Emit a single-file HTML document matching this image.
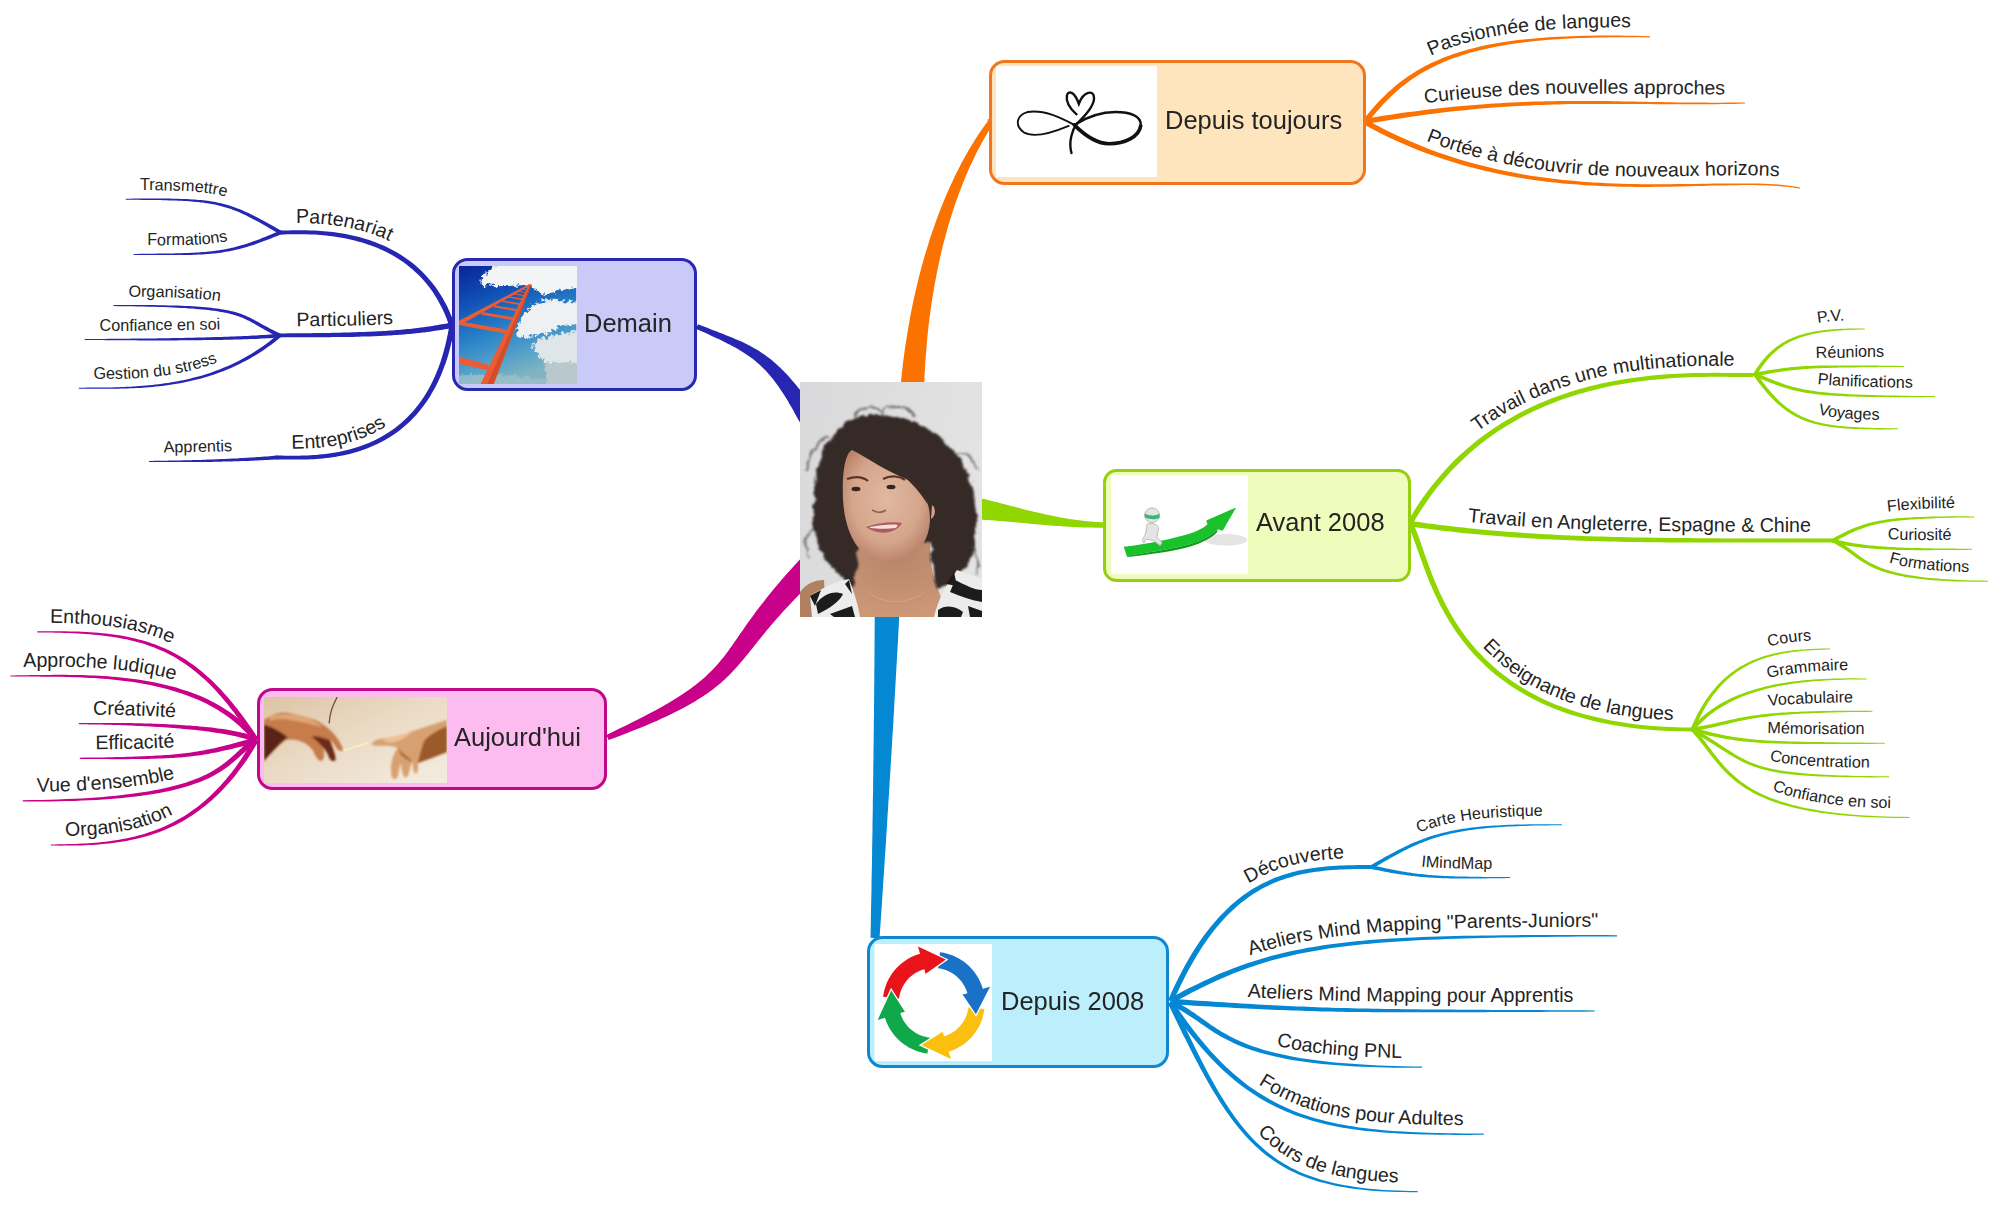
<!DOCTYPE html>
<html><head><meta charset="utf-8"><style>
html,body{margin:0;padding:0;background:#fff;width:2000px;height:1206px;overflow:hidden}
svg{display:block}
text{font-family:"Liberation Sans",sans-serif}
</style></head><body>
<svg width="2000" height="1206" viewBox="0 0 2000 1206">
<defs><path id="tp1" d="M1237.1,276.0 L1357.8,116.6 L1361.7,111.5 L1365.7,106.6 L1369.8,101.9 L1373.9,97.3 L1378.2,92.9 L1382.6,88.6 L1387.1,84.5 L1391.7,80.5 L1396.4,76.7 L1401.3,73.0 L1406.4,69.5 L1411.6,66.1 L1416.9,62.9 L1422.5,59.9 L1428.2,57.0 L1434.0,54.2 L1440.1,51.6 L1446.4,49.1 L1452.9,46.8 L1459.5,44.6 L1466.4,42.6 L1473.6,40.7 L1480.9,38.9 L1488.5,37.3 L1496.4,35.8 L1504.5,34.5 L1512.8,33.2 L1521.5,32.1 L1530.4,31.1 L1539.7,30.3 L1549.2,29.5 L1559.1,28.9 L1569.2,28.4 L1579.7,28.0 L1590.6,27.7 L1601.8,27.5 L1613.3,27.4 L1625.2,27.4 L1637.5,27.6 L1650.2,27.8 L1850.2,32.3"/>
<path id="tp2" d="M1163.5,147.8 L1360.4,113.1 L1372.9,111.0 L1385.2,109.0 L1397.1,107.2 L1408.8,105.5 L1420.3,103.9 L1431.5,102.5 L1442.5,101.2 L1453.3,100.0 L1463.9,99.0 L1474.2,98.0 L1484.4,97.2 L1494.5,96.5 L1504.3,95.8 L1514.0,95.3 L1523.6,94.8 L1533.0,94.4 L1542.3,94.1 L1551.4,93.9 L1560.5,93.7 L1569.5,93.6 L1578.4,93.5 L1587.2,93.4 L1595.9,93.5 L1604.6,93.5 L1613.3,93.6 L1621.9,93.6 L1630.5,93.7 L1639.1,93.9 L1647.7,94.0 L1656.2,94.1 L1664.8,94.2 L1673.5,94.3 L1682.1,94.4 L1690.9,94.4 L1699.6,94.5 L1708.5,94.5 L1717.4,94.4 L1726.4,94.3 L1735.5,94.2 L1744.8,94.0 L1944.7,89.2"/>
<path id="tp3" d="M1194.8,16.6 L1369.4,114.1 L1382.0,120.9 L1394.6,127.2 L1407.3,133.0 L1419.9,138.4 L1432.5,143.3 L1445.1,147.7 L1457.6,151.8 L1470.2,155.5 L1482.7,158.8 L1495.1,161.7 L1507.5,164.3 L1519.8,166.7 L1532.0,168.7 L1544.1,170.4 L1556.2,171.9 L1568.1,173.1 L1579.9,174.1 L1591.6,174.9 L1603.2,175.5 L1614.6,176.0 L1625.9,176.3 L1637.1,176.5 L1648.0,176.6 L1658.8,176.5 L1669.4,176.4 L1679.9,176.3 L1690.1,176.1 L1700.1,175.9 L1709.9,175.7 L1719.5,175.5 L1728.8,175.4 L1737.9,175.3 L1746.8,175.3 L1755.4,175.4 L1763.8,175.6 L1771.9,175.9 L1779.7,176.4 L1787.3,177.1 L1794.6,178.0 L1801.6,179.1 L1998.4,215.1"/>
<path id="tp4" d="M80.6,223.5 L280.6,223.5 L282.4,223.5 L284.5,223.4 L287.0,223.4 L289.9,223.3 L293.0,223.3 L296.4,223.2 L300.1,223.2 L304.1,223.2 L308.2,223.3 L312.6,223.5 L317.2,223.7 L321.9,224.0 L326.8,224.5 L331.9,225.0 L337.0,225.7 L342.3,226.5 L347.7,227.5 L353.2,228.7 L358.7,230.0 L364.3,231.5 L370.0,233.2 L375.6,235.2 L381.3,237.4 L386.9,239.8 L392.5,242.5 L398.1,245.5 L403.6,248.7 L409.0,252.3 L414.3,256.2 L419.5,260.4 L424.6,264.9 L429.5,269.8 L434.2,275.0 L438.7,280.6 L443.0,286.6 L447.0,293.0 L450.8,299.7 L454.4,306.9 L457.6,314.4 L460.5,322.4 L524.7,511.8"/>
<path id="tp5" d="M-74.2,190.2 L125.8,190.2 L132.6,190.2 L139.1,190.2 L145.3,190.2 L151.2,190.3 L156.8,190.3 L162.2,190.4 L167.4,190.5 L172.3,190.6 L177.1,190.7 L181.6,190.9 L185.9,191.1 L190.1,191.3 L194.1,191.6 L198.0,191.9 L201.7,192.3 L205.4,192.7 L208.9,193.2 L212.3,193.7 L215.6,194.3 L218.9,194.9 L222.1,195.7 L225.3,196.4 L228.4,197.3 L231.4,198.2 L234.5,199.3 L237.5,200.4 L240.6,201.5 L243.6,202.8 L246.7,204.1 L249.8,205.5 L252.9,207.0 L256.1,208.6 L259.3,210.3 L262.7,212.0 L266.1,213.9 L269.6,215.9 L273.3,217.9 L277.1,220.1 L281.0,222.3 L285.1,224.7 L458.1,325.0"/>
<path id="tp6" d="M-66.4,245.4 L133.6,245.4 L139.6,245.4 L145.4,245.4 L151.0,245.4 L156.3,245.4 L161.4,245.4 L166.3,245.3 L170.9,245.3 L175.4,245.2 L179.7,245.2 L183.8,245.1 L187.7,244.9 L191.5,244.8 L195.1,244.7 L198.6,244.5 L202.0,244.3 L205.2,244.0 L208.4,243.8 L211.4,243.5 L214.4,243.1 L217.2,242.7 L220.1,242.3 L222.8,241.9 L225.5,241.4 L228.2,240.9 L230.9,240.3 L233.6,239.6 L236.3,239.0 L239.0,238.2 L241.8,237.4 L244.5,236.6 L247.4,235.7 L250.3,234.7 L253.3,233.6 L256.3,232.5 L259.5,231.3 L262.8,230.1 L266.2,228.7 L269.7,227.3 L273.3,225.8 L277.1,224.2 L461.5,146.7"/>
<path id="tp7" d="M79.6,326.3 L279.6,326.3 L287.0,326.3 L294.2,326.3 L301.1,326.3 L307.7,326.2 L314.2,326.2 L320.4,326.1 L326.3,326.1 L332.1,326.0 L337.6,325.9 L343.0,325.8 L348.2,325.7 L353.1,325.6 L357.9,325.4 L362.6,325.3 L367.1,325.1 L371.4,325.0 L375.6,324.8 L379.6,324.6 L383.5,324.4 L387.3,324.2 L391.0,323.9 L394.6,323.7 L398.1,323.4 L401.5,323.1 L404.8,322.8 L408.0,322.5 L411.2,322.2 L414.3,321.9 L417.4,321.5 L420.4,321.1 L423.4,320.8 L426.4,320.3 L429.4,319.9 L432.3,319.5 L435.3,319.0 L438.3,318.5 L441.2,318.0 L444.3,317.5 L447.3,317.0 L450.4,316.4 L647.2,280.8"/>
<path id="tp8" d="M-86.5,296.6 L113.5,296.6 L123.8,296.6 L133.5,296.7 L142.6,296.8 L151.2,296.9 L159.4,297.1 L167.0,297.3 L174.2,297.5 L180.9,297.8 L187.2,298.1 L193.2,298.5 L198.7,298.9 L203.9,299.3 L208.8,299.8 L213.3,300.3 L217.6,300.9 L221.6,301.5 L225.3,302.1 L228.8,302.8 L232.2,303.6 L235.3,304.4 L238.2,305.2 L241.0,306.1 L243.7,307.0 L246.2,308.0 L248.6,309.0 L251.0,310.0 L253.2,311.1 L255.4,312.2 L257.5,313.3 L259.5,314.5 L261.6,315.7 L263.7,316.8 L265.8,318.0 L267.9,319.2 L270.1,320.5 L272.5,321.7 L274.9,323.0 L277.6,324.4 L280.3,325.7 L283.3,327.1 L465.3,410.1"/>
<path id="tp9" d="M-115.4,330.5 L84.6,330.5 L87.9,330.5 L91.4,330.5 L95.1,330.5 L99.1,330.5 L103.2,330.5 L107.5,330.5 L111.9,330.5 L116.5,330.5 L121.2,330.5 L126.1,330.5 L131.1,330.5 L136.2,330.5 L141.4,330.5 L146.6,330.4 L152.0,330.4 L157.4,330.4 L162.9,330.3 L168.4,330.3 L174.0,330.2 L179.6,330.2 L185.1,330.1 L190.7,330.0 L196.3,329.9 L201.9,329.8 L207.4,329.7 L212.9,329.6 L218.3,329.5 L223.7,329.3 L228.9,329.2 L234.1,329.0 L239.2,328.9 L244.2,328.7 L249.1,328.5 L253.8,328.2 L258.4,328.0 L262.9,327.8 L267.1,327.5 L271.2,327.2 L275.1,326.9 L278.8,326.6 L478.0,309.2"/>
<path id="tp10" d="M-121.2,379.2 L78.8,379.2 L83.4,379.2 L88.1,379.2 L92.8,379.2 L97.6,379.2 L102.4,379.2 L107.2,379.1 L112.0,379.1 L116.9,379.0 L121.8,378.8 L126.7,378.7 L131.6,378.4 L136.6,378.2 L141.5,377.8 L146.5,377.4 L151.5,377.0 L156.5,376.4 L161.5,375.8 L166.5,375.1 L171.5,374.4 L176.5,373.5 L181.5,372.5 L186.5,371.4 L191.5,370.3 L196.5,369.0 L201.5,367.6 L206.5,366.0 L211.4,364.4 L216.3,362.6 L221.3,360.6 L226.2,358.6 L231.0,356.3 L235.9,354.0 L240.7,351.4 L245.5,348.7 L250.3,345.9 L255.1,342.8 L259.8,339.6 L264.5,336.2 L269.1,332.6 L273.8,328.7 L426.2,199.3"/>
<path id="tp11" d="M76.7,448.5 L276.7,448.5 L279.7,448.5 L283.0,448.6 L286.4,448.6 L290.1,448.7 L293.9,448.7 L298.0,448.7 L302.2,448.6 L306.6,448.5 L311.1,448.3 L315.8,448.0 L320.6,447.6 L325.4,447.0 L330.4,446.4 L335.4,445.5 L340.5,444.6 L345.6,443.4 L350.7,442.0 L355.8,440.5 L361.0,438.7 L366.1,436.7 L371.1,434.5 L376.1,432.0 L381.1,429.2 L385.9,426.2 L390.7,422.8 L395.4,419.2 L400.0,415.2 L404.4,410.8 L408.7,406.1 L412.9,401.0 L416.9,395.5 L420.7,389.6 L424.3,383.2 L427.8,376.4 L431.0,369.0 L433.9,361.2 L436.7,352.9 L439.1,344.0 L441.3,334.6 L443.1,324.5 L475.5,127.2"/>
<path id="tp12" d="M-51.0,452.4 L149.0,452.4 L150.9,452.4 L152.9,452.4 L155.0,452.4 L157.2,452.4 L159.5,452.4 L161.9,452.4 L164.4,452.4 L166.9,452.4 L169.6,452.3 L172.3,452.3 L175.0,452.3 L177.9,452.3 L180.8,452.2 L183.8,452.2 L186.9,452.2 L190.0,452.1 L193.1,452.1 L196.4,452.0 L199.6,451.9 L203.0,451.9 L206.4,451.8 L209.8,451.7 L213.2,451.6 L216.7,451.5 L220.3,451.4 L223.9,451.3 L227.5,451.2 L231.1,451.0 L234.8,450.9 L238.5,450.7 L242.2,450.6 L245.9,450.4 L249.6,450.2 L253.4,450.0 L257.2,449.8 L260.9,449.5 L264.7,449.3 L268.5,449.1 L272.3,448.8 L276.0,448.5 L475.5,433.6"/>
<path id="tp13" d="M-162.7,622.8 L37.3,622.8 L44.9,622.8 L52.4,622.9 L59.7,623.0 L66.8,623.2 L73.8,623.4 L80.7,623.7 L87.4,624.1 L94.0,624.6 L100.5,625.1 L106.8,625.8 L113.0,626.6 L119.2,627.5 L125.2,628.6 L131.1,629.8 L136.9,631.1 L142.7,632.6 L148.3,634.3 L153.9,636.2 L159.4,638.2 L164.8,640.4 L170.2,642.9 L175.5,645.5 L180.7,648.3 L185.9,651.4 L191.0,654.7 L196.0,658.2 L201.0,662.0 L205.9,666.0 L210.8,670.2 L215.7,674.7 L220.5,679.5 L225.3,684.5 L230.1,689.8 L234.9,695.4 L239.7,701.3 L244.4,707.4 L249.2,713.9 L254.0,720.7 L258.8,727.7 L263.6,735.2 L371.3,903.7"/>
<path id="tp14" d="M-189.6,667.0 L10.4,667.0 L15.6,667.0 L21.1,667.0 L26.7,666.9 L32.4,666.9 L38.4,666.8 L44.5,666.8 L50.7,666.8 L57.0,666.8 L63.5,666.8 L70.1,666.9 L76.7,667.1 L83.5,667.3 L90.3,667.6 L97.2,668.0 L104.1,668.4 L111.1,669.0 L118.1,669.6 L125.1,670.4 L132.1,671.3 L139.2,672.3 L146.2,673.5 L153.2,674.8 L160.1,676.2 L167.1,677.9 L173.9,679.7 L180.7,681.6 L187.5,683.8 L194.1,686.2 L200.7,688.8 L207.1,691.7 L213.5,694.7 L219.7,698.0 L225.7,701.6 L231.6,705.4 L237.4,709.5 L242.9,713.9 L248.3,718.6 L253.4,723.5 L258.4,728.8 L263.0,734.4 L387.5,891.0"/>
<path id="tp15" d="M-121.2,714.6 L78.8,714.6 L82.0,714.6 L85.4,714.6 L89.0,714.6 L92.9,714.6 L96.9,714.7 L101.1,714.7 L105.4,714.8 L109.9,714.8 L114.6,714.9 L119.3,715.0 L124.2,715.1 L129.1,715.3 L134.2,715.4 L139.3,715.6 L144.5,715.8 L149.8,716.0 L155.0,716.2 L160.3,716.5 L165.6,716.8 L171.0,717.1 L176.3,717.5 L181.5,717.8 L186.8,718.3 L192.0,718.7 L197.1,719.2 L202.2,719.7 L207.2,720.2 L212.1,720.8 L216.9,721.5 L221.5,722.1 L226.1,722.8 L230.5,723.6 L234.7,724.4 L238.8,725.3 L242.8,726.2 L246.5,727.2 L250.1,728.2 L253.5,729.3 L256.7,730.5 L259.8,731.8 L441.3,815.7"/>
<path id="tp16" d="M-120.2,749.3 L79.8,749.3 L87.7,749.3 L95.2,749.3 L102.4,749.2 L109.3,749.2 L115.9,749.1 L122.2,749.1 L128.1,749.0 L133.9,748.9 L139.3,748.7 L144.5,748.6 L149.5,748.4 L154.3,748.2 L158.9,748.0 L163.2,747.8 L167.4,747.5 L171.4,747.3 L175.3,747.0 L179.0,746.6 L182.6,746.3 L186.1,745.9 L189.5,745.5 L192.8,745.1 L196.0,744.6 L199.2,744.1 L202.3,743.6 L205.4,743.0 L208.5,742.5 L211.6,741.8 L214.7,741.2 L217.8,740.5 L221.0,739.8 L224.2,739.0 L227.5,738.2 L230.9,737.3 L234.4,736.4 L238.0,735.5 L241.7,734.5 L245.5,733.5 L249.5,732.4 L253.7,731.3 L446.8,679.4"/>
<path id="tp17" d="M-177.2,791.8 L22.8,791.8 L37.4,791.7 L51.3,791.5 L64.5,791.2 L76.9,790.7 L88.7,790.1 L99.8,789.4 L110.3,788.6 L120.2,787.7 L129.4,786.6 L138.1,785.5 L146.3,784.3 L153.9,783.0 L161.0,781.7 L167.6,780.2 L173.8,778.7 L179.5,777.2 L184.8,775.6 L189.7,773.9 L194.3,772.2 L198.5,770.5 L202.3,768.7 L205.9,767.0 L209.3,765.2 L212.4,763.4 L215.2,761.5 L217.9,759.7 L220.5,757.8 L222.9,755.9 L225.2,754.0 L227.5,752.1 L229.7,750.2 L231.8,748.2 L234.0,746.3 L236.2,744.3 L238.4,742.3 L240.7,740.3 L243.1,738.3 L245.6,736.3 L248.3,734.3 L251.1,732.4 L418.9,623.7"/>
<path id="tp18" d="M-149.2,836.0 L50.8,836.0 L56.3,836.0 L61.7,836.0 L67.1,835.9 L72.6,835.8 L78.0,835.6 L83.4,835.4 L88.7,835.1 L94.1,834.8 L99.4,834.3 L104.7,833.8 L110.0,833.2 L115.3,832.4 L120.5,831.6 L125.7,830.6 L130.9,829.5 L136.0,828.3 L141.1,826.9 L146.2,825.4 L151.2,823.7 L156.2,821.8 L161.2,819.8 L166.1,817.6 L171.0,815.2 L175.8,812.6 L180.7,809.7 L185.4,806.7 L190.2,803.4 L194.9,799.9 L199.6,796.2 L204.2,792.2 L208.8,787.9 L213.3,783.3 L217.9,778.5 L222.3,773.3 L226.8,767.8 L231.1,762.1 L235.5,756.0 L239.8,749.5 L244.0,742.7 L248.2,735.6 L346.6,561.5"/>
<path id="tp19" d="M1303.0,692.2 L1402.2,518.5 L1409.7,506.1 L1417.5,494.3 L1425.7,483.2 L1434.2,472.7 L1443.0,462.9 L1452.1,453.7 L1461.4,445.1 L1470.9,437.0 L1480.6,429.5 L1490.5,422.6 L1500.6,416.1 L1510.7,410.2 L1521.0,404.8 L1531.3,399.8 L1541.7,395.2 L1552.1,391.1 L1562.5,387.4 L1572.9,384.1 L1583.3,381.1 L1593.6,378.5 L1603.8,376.1 L1613.9,374.1 L1623.9,372.4 L1633.7,370.9 L1643.4,369.6 L1652.9,368.6 L1662.1,367.8 L1671.1,367.1 L1679.9,366.6 L1688.4,366.3 L1696.6,366.0 L1704.5,365.9 L1712.0,365.8 L1719.1,365.8 L1725.9,365.9 L1732.2,365.9 L1738.1,366.0 L1743.5,366.0 L1748.5,366.0 L1752.8,366.0 L1952.8,362.1"/>
<path id="tp20" d="M1644.7,541.6 L1747.3,369.9 L1749.0,367.1 L1750.8,364.3 L1752.6,361.7 L1754.4,359.1 L1756.3,356.7 L1758.2,354.3 L1760.2,352.0 L1762.2,349.8 L1764.3,347.6 L1766.4,345.6 L1768.7,343.6 L1770.9,341.7 L1773.3,340.0 L1775.6,338.3 L1778.1,336.7 L1780.6,335.1 L1783.2,333.7 L1785.9,332.4 L1788.6,331.1 L1791.4,329.9 L1794.3,328.8 L1797.2,327.8 L1800.2,326.8 L1803.3,326.0 L1806.5,325.2 L1809.7,324.4 L1813.0,323.8 L1816.4,323.1 L1819.9,322.6 L1823.5,322.1 L1827.1,321.7 L1830.9,321.3 L1834.8,321.0 L1838.7,320.7 L1842.8,320.5 L1847.0,320.3 L1851.2,320.2 L1855.6,320.1 L1860.2,320.0 L1864.8,320.0 L2064.8,320.0"/>
<path id="tp21" d="M1556.8,402.5 L1753.3,365.7 L1756.7,365.0 L1759.9,364.4 L1763.1,363.9 L1766.1,363.3 L1769.0,362.8 L1771.9,362.4 L1774.7,361.9 L1777.5,361.5 L1780.2,361.1 L1782.9,360.7 L1785.5,360.4 L1788.2,360.1 L1790.8,359.8 L1793.5,359.5 L1796.2,359.2 L1798.9,359.0 L1801.7,358.8 L1804.5,358.6 L1807.4,358.4 L1810.4,358.3 L1813.5,358.1 L1816.6,358.0 L1819.9,357.9 L1823.3,357.8 L1826.8,357.7 L1830.5,357.7 L1834.4,357.6 L1838.4,357.5 L1842.6,357.5 L1847.0,357.5 L1851.6,357.4 L1856.4,357.4 L1861.4,357.4 L1866.7,357.4 L1872.3,357.4 L1878.1,357.4 L1884.2,357.4 L1890.5,357.4 L1897.2,357.4 L1904.2,357.4 L2104.2,357.4"/>
<path id="tp22" d="M1573.6,289.8 L1758.4,366.2 L1761.6,367.5 L1764.6,368.7 L1767.5,369.9 L1770.3,371.1 L1773.0,372.2 L1775.6,373.2 L1778.2,374.2 L1780.7,375.1 L1783.2,376.0 L1785.6,376.9 L1788.1,377.7 L1790.6,378.5 L1793.1,379.2 L1795.7,379.9 L1798.3,380.5 L1801.0,381.1 L1803.9,381.7 L1806.9,382.3 L1810.0,382.8 L1813.2,383.3 L1816.7,383.7 L1820.3,384.2 L1824.1,384.6 L1828.2,385.0 L1832.5,385.3 L1837.0,385.6 L1841.8,385.9 L1846.9,386.2 L1852.3,386.4 L1858.0,386.6 L1864.0,386.8 L1870.3,387.0 L1877.0,387.1 L1884.1,387.3 L1891.5,387.4 L1899.4,387.5 L1907.6,387.5 L1916.3,387.6 L1925.4,387.6 L1935.0,387.6 L2135.0,387.6"/>
<path id="tp23" d="M1646.6,206.2 L1762.3,369.3 L1764.9,372.9 L1767.5,376.4 L1770.0,379.6 L1772.5,382.7 L1774.9,385.6 L1777.3,388.3 L1779.7,390.9 L1782.1,393.3 L1784.4,395.6 L1786.8,397.7 L1789.1,399.6 L1791.5,401.5 L1793.8,403.2 L1796.2,404.8 L1798.6,406.3 L1801.1,407.7 L1803.7,408.9 L1806.3,410.1 L1808.9,411.2 L1811.7,412.2 L1814.6,413.2 L1817.5,414.0 L1820.6,414.8 L1823.8,415.5 L1827.2,416.2 L1830.7,416.8 L1834.3,417.3 L1838.1,417.7 L1842.1,418.2 L1846.2,418.5 L1850.5,418.8 L1855.0,419.1 L1859.6,419.3 L1864.5,419.4 L1869.5,419.6 L1874.8,419.7 L1880.2,419.7 L1885.9,419.8 L1891.8,419.8 L1897.9,419.8 L2097.9,419.8"/>
<path id="tp24" d="M1213.5,485.6 L1411.4,514.7 L1420.7,516.0 L1430.0,517.3 L1439.3,518.5 L1448.6,519.6 L1457.9,520.7 L1467.2,521.7 L1476.5,522.6 L1485.8,523.5 L1495.2,524.3 L1504.6,525.0 L1514.1,525.7 L1523.6,526.4 L1533.1,527.0 L1542.7,527.5 L1552.4,528.0 L1562.2,528.5 L1572.0,528.9 L1581.9,529.3 L1591.9,529.6 L1602.0,530.0 L1612.1,530.2 L1622.4,530.5 L1632.8,530.7 L1643.3,530.9 L1654.0,531.0 L1664.7,531.1 L1675.6,531.2 L1686.7,531.3 L1697.9,531.4 L1709.2,531.4 L1720.7,531.5 L1732.3,531.5 L1744.1,531.5 L1756.1,531.5 L1768.3,531.5 L1780.6,531.5 L1793.2,531.5 L1805.9,531.5 L1818.9,531.5 L1832.0,531.5 L2032.0,531.5"/>
<path id="tp25" d="M1653.0,628.7 L1828.5,532.7 L1830.8,531.4 L1833.2,530.2 L1835.4,528.9 L1837.7,527.7 L1839.9,526.6 L1842.2,525.4 L1844.4,524.4 L1846.7,523.3 L1848.9,522.3 L1851.2,521.3 L1853.6,520.3 L1855.9,519.4 L1858.4,518.5 L1860.9,517.7 L1863.4,516.8 L1866.1,516.1 L1868.8,515.3 L1871.6,514.7 L1874.5,514.0 L1877.5,513.4 L1880.6,512.8 L1883.8,512.3 L1887.2,511.8 L1890.7,511.3 L1894.4,510.9 L1898.2,510.5 L1902.2,510.1 L1906.4,509.8 L1910.8,509.4 L1915.3,509.2 L1920.1,508.9 L1925.1,508.7 L1930.3,508.5 L1935.8,508.3 L1941.5,508.2 L1947.5,508.1 L1953.7,508.0 L1960.3,507.9 L1967.1,507.9 L1974.2,507.9 L2174.2,507.9"/>
<path id="tp26" d="M1641.9,480.1 L1835.1,531.9 L1837.6,532.5 L1840.1,533.2 L1842.7,533.7 L1845.3,534.3 L1847.9,534.8 L1850.6,535.3 L1853.4,535.7 L1856.2,536.2 L1859.0,536.6 L1861.9,537.0 L1864.8,537.3 L1867.8,537.6 L1870.8,537.9 L1873.9,538.2 L1877.0,538.5 L1880.2,538.7 L1883.4,538.9 L1886.7,539.1 L1890.0,539.3 L1893.4,539.4 L1896.8,539.6 L1900.3,539.7 L1903.8,539.8 L1907.4,539.9 L1911.0,540.0 L1914.7,540.1 L1918.4,540.1 L1922.2,540.2 L1926.0,540.2 L1929.9,540.2 L1933.9,540.3 L1937.9,540.3 L1941.9,540.3 L1946.0,540.3 L1950.2,540.3 L1954.4,540.3 L1958.7,540.3 L1963.1,540.3 L1967.4,540.3 L1971.9,540.3 L2171.9,540.3"/>
<path id="tp27" d="M1655.6,447.3 L1836.6,532.5 L1839.5,533.8 L1842.1,535.3 L1844.6,536.7 L1847.0,538.1 L1849.3,539.6 L1851.5,541.0 L1853.5,542.5 L1855.5,543.9 L1857.4,545.3 L1859.3,546.7 L1861.1,548.1 L1862.9,549.4 L1864.8,550.7 L1866.6,551.9 L1868.5,553.1 L1870.4,554.3 L1872.5,555.5 L1874.6,556.7 L1876.8,557.8 L1879.2,558.9 L1881.8,560.0 L1884.6,561.0 L1887.6,562.1 L1890.8,563.1 L1894.2,564.0 L1898.0,565.0 L1902.0,565.9 L1906.3,566.7 L1910.9,567.5 L1915.9,568.3 L1921.3,569.0 L1927.0,569.6 L1933.1,570.2 L1939.6,570.7 L1946.5,571.2 L1953.8,571.5 L1961.6,571.8 L1969.9,572.0 L1978.6,572.2 L1987.9,572.2 L2187.9,572.2"/>
<path id="tp28" d="M1325.6,342.1 L1418.1,519.4 L1420.0,523.4 L1421.8,527.6 L1423.6,532.2 L1425.4,537.0 L1427.2,542.1 L1429.1,547.4 L1431.0,553.0 L1433.1,558.8 L1435.3,564.8 L1437.7,571.0 L1440.2,577.4 L1442.9,583.8 L1445.9,590.4 L1449.1,597.1 L1452.5,603.8 L1456.3,610.5 L1460.3,617.3 L1464.7,624.0 L1469.5,630.7 L1474.6,637.4 L1480.1,643.9 L1486.0,650.4 L1492.4,656.7 L1499.2,662.8 L1506.5,668.8 L1514.3,674.6 L1522.7,680.2 L1531.7,685.5 L1541.2,690.5 L1551.3,695.3 L1562.1,699.7 L1573.6,703.8 L1585.8,707.4 L1598.7,710.7 L1612.3,713.6 L1626.7,716.0 L1641.9,717.9 L1657.9,719.3 L1674.8,720.2 L1692.5,720.5 L1892.5,720.5"/>
<path id="tp29" d="M1607.9,911.0 L1684.1,726.1 L1686.2,721.1 L1688.4,716.2 L1690.7,711.6 L1693.1,707.1 L1695.5,702.8 L1698.0,698.6 L1700.6,694.6 L1703.3,690.8 L1706.1,687.1 L1708.9,683.6 L1711.9,680.2 L1714.9,677.0 L1718.0,674.0 L1721.2,671.1 L1724.4,668.4 L1727.8,665.8 L1731.2,663.3 L1734.7,661.0 L1738.3,658.9 L1741.9,656.8 L1745.7,655.0 L1749.5,653.2 L1753.4,651.6 L1757.3,650.1 L1761.3,648.8 L1765.4,647.5 L1769.6,646.4 L1773.8,645.3 L1778.1,644.4 L1782.5,643.6 L1786.9,642.9 L1791.4,642.3 L1796.0,641.7 L1800.6,641.3 L1805.4,640.9 L1810.2,640.6 L1815.0,640.4 L1820.0,640.2 L1825.0,640.1 L1830.1,640.1 L2030.1,640.1"/>
<path id="tp30" d="M1558.1,877.9 L1685.5,723.8 L1689.0,719.7 L1692.6,715.9 L1696.5,712.3 L1700.4,708.8 L1704.5,705.6 L1708.8,702.5 L1713.1,699.7 L1717.5,697.0 L1722.1,694.5 L1726.7,692.1 L1731.4,689.9 L1736.1,687.9 L1740.9,686.0 L1745.8,684.2 L1750.7,682.6 L1755.7,681.1 L1760.6,679.8 L1765.6,678.5 L1770.7,677.4 L1775.7,676.4 L1780.7,675.4 L1785.7,674.6 L1790.7,673.8 L1795.7,673.2 L1800.7,672.6 L1805.6,672.1 L1810.5,671.6 L1815.3,671.3 L1820.1,671.0 L1824.8,670.7 L1829.4,670.5 L1834.0,670.3 L1838.4,670.2 L1842.8,670.1 L1847.1,670.0 L1851.2,669.9 L1855.3,669.9 L1859.2,669.9 L1863.0,669.9 L1866.6,669.9 L2066.6,669.9"/>
<path id="tp31" d="M1493.6,753.1 L1690.9,720.6 L1694.6,720.0 L1698.1,719.4 L1701.4,718.7 L1704.6,718.1 L1707.7,717.5 L1710.6,716.8 L1713.4,716.2 L1716.2,715.6 L1718.9,714.9 L1721.6,714.3 L1724.3,713.7 L1727.0,713.1 L1729.7,712.4 L1732.4,711.8 L1735.2,711.2 L1738.1,710.6 L1741.1,710.0 L1744.2,709.4 L1747.4,708.9 L1750.7,708.3 L1754.2,707.8 L1757.8,707.3 L1761.7,706.8 L1765.7,706.3 L1770.0,705.9 L1774.5,705.4 L1779.2,705.0 L1784.2,704.6 L1789.6,704.3 L1795.2,704.0 L1801.1,703.7 L1807.4,703.4 L1814.1,703.1 L1821.1,702.9 L1828.6,702.7 L1836.4,702.6 L1844.7,702.5 L1853.5,702.4 L1862.7,702.3 L1872.4,702.3 L2072.4,702.3"/>
<path id="tp32" d="M1500.8,671.4 L1694.6,720.8 L1698.2,721.7 L1701.7,722.6 L1705.0,723.4 L1708.2,724.2 L1711.3,724.9 L1714.3,725.6 L1717.3,726.3 L1720.2,726.9 L1723.1,727.5 L1725.9,728.1 L1728.7,728.6 L1731.6,729.1 L1734.5,729.6 L1737.4,730.0 L1740.4,730.4 L1743.5,730.8 L1746.7,731.2 L1750.1,731.5 L1753.5,731.8 L1757.1,732.1 L1760.9,732.4 L1764.8,732.6 L1769.0,732.8 L1773.3,733.1 L1777.9,733.2 L1782.8,733.4 L1787.9,733.6 L1793.2,733.7 L1798.9,733.8 L1804.9,733.9 L1811.2,734.0 L1817.8,734.1 L1824.8,734.1 L1832.1,734.2 L1839.9,734.2 L1848.0,734.3 L1856.5,734.3 L1865.5,734.3 L1874.9,734.3 L1884.8,734.3 L2084.8,734.3"/>
<path id="tp33" d="M1523.6,621.9 L1696.9,721.7 L1701.5,724.4 L1705.8,727.0 L1709.9,729.5 L1713.7,731.9 L1717.3,734.2 L1720.8,736.4 L1724.0,738.5 L1727.2,740.5 L1730.2,742.5 L1733.0,744.3 L1735.8,746.0 L1738.5,747.7 L1741.2,749.2 L1743.9,750.7 L1746.5,752.1 L1749.2,753.4 L1751.9,754.6 L1754.8,755.8 L1757.7,756.9 L1760.8,757.9 L1764.0,758.9 L1767.4,759.9 L1771.1,760.7 L1775.0,761.6 L1779.2,762.4 L1783.6,763.1 L1788.4,763.7 L1793.5,764.4 L1799.0,764.9 L1804.8,765.4 L1811.1,765.9 L1817.8,766.3 L1824.9,766.7 L1832.5,767.0 L1840.6,767.2 L1849.1,767.4 L1858.3,767.6 L1867.9,767.7 L1878.2,767.8 L1889.0,767.8 L2089.0,767.8"/>
<path id="tp34" d="M1563.7,576.2 L1699.0,723.4 L1701.9,726.6 L1704.6,729.7 L1707.1,732.9 L1709.6,736.0 L1712.1,739.2 L1714.4,742.3 L1716.8,745.3 L1719.1,748.3 L1721.4,751.3 L1723.8,754.3 L1726.2,757.1 L1728.6,760.0 L1731.2,762.7 L1733.8,765.5 L1736.6,768.1 L1739.5,770.7 L1742.5,773.3 L1745.8,775.8 L1749.3,778.3 L1753.0,780.6 L1756.9,783.0 L1761.2,785.2 L1765.7,787.4 L1770.6,789.5 L1775.8,791.6 L1781.4,793.5 L1787.4,795.4 L1793.8,797.2 L1800.6,798.9 L1807.9,800.4 L1815.6,801.8 L1823.9,803.2 L1832.6,804.3 L1841.9,805.4 L1851.7,806.3 L1862.1,807.0 L1873.1,807.6 L1884.7,808.0 L1896.9,808.3 L1909.7,808.4 L2109.7,808.4"/>
<path id="tp35" d="M1082.6,1180.8 L1162.3,997.4 L1166.7,987.8 L1171.1,978.5 L1175.5,969.8 L1180.0,961.4 L1184.5,953.5 L1189.1,946.0 L1193.8,938.9 L1198.5,932.1 L1203.2,925.7 L1208.1,919.7 L1212.9,914.1 L1217.9,908.7 L1222.9,903.8 L1227.9,899.1 L1233.1,894.8 L1238.2,890.7 L1243.4,887.0 L1248.7,883.5 L1254.0,880.4 L1259.4,877.5 L1264.7,874.8 L1270.2,872.4 L1275.6,870.3 L1281.1,868.4 L1286.6,866.6 L1292.2,865.1 L1297.7,863.8 L1303.3,862.6 L1308.9,861.7 L1314.5,860.8 L1320.2,860.1 L1325.8,859.6 L1331.5,859.1 L1337.2,858.7 L1342.8,858.5 L1348.6,858.3 L1354.3,858.1 L1360.0,858.0 L1365.7,858.0 L1371.5,858.0 L1571.5,858.0"/>
<path id="tp36" d="M1194.9,961.4 L1366.9,859.3 L1371.2,856.7 L1375.3,854.3 L1379.4,852.0 L1383.4,849.7 L1387.3,847.6 L1391.1,845.5 L1394.9,843.5 L1398.7,841.5 L1402.5,839.7 L1406.2,837.9 L1410.0,836.2 L1413.7,834.6 L1417.5,833.1 L1421.3,831.6 L1425.1,830.2 L1429.0,828.9 L1432.9,827.7 L1436.9,826.5 L1441.0,825.4 L1445.1,824.4 L1449.4,823.4 L1453.7,822.5 L1458.2,821.7 L1462.8,820.9 L1467.5,820.2 L1472.4,819.6 L1477.4,819.0 L1482.6,818.5 L1488.0,818.0 L1493.5,817.6 L1499.3,817.2 L1505.2,816.9 L1511.4,816.6 L1517.8,816.3 L1524.5,816.1 L1531.4,816.0 L1538.6,815.8 L1546.1,815.8 L1553.8,815.7 L1561.9,815.7 L1761.9,815.7"/>
<path id="tp37" d="M1178.6,813.6 L1373.5,858.2 L1377.2,859.1 L1380.9,859.9 L1384.4,860.6 L1387.9,861.3 L1391.2,862.0 L1394.5,862.6 L1397.8,863.2 L1401.0,863.7 L1404.1,864.2 L1407.2,864.7 L1410.2,865.1 L1413.2,865.5 L1416.2,865.9 L1419.2,866.2 L1422.1,866.5 L1425.0,866.8 L1428.0,867.1 L1430.9,867.3 L1433.9,867.5 L1436.9,867.7 L1439.9,867.9 L1442.9,868.0 L1446.0,868.1 L1449.1,868.2 L1452.3,868.3 L1455.5,868.4 L1458.8,868.5 L1462.2,868.5 L1465.6,868.6 L1469.2,868.6 L1472.8,868.6 L1476.5,868.6 L1480.3,868.6 L1484.2,868.6 L1488.2,868.6 L1492.3,868.6 L1496.6,868.6 L1501.0,868.6 L1505.5,868.6 L1510.2,868.6 L1710.2,868.6"/>
<path id="tp38" d="M991.1,1089.7 L1166.3,993.1 L1174.3,988.7 L1182.3,984.5 L1190.1,980.5 L1197.9,976.7 L1205.6,973.0 L1213.3,969.5 L1221.0,966.2 L1228.7,963.1 L1236.4,960.1 L1244.2,957.3 L1252.1,954.6 L1260.0,952.1 L1268.1,949.8 L1276.4,947.6 L1284.8,945.5 L1293.4,943.6 L1302.2,941.8 L1311.2,940.2 L1320.5,938.7 L1330.1,937.2 L1339.9,936.0 L1350.1,934.8 L1360.7,933.7 L1371.6,932.7 L1383.0,931.8 L1394.7,931.0 L1406.9,930.3 L1419.6,929.7 L1432.7,929.1 L1446.4,928.7 L1460.6,928.2 L1475.4,927.9 L1490.8,927.6 L1506.8,927.4 L1523.5,927.2 L1540.8,927.0 L1558.8,926.9 L1577.5,926.9 L1596.9,926.8 L1617.1,926.8 L1817.1,926.8"/>
<path id="tp39" d="M971.6,979.8 L1171.2,992.5 L1182.7,993.2 L1193.7,993.9 L1204.2,994.6 L1214.3,995.2 L1224.1,995.8 L1233.4,996.3 L1242.5,996.9 L1251.2,997.3 L1259.7,997.8 L1268.0,998.2 L1276.1,998.6 L1284.0,999.0 L1291.9,999.3 L1299.7,999.6 L1307.4,999.9 L1315.2,1000.2 L1323.0,1000.4 L1330.8,1000.6 L1338.8,1000.8 L1346.9,1001.0 L1355.2,1001.2 L1363.7,1001.3 L1372.4,1001.4 L1381.5,1001.5 L1390.9,1001.6 L1400.6,1001.7 L1410.7,1001.8 L1421.3,1001.8 L1432.3,1001.9 L1443.9,1001.9 L1456.0,1002.0 L1468.6,1002.0 L1481.9,1002.0 L1495.8,1002.0 L1510.4,1002.0 L1525.7,1002.0 L1541.7,1002.0 L1558.6,1002.0 L1576.3,1002.0 L1594.8,1002.0 L1794.8,1002.0"/>
<path id="tp40" d="M992.0,911.3 L1174.1,994.0 L1178.2,995.9 L1182.1,997.9 L1185.8,1000.0 L1189.3,1002.1 L1192.7,1004.2 L1196.0,1006.3 L1199.2,1008.5 L1202.3,1010.6 L1205.4,1012.8 L1208.4,1014.9 L1211.5,1017.1 L1214.5,1019.2 L1217.7,1021.3 L1220.9,1023.3 L1224.2,1025.4 L1227.7,1027.4 L1231.3,1029.4 L1235.1,1031.4 L1239.2,1033.3 L1243.5,1035.2 L1248.0,1037.1 L1252.9,1038.9 L1258.1,1040.7 L1263.7,1042.4 L1269.7,1044.1 L1276.0,1045.7 L1282.8,1047.2 L1290.1,1048.7 L1297.8,1050.1 L1306.1,1051.4 L1314.9,1052.6 L1324.2,1053.7 L1334.2,1054.7 L1344.7,1055.5 L1355.9,1056.3 L1367.7,1056.9 L1380.2,1057.4 L1393.4,1057.8 L1407.3,1058.0 L1422.0,1058.1 L1622.0,1058.1"/>
<path id="tp41" d="M1067.7,830.3 L1177.9,997.2 L1184.0,1006.2 L1190.0,1014.8 L1196.0,1022.9 L1202.0,1030.6 L1208.0,1037.9 L1214.0,1044.8 L1220.0,1051.3 L1226.0,1057.4 L1232.0,1063.2 L1238.1,1068.6 L1244.2,1073.7 L1250.4,1078.5 L1256.6,1083.0 L1262.9,1087.1 L1269.3,1091.0 L1275.7,1094.6 L1282.3,1097.9 L1289.0,1101.0 L1295.8,1103.9 L1302.7,1106.5 L1309.8,1108.9 L1317.0,1111.1 L1324.4,1113.1 L1332.0,1114.9 L1339.7,1116.5 L1347.7,1117.9 L1355.8,1119.2 L1364.2,1120.3 L1372.8,1121.3 L1381.6,1122.1 L1390.6,1122.9 L1399.9,1123.5 L1409.4,1123.9 L1419.2,1124.3 L1429.3,1124.6 L1439.6,1124.9 L1450.2,1125.0 L1461.1,1125.1 L1472.3,1125.2 L1483.8,1125.2 L1683.8,1125.2"/>
<path id="tp42" d="M1093.1,817.5 L1178.5,998.4 L1183.5,1008.8 L1188.3,1018.9 L1193.0,1028.7 L1197.6,1038.0 L1202.1,1047.1 L1206.6,1055.8 L1210.9,1064.1 L1215.3,1072.1 L1219.6,1079.8 L1223.8,1087.1 L1228.1,1094.2 L1232.4,1100.8 L1236.7,1107.2 L1241.0,1113.3 L1245.4,1119.0 L1249.8,1124.5 L1254.3,1129.6 L1258.9,1134.5 L1263.6,1139.0 L1268.4,1143.4 L1273.4,1147.4 L1278.5,1151.2 L1283.8,1154.7 L1289.2,1158.1 L1294.9,1161.1 L1300.8,1164.0 L1307.0,1166.6 L1313.4,1169.1 L1320.1,1171.3 L1327.1,1173.3 L1334.4,1175.1 L1342.1,1176.7 L1350.2,1178.1 L1358.6,1179.3 L1367.4,1180.3 L1376.6,1181.2 L1386.2,1181.8 L1396.3,1182.2 L1406.7,1182.5 L1417.7,1182.6 L1617.7,1182.6"/></defs>
<path d="M923.4,396.8 L924.2,384.8 L924.6,374.8 L925.2,365.0 L925.8,355.5 L926.6,346.1 L927.4,337.0 L928.3,328.0 L929.4,319.2 L930.5,310.7 L931.7,302.3 L933.0,294.2 L934.3,286.2 L935.8,278.4 L937.2,270.9 L938.8,263.5 L940.4,256.3 L942.0,249.3 L943.7,242.5 L945.5,235.9 L947.2,229.5 L949.0,223.3 L950.9,217.3 L952.7,211.4 L954.6,205.8 L956.5,200.3 L958.4,195.0 L960.3,189.9 L962.2,185.0 L964.1,180.2 L966.0,175.7 L967.9,171.3 L969.7,167.1 L971.6,163.1 L973.4,159.2 L975.2,155.6 L976.9,152.1 L978.6,148.8 L980.3,145.7 L981.9,142.7 L983.4,139.9 L984.9,137.3 L986.4,134.9 L987.7,132.6 L989.0,130.5 L990.2,128.6 L991.4,126.8 L992.4,125.2 L993.4,123.8 L994.2,122.5 L995.0,121.4 L995.7,120.4 L996.2,119.7 L996.7,119.0 L997.0,118.5 L997.3,118.1 L997.8,116.8 L993.4,114.2 L993.0,114.6 L992.6,114.9 L992.1,115.4 L991.4,116.1 L990.6,116.9 L989.7,117.8 L988.6,118.9 L987.3,120.1 L990.7,123.9 L992.1,122.7 L993.3,121.6 L994.3,120.7 L995.1,120.0 L995.8,119.4 L996.3,119.0 L996.6,118.7 L996.5,118.7 L992.3,116.1 L992.7,115.1 L992.5,115.3 L992.2,115.7 L991.7,116.3 L991.1,117.0 L990.4,117.9 L989.5,119.0 L988.5,120.3 L987.5,121.7 L986.3,123.3 L985.0,125.0 L983.6,126.9 L982.2,129.0 L980.6,131.2 L979.0,133.6 L977.3,136.2 L975.5,138.9 L973.7,141.9 L971.8,144.9 L969.8,148.2 L967.8,151.7 L965.8,155.3 L963.7,159.1 L961.5,163.1 L959.4,167.2 L957.2,171.6 L954.9,176.1 L952.7,180.9 L950.4,185.8 L948.1,190.9 L945.8,196.1 L943.6,201.6 L941.3,207.3 L939.0,213.1 L936.7,219.2 L934.5,225.5 L932.2,231.9 L930.0,238.6 L927.9,245.4 L925.7,252.5 L923.6,259.7 L921.5,267.2 L919.5,274.8 L917.6,282.7 L915.7,290.8 L913.8,299.1 L912.0,307.5 L910.3,316.2 L908.7,325.2 L907.2,334.3 L905.7,343.6 L904.3,353.2 L903.0,363.0 L901.9,373.0 L900.8,383.2 L900.0,395.2Z" fill="#fc7200"/>
<path d="M820.4,419.3 L814.1,409.0 L812.2,406.3 L810.3,403.7 L808.5,401.2 L806.7,398.7 L804.9,396.3 L803.1,394.0 L801.4,391.7 L799.7,389.5 L798.0,387.4 L796.3,385.3 L794.6,383.3 L793.0,381.4 L791.3,379.5 L789.7,377.6 L788.1,375.8 L786.5,374.1 L784.9,372.4 L783.3,370.8 L781.7,369.2 L780.1,367.6 L778.5,366.2 L777.0,364.7 L775.4,363.3 L773.8,361.9 L772.2,360.6 L770.7,359.3 L769.1,358.1 L767.5,356.9 L765.9,355.7 L764.3,354.6 L762.7,353.5 L761.1,352.4 L759.5,351.3 L757.8,350.3 L756.2,349.3 L754.5,348.4 L752.9,347.4 L751.2,346.5 L749.5,345.6 L747.8,344.7 L746.0,343.8 L744.3,343.0 L742.5,342.1 L740.7,341.3 L738.9,340.5 L737.0,339.7 L735.1,338.9 L733.2,338.1 L731.3,337.3 L729.3,336.5 L727.3,335.7 L725.3,334.9 L723.3,334.1 L721.2,333.2 L719.0,332.4 L716.9,331.6 L714.6,330.7 L712.4,329.9 L710.1,329.0 L707.8,328.1 L705.4,327.1 L703.0,326.2 L700.5,325.2 L698.0,324.2 L696.0,328.8 L698.5,329.9 L700.9,331.0 L703.3,332.1 L705.6,333.1 L707.9,334.1 L710.2,335.2 L712.3,336.2 L714.5,337.2 L716.6,338.2 L718.6,339.1 L720.6,340.1 L722.6,341.1 L724.5,342.0 L726.4,343.0 L728.3,343.9 L730.1,344.8 L731.8,345.8 L733.6,346.7 L735.3,347.6 L737.0,348.6 L738.6,349.5 L740.2,350.5 L741.8,351.5 L743.4,352.4 L744.9,353.4 L746.4,354.4 L747.9,355.4 L749.4,356.4 L750.8,357.5 L752.2,358.5 L753.6,359.6 L755.0,360.7 L756.4,361.9 L757.7,363.0 L759.1,364.2 L760.4,365.4 L761.7,366.7 L763.0,367.9 L764.3,369.2 L765.6,370.6 L766.9,372.0 L768.2,373.4 L769.5,374.9 L770.8,376.4 L772.1,378.0 L773.3,379.6 L774.6,381.2 L775.9,382.9 L777.2,384.7 L778.5,386.5 L779.8,388.4 L781.1,390.4 L782.5,392.4 L783.8,394.4 L785.1,396.6 L786.5,398.8 L787.9,401.0 L789.2,403.4 L790.6,405.8 L792.1,408.3 L793.5,410.8 L794.9,413.5 L796.4,416.2 L797.9,419.0 L804.2,429.2Z" fill="#2626b2"/>
<path d="M968.6,518.0 L980.5,519.7 L982.1,519.8 L983.6,519.8 L985.2,519.9 L986.8,520.0 L988.4,520.1 L990.1,520.2 L991.7,520.3 L993.4,520.5 L995.1,520.6 L996.8,520.7 L998.5,520.9 L1000.3,521.0 L1002.0,521.2 L1003.8,521.3 L1005.6,521.5 L1007.4,521.6 L1009.2,521.8 L1011.1,521.9 L1012.9,522.1 L1014.8,522.3 L1016.6,522.4 L1018.5,522.6 L1020.4,522.8 L1022.3,523.0 L1024.2,523.1 L1026.1,523.3 L1028.1,523.5 L1030.0,523.7 L1032.0,523.9 L1033.9,524.0 L1035.9,524.2 L1037.9,524.4 L1039.8,524.6 L1041.8,524.7 L1043.8,524.9 L1045.8,525.1 L1047.8,525.2 L1049.8,525.4 L1051.9,525.6 L1053.9,525.7 L1055.9,525.9 L1057.9,526.0 L1060.0,526.1 L1062.0,526.3 L1064.1,526.4 L1066.1,526.5 L1068.1,526.7 L1070.2,526.8 L1072.2,526.9 L1074.3,527.0 L1076.3,527.1 L1078.4,527.2 L1080.5,527.3 L1082.5,527.4 L1084.6,527.4 L1086.6,527.5 L1088.7,527.5 L1090.7,527.6 L1092.8,527.6 L1094.8,527.7 L1096.8,527.7 L1098.9,527.7 L1100.9,527.7 L1103.0,527.7 L1103.0,522.3 L1101.0,522.2 L1099.0,522.1 L1097.0,522.0 L1095.0,521.9 L1093.0,521.8 L1091.0,521.6 L1089.0,521.4 L1087.0,521.3 L1085.0,521.1 L1083.0,520.8 L1081.0,520.6 L1079.0,520.3 L1077.0,520.1 L1075.0,519.8 L1073.0,519.5 L1071.0,519.2 L1069.0,518.9 L1067.0,518.6 L1065.0,518.2 L1063.0,517.9 L1061.1,517.5 L1059.1,517.2 L1057.1,516.8 L1055.2,516.4 L1053.2,516.0 L1051.2,515.6 L1049.3,515.2 L1047.3,514.8 L1045.4,514.4 L1043.5,513.9 L1041.6,513.5 L1039.6,513.1 L1037.7,512.6 L1035.8,512.2 L1033.9,511.7 L1032.1,511.3 L1030.2,510.8 L1028.3,510.4 L1026.5,509.9 L1024.6,509.4 L1022.8,509.0 L1020.9,508.5 L1019.1,508.0 L1017.3,507.6 L1015.5,507.1 L1013.7,506.6 L1011.9,506.2 L1010.2,505.7 L1008.4,505.3 L1006.7,504.8 L1004.9,504.3 L1003.2,503.9 L1001.5,503.5 L999.8,503.0 L998.1,502.6 L996.4,502.1 L994.8,501.7 L993.1,501.3 L991.5,500.9 L989.8,500.5 L988.2,500.1 L986.6,499.7 L985.1,499.3 L983.5,498.9 L971.6,497.2Z" fill="#90d600"/>
<path d="M811.8,547.7 L803.2,556.1 L798.7,560.8 L794.4,565.5 L790.3,570.0 L786.4,574.3 L782.7,578.6 L779.1,582.7 L775.7,586.8 L772.4,590.7 L769.3,594.5 L766.3,598.2 L763.5,601.9 L760.7,605.4 L758.1,608.8 L755.6,612.1 L753.3,615.4 L751.0,618.6 L748.8,621.6 L746.6,624.6 L744.6,627.5 L742.6,630.4 L740.7,633.1 L738.8,635.8 L737.0,638.5 L735.2,641.0 L733.5,643.5 L731.8,646.0 L730.1,648.3 L728.4,650.7 L726.7,653.0 L725.0,655.2 L723.3,657.4 L721.5,659.6 L719.8,661.7 L718.0,663.8 L716.1,665.9 L714.2,668.0 L712.3,670.0 L710.3,672.1 L708.1,674.1 L706.0,676.2 L703.7,678.2 L701.3,680.3 L698.8,682.3 L696.1,684.4 L693.4,686.5 L690.5,688.7 L687.5,690.8 L684.3,693.0 L680.9,695.3 L677.4,697.5 L673.7,699.8 L669.8,702.2 L665.8,704.5 L661.5,707.0 L657.0,709.5 L652.3,712.0 L647.4,714.6 L642.3,717.3 L636.9,720.0 L631.3,722.8 L625.5,725.7 L619.4,728.6 L613.1,731.7 L606.4,734.9 L608.6,739.9 L615.5,737.4 L622.1,735.0 L628.5,732.5 L634.6,730.1 L640.5,727.7 L646.1,725.4 L651.5,723.1 L656.7,720.9 L661.6,718.6 L666.4,716.4 L670.9,714.3 L675.3,712.1 L679.4,710.0 L683.4,707.9 L687.3,705.8 L690.9,703.8 L694.5,701.7 L697.8,699.6 L701.1,697.6 L704.2,695.6 L707.2,693.5 L710.0,691.5 L712.8,689.4 L715.4,687.3 L718.0,685.3 L720.5,683.2 L722.9,681.1 L725.2,678.9 L727.4,676.8 L729.6,674.7 L731.7,672.5 L733.8,670.3 L735.9,668.1 L737.9,665.8 L739.8,663.6 L741.8,661.3 L743.7,658.9 L745.7,656.6 L747.6,654.2 L749.6,651.8 L751.6,649.3 L753.6,646.8 L755.6,644.2 L757.7,641.6 L759.8,639.0 L762.0,636.2 L764.3,633.5 L766.6,630.6 L769.0,627.7 L771.5,624.8 L774.1,621.7 L776.9,618.6 L779.7,615.4 L782.7,612.1 L785.7,608.7 L789.0,605.3 L792.3,601.7 L795.9,598.0 L799.6,594.3 L803.4,590.4 L807.5,586.5 L811.7,582.4 L816.1,578.2 L820.8,573.9 L829.3,565.5Z" fill="#c8008a"/>
<path d="M875.0,602.7 L874.7,614.6 L874.7,619.6 L874.7,624.6 L874.6,629.6 L874.6,634.6 L874.6,639.7 L874.5,644.8 L874.5,649.9 L874.5,655.1 L874.4,660.2 L874.4,665.4 L874.3,670.7 L874.3,675.9 L874.3,681.2 L874.2,686.4 L874.2,691.7 L874.1,697.0 L874.1,702.4 L874.0,707.7 L874.0,713.0 L873.9,718.4 L873.8,723.7 L873.8,729.1 L873.7,734.4 L873.7,739.8 L873.6,745.2 L873.5,750.5 L873.5,755.9 L873.4,761.2 L873.3,766.6 L873.3,771.9 L873.2,777.2 L873.1,782.6 L873.1,787.9 L873.0,793.2 L872.9,798.4 L872.8,803.7 L872.8,808.9 L872.7,814.2 L872.6,819.4 L872.5,824.5 L872.5,829.7 L872.4,834.8 L872.3,839.9 L872.2,845.0 L872.1,850.0 L872.1,855.0 L872.0,860.0 L871.9,864.9 L871.8,869.8 L871.7,874.7 L871.6,879.5 L871.5,884.3 L871.5,889.0 L871.4,893.7 L871.3,898.3 L871.2,902.9 L871.1,907.5 L871.0,912.0 L870.9,916.4 L870.9,920.8 L870.8,925.1 L870.7,929.4 L870.6,933.6 L870.5,937.8 L879.5,938.2 L879.8,934.1 L880.1,929.8 L880.4,925.6 L880.7,921.2 L881.0,916.9 L881.3,912.4 L881.6,907.9 L881.9,903.4 L882.2,898.8 L882.5,894.2 L882.8,889.5 L883.1,884.8 L883.4,880.0 L883.8,875.2 L884.1,870.3 L884.4,865.4 L884.7,860.5 L885.0,855.5 L885.4,850.5 L885.7,845.5 L886.0,840.5 L886.3,835.4 L886.7,830.2 L887.0,825.1 L887.3,819.9 L887.6,814.7 L888.0,809.5 L888.3,804.3 L888.6,799.0 L889.0,793.8 L889.3,788.5 L889.6,783.2 L889.9,777.9 L890.3,772.5 L890.6,767.2 L890.9,761.9 L891.2,756.5 L891.6,751.2 L891.9,745.8 L892.2,740.5 L892.5,735.1 L892.9,729.8 L893.2,724.4 L893.5,719.1 L893.8,713.7 L894.1,708.4 L894.4,703.1 L894.7,697.7 L895.0,692.4 L895.3,687.1 L895.6,681.9 L895.9,676.6 L896.2,671.4 L896.5,666.1 L896.8,660.9 L897.1,655.8 L897.4,650.6 L897.7,645.5 L898.0,640.4 L898.2,635.3 L898.5,630.3 L898.8,625.3 L899.0,620.3 L899.3,615.4 L899.6,603.4Z" fill="#0488d4"/>
<path d="M1367.2,123.7 L1369.5,120.6 L1371.8,117.6 L1374.2,114.7 L1376.6,111.8 L1379.0,109.1 L1381.4,106.3 L1383.9,103.6 L1386.4,101.0 L1388.9,98.5 L1391.5,96.0 L1394.2,93.5 L1396.8,91.2 L1399.5,88.8 L1402.3,86.6 L1405.1,84.4 L1408.0,82.2 L1410.9,80.1 L1413.9,78.1 L1416.9,76.1 L1420.0,74.1 L1423.2,72.3 L1426.4,70.4 L1429.7,68.7 L1433.1,67.0 L1436.5,65.3 L1440.0,63.7 L1443.6,62.1 L1447.3,60.6 L1451.0,59.1 L1454.8,57.7 L1458.8,56.4 L1462.8,55.0 L1466.9,53.8 L1471.1,52.6 L1475.3,51.4 L1479.7,50.3 L1484.2,49.2 L1488.8,48.2 L1493.5,47.2 L1498.2,46.3 L1503.1,45.4 L1508.1,44.6 L1513.3,43.8 L1518.5,43.1 L1523.8,42.4 L1529.3,41.7 L1534.9,41.1 L1540.6,40.6 L1546.4,40.1 L1552.3,39.6 L1558.4,39.2 L1564.6,38.8 L1571.0,38.4 L1577.4,38.1 L1584.0,37.9 L1590.8,37.7 L1597.7,37.5 L1604.7,37.4 L1611.9,37.3 L1619.2,37.2 L1626.7,37.2 L1634.3,37.2 L1642.1,37.3 L1650.0,37.4 L1650.0,36.2 L1642.1,36.0 L1634.3,35.8 L1626.7,35.7 L1619.2,35.6 L1611.9,35.5 L1604.7,35.5 L1597.6,35.6 L1590.7,35.7 L1584.0,35.8 L1577.4,35.9 L1570.9,36.2 L1564.5,36.4 L1558.3,36.7 L1552.2,37.0 L1546.2,37.4 L1540.3,37.9 L1534.6,38.4 L1529.0,38.9 L1523.5,39.5 L1518.1,40.1 L1512.8,40.8 L1507.7,41.5 L1502.6,42.2 L1497.7,43.1 L1492.8,43.9 L1488.1,44.8 L1483.4,45.8 L1478.9,46.8 L1474.4,47.9 L1470.1,49.0 L1465.8,50.2 L1461.6,51.4 L1457.5,52.7 L1453.5,54.0 L1449.6,55.4 L1445.8,56.8 L1442.0,58.3 L1438.3,59.9 L1434.7,61.5 L1431.2,63.1 L1427.7,64.8 L1424.3,66.6 L1421.0,68.4 L1417.7,70.3 L1414.5,72.2 L1411.4,74.2 L1408.3,76.3 L1405.2,78.4 L1402.3,80.6 L1399.3,82.8 L1396.5,85.1 L1393.6,87.5 L1390.9,89.9 L1388.1,92.3 L1385.4,94.9 L1382.8,97.4 L1380.2,100.1 L1377.6,102.8 L1375.1,105.6 L1372.6,108.4 L1370.1,111.3 L1367.6,114.2 L1365.2,117.3 L1362.8,120.3Z" fill="#fc7200"/>
<text id="L0" font-size="19.6" fill="#242424"><textPath href="#tp1" startOffset="295.8">Passionnée de langues</textPath></text>
<path d="M1362.5,124.7 L1370.3,123.3 L1377.9,122.0 L1385.5,120.7 L1392.9,119.5 L1400.3,118.4 L1407.6,117.3 L1414.7,116.2 L1421.8,115.2 L1428.7,114.3 L1435.6,113.4 L1442.4,112.6 L1449.1,111.8 L1455.8,111.1 L1462.3,110.4 L1468.8,109.7 L1475.2,109.1 L1481.5,108.5 L1487.8,108.0 L1494.0,107.5 L1500.1,107.1 L1506.2,106.7 L1512.2,106.3 L1518.1,106.0 L1524.0,105.7 L1529.9,105.4 L1535.7,105.1 L1541.4,104.9 L1547.2,104.7 L1552.8,104.5 L1558.4,104.4 L1564.0,104.2 L1569.6,104.1 L1575.1,104.1 L1580.6,104.0 L1586.1,103.9 L1591.6,103.9 L1597.0,103.9 L1602.4,103.9 L1607.8,103.9 L1613.2,103.9 L1618.6,103.9 L1623.9,103.9 L1629.3,104.0 L1634.7,104.0 L1640.0,104.1 L1645.4,104.1 L1650.7,104.1 L1656.1,104.2 L1661.5,104.2 L1666.9,104.3 L1672.3,104.3 L1677.7,104.3 L1683.1,104.3 L1688.6,104.3 L1694.1,104.3 L1699.6,104.3 L1705.2,104.3 L1710.7,104.2 L1716.3,104.2 L1722.0,104.1 L1727.7,104.0 L1733.4,103.9 L1739.2,103.8 L1745.0,103.6 L1745.0,102.4 L1739.2,102.5 L1733.4,102.6 L1727.7,102.6 L1722.0,102.7 L1716.3,102.7 L1710.7,102.7 L1705.2,102.6 L1699.6,102.6 L1694.1,102.6 L1688.6,102.5 L1683.2,102.4 L1677.7,102.4 L1672.3,102.3 L1666.9,102.2 L1661.5,102.1 L1656.1,102.0 L1650.8,101.9 L1645.4,101.8 L1640.0,101.7 L1634.7,101.6 L1629.3,101.5 L1624.0,101.4 L1618.6,101.3 L1613.2,101.2 L1607.8,101.1 L1602.4,101.1 L1597.0,101.0 L1591.6,101.0 L1586.1,101.0 L1580.6,101.0 L1575.1,101.0 L1569.6,101.0 L1564.0,101.0 L1558.4,101.1 L1552.7,101.2 L1547.1,101.3 L1541.3,101.4 L1535.6,101.6 L1529.7,101.8 L1523.9,102.0 L1518.0,102.2 L1512.0,102.5 L1505.9,102.8 L1499.9,103.2 L1493.7,103.5 L1487.5,104.0 L1481.2,104.4 L1474.8,104.9 L1468.4,105.4 L1461.9,106.0 L1455.3,106.6 L1448.7,107.3 L1441.9,108.0 L1435.1,108.8 L1428.2,109.6 L1421.1,110.4 L1414.0,111.4 L1406.8,112.3 L1399.6,113.3 L1392.2,114.4 L1384.7,115.5 L1377.1,116.7 L1369.3,118.0 L1361.5,119.3Z" fill="#fc7200"/>
<text id="L1" font-size="19.6" fill="#242424"><textPath href="#tp2" startOffset="265.0">Curieuse des nouvelles approches</textPath></text>
<path d="M1363.7,124.4 L1371.8,128.8 L1379.9,132.9 L1388.0,136.9 L1396.1,140.7 L1404.2,144.3 L1412.3,147.7 L1420.4,150.9 L1428.5,154.0 L1436.6,156.8 L1444.7,159.5 L1452.7,162.1 L1460.7,164.5 L1468.8,166.7 L1476.8,168.8 L1484.7,170.7 L1492.7,172.5 L1500.6,174.2 L1508.4,175.8 L1516.3,177.2 L1524.1,178.5 L1531.9,179.7 L1539.6,180.7 L1547.3,181.7 L1555.0,182.6 L1562.6,183.4 L1570.1,184.0 L1577.6,184.6 L1585.1,185.2 L1592.5,185.6 L1599.8,186.0 L1607.1,186.3 L1614.3,186.5 L1621.4,186.7 L1628.5,186.8 L1635.6,186.9 L1642.5,186.9 L1649.4,186.9 L1656.2,186.8 L1662.9,186.8 L1669.6,186.7 L1676.1,186.5 L1682.6,186.4 L1689.0,186.3 L1695.3,186.1 L1701.5,185.9 L1707.7,185.8 L1713.7,185.6 L1719.7,185.5 L1725.5,185.4 L1731.2,185.3 L1736.9,185.2 L1742.4,185.1 L1747.9,185.1 L1753.2,185.1 L1758.4,185.2 L1763.5,185.3 L1768.5,185.5 L1773.3,185.7 L1778.1,186.0 L1782.7,186.4 L1787.2,186.8 L1791.5,187.3 L1795.8,187.9 L1799.9,188.6 L1800.1,187.4 L1796.0,186.7 L1791.7,186.1 L1787.3,185.5 L1782.8,185.0 L1778.2,184.6 L1773.4,184.3 L1768.5,184.0 L1763.5,183.8 L1758.4,183.6 L1753.2,183.5 L1747.9,183.4 L1742.4,183.4 L1736.9,183.4 L1731.2,183.4 L1725.5,183.4 L1719.6,183.5 L1713.7,183.6 L1707.6,183.7 L1701.5,183.8 L1695.3,183.9 L1689.0,184.0 L1682.6,184.1 L1676.1,184.1 L1669.5,184.2 L1662.9,184.2 L1656.2,184.3 L1649.4,184.2 L1642.5,184.2 L1635.6,184.1 L1628.6,183.9 L1621.5,183.7 L1614.4,183.5 L1607.2,183.2 L1599.9,182.8 L1592.6,182.4 L1585.3,181.9 L1577.9,181.3 L1570.4,180.6 L1562.9,179.9 L1555.4,179.0 L1547.8,178.1 L1540.1,177.1 L1532.4,175.9 L1524.7,174.7 L1517.0,173.3 L1509.2,171.8 L1501.4,170.2 L1493.6,168.5 L1485.7,166.6 L1477.8,164.6 L1469.9,162.4 L1462.0,160.2 L1454.1,157.7 L1446.1,155.1 L1438.2,152.4 L1430.2,149.4 L1422.2,146.3 L1414.2,143.1 L1406.2,139.6 L1398.3,136.0 L1390.3,132.2 L1382.3,128.2 L1374.3,124.0 L1366.3,119.6Z" fill="#fc7200"/>
<text id="L2" font-size="19.6" fill="#242424"><textPath href="#tp3" startOffset="262.5">Portée à découvrir de nouveaux horizons</textPath></text>
<path d="M454.6,324.4 L452.9,319.6 L451.0,314.9 L449.0,310.4 L447.0,306.1 L444.8,301.9 L442.5,297.8 L440.1,293.9 L437.7,290.2 L435.1,286.6 L432.5,283.2 L429.8,279.9 L427.0,276.7 L424.2,273.7 L421.3,270.8 L418.3,268.0 L415.3,265.3 L412.2,262.8 L409.1,260.4 L405.9,258.2 L402.7,256.0 L399.5,253.9 L396.2,252.0 L392.9,250.2 L389.5,248.4 L386.2,246.8 L382.8,245.3 L379.4,243.9 L376.0,242.5 L372.6,241.3 L369.2,240.1 L365.8,239.0 L362.5,238.0 L359.1,237.1 L355.7,236.2 L352.4,235.5 L349.0,234.8 L345.8,234.1 L342.5,233.5 L339.3,233.0 L336.1,232.5 L332.9,232.1 L329.8,231.7 L326.7,231.4 L323.7,231.2 L320.8,230.9 L317.9,230.7 L315.1,230.6 L312.3,230.4 L309.6,230.4 L307.0,230.3 L304.5,230.2 L302.0,230.2 L299.7,230.2 L297.4,230.2 L295.2,230.3 L293.1,230.3 L291.2,230.3 L289.3,230.4 L287.5,230.4 L285.9,230.5 L284.4,230.5 L283.0,230.6 L281.7,230.6 L280.6,230.6 L280.6,234.4 L281.8,234.4 L283.1,234.4 L284.5,234.4 L286.0,234.3 L287.6,234.3 L289.4,234.3 L291.2,234.2 L293.2,234.2 L295.2,234.2 L297.4,234.2 L299.6,234.2 L302.0,234.2 L304.4,234.2 L306.9,234.3 L309.5,234.4 L312.1,234.5 L314.8,234.6 L317.6,234.8 L320.5,235.0 L323.4,235.3 L326.3,235.6 L329.3,235.9 L332.4,236.3 L335.5,236.7 L338.6,237.2 L341.7,237.8 L344.9,238.3 L348.2,239.0 L351.4,239.7 L354.7,240.5 L357.9,241.4 L361.2,242.3 L364.5,243.3 L367.8,244.4 L371.1,245.5 L374.4,246.8 L377.7,248.1 L380.9,249.5 L384.2,251.0 L387.4,252.6 L390.6,254.3 L393.8,256.1 L397.0,258.0 L400.1,260.0 L403.1,262.1 L406.2,264.3 L409.2,266.7 L412.1,269.1 L415.0,271.7 L417.8,274.3 L420.6,277.1 L423.3,280.1 L425.9,283.1 L428.5,286.3 L431.0,289.6 L433.4,293.1 L435.7,296.7 L438.0,300.5 L440.1,304.4 L442.2,308.4 L444.1,312.6 L446.0,317.0 L447.7,321.5 L449.4,326.2Z" fill="#2626b2"/>
<text id="L3" font-size="19.6" fill="#242424"><textPath href="#tp4" startOffset="215.4">Partenariat</textPath></text>
<path d="M281.6,230.9 L279.0,229.4 L276.4,228.0 L274.0,226.6 L271.6,225.2 L269.3,223.9 L267.0,222.7 L264.8,221.5 L262.6,220.3 L260.4,219.2 L258.4,218.1 L256.3,217.0 L254.3,216.0 L252.3,215.0 L250.4,214.0 L248.5,213.1 L246.6,212.3 L244.7,211.4 L242.9,210.6 L241.1,209.8 L239.2,209.1 L237.4,208.4 L235.6,207.7 L233.8,207.0 L232.0,206.4 L230.2,205.8 L228.4,205.3 L226.6,204.7 L224.8,204.2 L222.9,203.8 L221.1,203.3 L219.2,202.9 L217.3,202.5 L215.4,202.1 L213.4,201.7 L211.4,201.4 L209.4,201.1 L207.4,200.8 L205.3,200.5 L203.1,200.3 L200.9,200.1 L198.7,199.9 L196.4,199.7 L194.0,199.5 L191.6,199.4 L189.1,199.2 L186.6,199.1 L183.9,199.0 L181.3,198.9 L178.5,198.8 L175.7,198.7 L172.7,198.7 L169.7,198.6 L166.6,198.6 L163.4,198.6 L160.1,198.5 L156.8,198.5 L153.3,198.5 L149.7,198.5 L146.0,198.6 L142.2,198.6 L138.3,198.6 L134.2,198.6 L130.1,198.7 L125.8,198.7 L125.8,199.7 L130.1,199.7 L134.2,199.8 L138.3,199.8 L142.2,199.9 L146.0,199.9 L149.7,200.0 L153.3,200.0 L156.7,200.1 L160.1,200.1 L163.4,200.2 L166.6,200.3 L169.7,200.4 L172.7,200.5 L175.6,200.6 L178.4,200.7 L181.2,200.8 L183.9,201.0 L186.5,201.1 L189.0,201.3 L191.4,201.5 L193.8,201.7 L196.2,201.9 L198.4,202.1 L200.7,202.4 L202.8,202.6 L204.9,202.9 L207.0,203.2 L209.0,203.5 L211.0,203.9 L213.0,204.2 L214.9,204.6 L216.8,205.0 L218.6,205.4 L220.5,205.9 L222.3,206.4 L224.1,206.9 L225.8,207.4 L227.6,207.9 L229.3,208.5 L231.1,209.1 L232.8,209.8 L234.6,210.4 L236.3,211.1 L238.1,211.8 L239.9,212.6 L241.7,213.4 L243.5,214.2 L245.3,215.1 L247.1,216.0 L249.0,216.9 L250.9,217.9 L252.8,218.9 L254.8,219.9 L256.8,221.0 L258.8,222.1 L260.9,223.3 L263.1,224.5 L265.3,225.7 L267.5,227.0 L269.8,228.4 L272.2,229.7 L274.6,231.2 L277.1,232.6 L279.6,234.1Z" fill="#2626b2"/>
<text id="L4" font-size="16.2" fill="#242424"><textPath href="#tp5" startOffset="214.1">Transmettre</textPath></text>
<path d="M279.9,230.7 L277.5,231.8 L275.1,232.8 L272.8,233.7 L270.6,234.7 L268.4,235.6 L266.3,236.5 L264.2,237.3 L262.1,238.1 L260.1,238.9 L258.1,239.7 L256.1,240.4 L254.2,241.1 L252.3,241.8 L250.4,242.4 L248.6,243.1 L246.8,243.7 L245.0,244.2 L243.2,244.8 L241.4,245.3 L239.6,245.8 L237.9,246.3 L236.1,246.8 L234.4,247.2 L232.6,247.7 L230.8,248.1 L229.1,248.4 L227.3,248.8 L225.5,249.2 L223.8,249.5 L222.0,249.8 L220.1,250.1 L218.3,250.4 L216.4,250.6 L214.5,250.9 L212.6,251.1 L210.7,251.4 L208.7,251.6 L206.7,251.8 L204.6,251.9 L202.5,252.1 L200.4,252.3 L198.2,252.4 L196.0,252.5 L193.7,252.7 L191.3,252.8 L188.9,252.9 L186.5,253.0 L184.0,253.1 L181.4,253.2 L178.8,253.2 L176.1,253.3 L173.3,253.4 L170.4,253.4 L167.5,253.5 L164.5,253.6 L161.4,253.6 L158.3,253.6 L155.0,253.7 L151.7,253.7 L148.3,253.8 L144.7,253.8 L141.1,253.8 L137.4,253.9 L133.6,253.9 L133.6,254.9 L137.4,254.9 L141.1,255.0 L144.7,255.0 L148.3,255.0 L151.7,255.1 L155.0,255.1 L158.3,255.1 L161.4,255.1 L164.5,255.1 L167.5,255.1 L170.5,255.1 L173.3,255.1 L176.1,255.1 L178.8,255.1 L181.4,255.1 L184.0,255.0 L186.5,255.0 L189.0,254.9 L191.4,254.9 L193.8,254.8 L196.1,254.7 L198.3,254.6 L200.5,254.5 L202.7,254.4 L204.8,254.3 L206.9,254.1 L208.9,254.0 L210.9,253.8 L212.9,253.6 L214.8,253.4 L216.7,253.2 L218.6,252.9 L220.5,252.7 L222.4,252.4 L224.2,252.1 L226.0,251.8 L227.8,251.5 L229.6,251.2 L231.4,250.8 L233.2,250.4 L235.0,250.0 L236.8,249.6 L238.6,249.2 L240.4,248.7 L242.2,248.2 L244.0,247.7 L245.9,247.2 L247.7,246.7 L249.6,246.1 L251.5,245.5 L253.4,244.9 L255.3,244.2 L257.3,243.5 L259.2,242.8 L261.3,242.1 L263.3,241.3 L265.4,240.6 L267.5,239.7 L269.7,238.9 L271.9,238.0 L274.2,237.1 L276.5,236.2 L278.9,235.2 L281.3,234.3Z" fill="#2626b2"/>
<text id="L5" font-size="16.2" fill="#242424"><textPath href="#tp6" startOffset="213.6">Formations</textPath></text>
<path d="M451.5,322.6 L449.6,323.0 L447.6,323.3 L445.7,323.7 L443.8,324.0 L441.9,324.3 L440.0,324.6 L438.2,325.0 L436.3,325.3 L434.4,325.6 L432.5,325.9 L430.7,326.2 L428.8,326.4 L426.9,326.7 L425.0,327.0 L423.1,327.2 L421.2,327.5 L419.3,327.7 L417.4,328.0 L415.4,328.2 L413.5,328.4 L411.5,328.7 L409.5,328.9 L407.4,329.1 L405.4,329.3 L403.3,329.5 L401.2,329.7 L399.0,329.9 L396.8,330.1 L394.6,330.2 L392.4,330.4 L390.1,330.6 L387.7,330.7 L385.4,330.9 L382.9,331.0 L380.5,331.2 L377.9,331.3 L375.4,331.4 L372.7,331.6 L370.1,331.7 L367.3,331.8 L364.5,331.9 L361.7,332.0 L358.7,332.1 L355.7,332.2 L352.7,332.3 L349.6,332.4 L346.4,332.5 L343.1,332.6 L339.8,332.7 L336.4,332.7 L332.9,332.8 L329.3,332.9 L325.7,332.9 L321.9,333.0 L318.1,333.1 L314.2,333.1 L310.2,333.2 L306.1,333.2 L302.0,333.2 L297.7,333.3 L293.3,333.3 L288.8,333.3 L284.3,333.4 L279.6,333.4 L279.6,337.2 L284.3,337.2 L288.8,337.2 L293.3,337.3 L297.7,337.3 L302.0,337.3 L306.2,337.3 L310.2,337.3 L314.2,337.3 L318.2,337.2 L322.0,337.2 L325.7,337.2 L329.4,337.2 L333.0,337.1 L336.5,337.1 L339.9,337.1 L343.2,337.0 L346.5,337.0 L349.7,336.9 L352.8,336.9 L355.9,336.8 L358.9,336.7 L361.8,336.6 L364.7,336.6 L367.5,336.5 L370.2,336.4 L372.9,336.3 L375.6,336.2 L378.2,336.1 L380.7,336.0 L383.2,335.8 L385.6,335.7 L388.0,335.6 L390.4,335.4 L392.7,335.3 L395.0,335.1 L397.2,335.0 L399.4,334.8 L401.6,334.7 L403.7,334.5 L405.8,334.3 L407.9,334.1 L410.0,333.9 L412.0,333.7 L414.0,333.5 L416.0,333.3 L418.0,333.1 L419.9,332.9 L421.9,332.6 L423.8,332.4 L425.7,332.2 L427.6,331.9 L429.5,331.7 L431.4,331.4 L433.3,331.1 L435.2,330.8 L437.1,330.6 L439.0,330.3 L440.9,330.0 L442.8,329.7 L444.7,329.3 L446.6,329.0 L448.6,328.7 L450.5,328.3 L452.5,328.0Z" fill="#2626b2"/>
<text id="L6" font-size="19.6" fill="#242424"><textPath href="#tp7" startOffset="216.8">Particuliers</textPath></text>
<path d="M280.4,333.6 L278.4,332.7 L276.5,331.8 L274.7,330.9 L273.0,330.1 L271.3,329.2 L269.7,328.4 L268.2,327.6 L266.7,326.8 L265.2,326.0 L263.8,325.3 L262.4,324.5 L261.1,323.7 L259.8,323.0 L258.5,322.3 L257.2,321.6 L256.0,320.9 L254.7,320.2 L253.5,319.5 L252.2,318.9 L250.9,318.2 L249.7,317.6 L248.4,317.0 L247.0,316.4 L245.7,315.8 L244.3,315.2 L242.9,314.7 L241.4,314.1 L239.9,313.6 L238.4,313.1 L236.8,312.6 L235.1,312.1 L233.3,311.6 L231.5,311.2 L229.7,310.8 L227.7,310.3 L225.6,309.9 L223.5,309.5 L221.3,309.2 L218.9,308.8 L216.5,308.5 L214.0,308.2 L211.3,307.8 L208.5,307.6 L205.6,307.3 L202.6,307.0 L199.4,306.8 L196.1,306.5 L192.6,306.3 L189.0,306.1 L185.3,305.9 L181.4,305.8 L177.3,305.6 L173.0,305.5 L168.6,305.4 L164.0,305.3 L159.2,305.2 L154.2,305.1 L149.0,305.1 L143.6,305.0 L138.0,305.0 L132.2,305.0 L126.2,305.0 L120.0,305.1 L113.5,305.1 L113.5,306.1 L120.0,306.2 L126.2,306.2 L132.2,306.3 L138.0,306.4 L143.6,306.5 L149.0,306.7 L154.1,306.8 L159.1,306.9 L163.9,307.1 L168.5,307.3 L172.9,307.5 L177.2,307.7 L181.3,307.9 L185.2,308.1 L188.9,308.4 L192.5,308.6 L195.9,308.9 L199.2,309.2 L202.4,309.5 L205.4,309.8 L208.2,310.1 L211.0,310.4 L213.6,310.8 L216.1,311.1 L218.5,311.5 L220.8,311.9 L223.0,312.3 L225.1,312.7 L227.1,313.1 L229.0,313.6 L230.8,314.0 L232.6,314.5 L234.3,315.0 L235.9,315.5 L237.4,316.0 L238.9,316.5 L240.4,317.0 L241.7,317.6 L243.1,318.1 L244.4,318.7 L245.7,319.3 L247.0,319.9 L248.2,320.5 L249.5,321.1 L250.7,321.8 L251.9,322.4 L253.1,323.1 L254.3,323.8 L255.6,324.5 L256.8,325.2 L258.1,326.0 L259.4,326.7 L260.7,327.5 L262.1,328.3 L263.5,329.1 L265.0,329.9 L266.5,330.8 L268.0,331.6 L269.6,332.5 L271.3,333.4 L273.1,334.3 L274.9,335.2 L276.8,336.1 L278.8,337.0Z" fill="#2626b2"/>
<text id="L7" font-size="16.2" fill="#242424"><textPath href="#tp8" startOffset="214.9">Organisation</textPath></text>
<path d="M279.4,333.7 L277.1,333.9 L274.7,334.1 L272.2,334.3 L269.7,334.5 L267.1,334.7 L264.4,334.9 L261.6,335.1 L258.8,335.3 L255.9,335.4 L253.0,335.6 L250.0,335.7 L247.0,335.9 L243.9,336.0 L240.8,336.2 L237.6,336.3 L234.4,336.4 L231.1,336.6 L227.8,336.7 L224.5,336.8 L221.2,336.9 L217.8,337.0 L214.4,337.1 L211.0,337.2 L207.5,337.3 L204.1,337.4 L200.6,337.5 L197.1,337.6 L193.6,337.7 L190.1,337.8 L186.6,337.8 L183.1,337.9 L179.6,338.0 L176.2,338.0 L172.7,338.1 L169.2,338.2 L165.7,338.2 L162.3,338.3 L158.8,338.3 L155.4,338.4 L152.1,338.4 L148.7,338.5 L145.4,338.5 L142.1,338.5 L138.8,338.6 L135.6,338.6 L132.4,338.6 L129.2,338.7 L126.1,338.7 L123.0,338.7 L120.0,338.7 L117.1,338.8 L114.2,338.8 L111.3,338.8 L108.5,338.8 L105.8,338.9 L103.2,338.9 L100.6,338.9 L98.1,338.9 L95.6,338.9 L93.3,338.9 L91.0,339.0 L88.8,339.0 L86.6,339.0 L84.6,339.0 L84.6,340.0 L86.6,340.0 L88.8,340.0 L91.0,340.0 L93.3,340.1 L95.6,340.1 L98.1,340.1 L100.6,340.1 L103.2,340.1 L105.8,340.2 L108.5,340.2 L111.3,340.2 L114.2,340.2 L117.1,340.2 L120.0,340.3 L123.0,340.3 L126.1,340.3 L129.2,340.3 L132.4,340.3 L135.6,340.3 L138.8,340.4 L142.1,340.4 L145.4,340.4 L148.7,340.4 L152.1,340.4 L155.5,340.4 L158.9,340.4 L162.3,340.4 L165.7,340.4 L169.2,340.4 L172.7,340.4 L176.2,340.4 L179.7,340.3 L183.2,340.3 L186.7,340.3 L190.2,340.3 L193.7,340.3 L197.2,340.2 L200.7,340.2 L204.1,340.1 L207.6,340.1 L211.0,340.1 L214.5,340.0 L217.9,340.0 L221.3,339.9 L224.6,339.8 L227.9,339.8 L231.2,339.7 L234.5,339.6 L237.7,339.5 L240.9,339.4 L244.0,339.3 L247.1,339.2 L250.2,339.1 L253.2,339.0 L256.1,338.9 L259.0,338.8 L261.8,338.6 L264.6,338.5 L267.3,338.3 L269.9,338.2 L272.5,338.0 L275.0,337.8 L277.4,337.7 L279.8,337.5Z" fill="#2626b2"/>
<text id="L8" font-size="16.2" fill="#242424"><textPath href="#tp9" startOffset="215.0">Confiance en soi</textPath></text>
<path d="M278.4,334.2 L275.4,336.7 L272.4,339.1 L269.4,341.4 L266.4,343.7 L263.3,345.9 L260.3,348.0 L257.2,350.1 L254.2,352.1 L251.1,354.0 L248.0,355.8 L244.9,357.6 L241.7,359.3 L238.6,360.9 L235.5,362.5 L232.3,364.0 L229.2,365.4 L226.0,366.8 L222.8,368.1 L219.6,369.4 L216.5,370.6 L213.3,371.8 L210.1,372.9 L206.9,373.9 L203.7,374.9 L200.5,375.9 L197.2,376.8 L194.0,377.6 L190.8,378.4 L187.6,379.2 L184.4,379.9 L181.2,380.6 L177.9,381.2 L174.7,381.8 L171.5,382.3 L168.3,382.9 L165.1,383.3 L161.9,383.8 L158.7,384.2 L155.5,384.6 L152.3,384.9 L149.1,385.3 L145.9,385.6 L142.8,385.8 L139.6,386.1 L136.4,386.3 L133.3,386.5 L130.1,386.7 L127.0,386.8 L123.9,387.0 L120.8,387.1 L117.7,387.2 L114.6,387.3 L111.5,387.4 L108.5,387.4 L105.4,387.5 L102.4,387.5 L99.4,387.6 L96.4,387.6 L93.4,387.6 L90.5,387.6 L87.5,387.6 L84.6,387.7 L81.7,387.7 L78.8,387.7 L78.8,388.7 L81.7,388.7 L84.6,388.7 L87.5,388.8 L90.5,388.8 L93.4,388.8 L96.4,388.8 L99.4,388.8 L102.4,388.8 L105.5,388.8 L108.5,388.8 L111.6,388.8 L114.6,388.8 L117.7,388.7 L120.8,388.6 L124.0,388.6 L127.1,388.5 L130.2,388.3 L133.4,388.2 L136.5,388.1 L139.7,387.9 L142.9,387.7 L146.1,387.4 L149.3,387.2 L152.5,386.9 L155.7,386.6 L158.9,386.3 L162.1,385.9 L165.4,385.5 L168.6,385.0 L171.9,384.5 L175.1,384.0 L178.4,383.5 L181.6,382.9 L184.9,382.2 L188.1,381.6 L191.4,380.8 L194.6,380.1 L197.9,379.3 L201.2,378.4 L204.4,377.5 L207.7,376.5 L210.9,375.5 L214.2,374.4 L217.4,373.3 L220.7,372.1 L223.9,370.9 L227.2,369.6 L230.4,368.2 L233.6,366.8 L236.8,365.3 L240.0,363.7 L243.2,362.1 L246.4,360.4 L249.6,358.7 L252.8,356.8 L256.0,355.0 L259.1,353.0 L262.3,350.9 L265.4,348.8 L268.5,346.6 L271.6,344.4 L274.7,342.0 L277.8,339.6 L280.8,337.0Z" fill="#2626b2"/>
<text id="L9" font-size="16.2" fill="#242424"><textPath href="#tp10" startOffset="214.7">Gestion du stress</textPath></text>
<path d="M449.3,325.6 L448.2,332.0 L446.9,338.3 L445.5,344.4 L444.0,350.2 L442.4,355.8 L440.7,361.2 L438.9,366.4 L436.9,371.5 L434.9,376.3 L432.7,380.9 L430.5,385.4 L428.2,389.7 L425.8,393.7 L423.3,397.7 L420.7,401.4 L418.1,405.0 L415.3,408.4 L412.6,411.7 L409.7,414.8 L406.8,417.8 L403.9,420.6 L400.9,423.2 L397.8,425.8 L394.7,428.2 L391.5,430.4 L388.4,432.6 L385.1,434.6 L381.9,436.5 L378.6,438.3 L375.3,440.0 L372.0,441.5 L368.7,443.0 L365.3,444.3 L362.0,445.6 L358.6,446.8 L355.3,447.8 L351.9,448.8 L348.5,449.7 L345.2,450.5 L341.9,451.3 L338.6,451.9 L335.3,452.6 L332.1,453.1 L328.8,453.6 L325.6,454.0 L322.5,454.3 L319.4,454.6 L316.3,454.9 L313.3,455.1 L310.3,455.3 L307.4,455.4 L304.6,455.5 L301.8,455.6 L299.1,455.7 L296.5,455.7 L293.9,455.7 L291.5,455.7 L289.1,455.7 L286.8,455.7 L284.6,455.7 L282.4,455.6 L280.4,455.6 L278.5,455.6 L276.7,455.6 L276.7,459.4 L278.5,459.4 L280.4,459.4 L282.4,459.5 L284.5,459.5 L286.7,459.6 L289.0,459.6 L291.4,459.6 L293.9,459.6 L296.5,459.6 L299.2,459.6 L301.9,459.6 L304.7,459.5 L307.6,459.4 L310.5,459.3 L313.6,459.2 L316.6,459.0 L319.7,458.7 L322.9,458.4 L326.1,458.1 L329.4,457.7 L332.7,457.2 L336.0,456.7 L339.4,456.1 L342.8,455.4 L346.2,454.7 L349.6,453.9 L353.1,453.0 L356.5,452.0 L360.0,450.9 L363.4,449.7 L366.9,448.5 L370.4,447.1 L373.8,445.6 L377.3,444.0 L380.7,442.3 L384.1,440.5 L387.5,438.5 L390.9,436.5 L394.2,434.3 L397.5,431.9 L400.7,429.5 L403.9,426.8 L407.1,424.1 L410.2,421.2 L413.2,418.1 L416.2,414.9 L419.1,411.5 L421.9,408.0 L424.7,404.3 L427.4,400.4 L430.0,396.4 L432.5,392.1 L435.0,387.7 L437.3,383.2 L439.5,378.4 L441.7,373.4 L443.7,368.3 L445.7,362.9 L447.5,357.4 L449.2,351.6 L450.7,345.6 L452.2,339.5 L453.5,333.1 L454.7,326.4Z" fill="#2626b2"/>
<text id="L10" font-size="19.6" fill="#242424"><textPath href="#tp11" startOffset="214.9">Entreprises</textPath></text>
<path d="M276.6,455.6 L274.2,455.8 L271.8,456.0 L269.4,456.2 L267.1,456.4 L264.7,456.6 L262.3,456.7 L259.9,456.9 L257.6,457.1 L255.2,457.2 L252.9,457.4 L250.5,457.5 L248.1,457.7 L245.8,457.8 L243.5,458.0 L241.1,458.1 L238.8,458.2 L236.5,458.4 L234.2,458.5 L231.9,458.6 L229.6,458.7 L227.3,458.8 L225.0,458.9 L222.8,459.0 L220.5,459.1 L218.3,459.2 L216.1,459.3 L213.9,459.4 L211.7,459.5 L209.5,459.6 L207.4,459.6 L205.3,459.7 L203.2,459.8 L201.1,459.9 L199.0,459.9 L196.9,460.0 L194.9,460.0 L192.9,460.1 L190.9,460.2 L188.9,460.2 L187.0,460.3 L185.0,460.3 L183.1,460.3 L181.3,460.4 L179.4,460.4 L177.6,460.5 L175.8,460.5 L174.1,460.5 L172.3,460.6 L170.6,460.6 L168.9,460.6 L167.3,460.7 L165.7,460.7 L164.1,460.7 L162.6,460.7 L161.0,460.8 L159.6,460.8 L158.1,460.8 L156.7,460.8 L155.3,460.8 L154.0,460.8 L152.7,460.9 L151.4,460.9 L150.2,460.9 L149.0,460.9 L149.0,461.9 L150.2,461.9 L151.4,461.9 L152.7,461.9 L154.0,462.0 L155.3,462.0 L156.7,462.0 L158.1,462.0 L159.6,462.0 L161.0,462.0 L162.6,462.0 L164.1,462.0 L165.7,462.0 L167.3,462.1 L169.0,462.1 L170.6,462.1 L172.3,462.1 L174.1,462.1 L175.8,462.1 L177.6,462.1 L179.4,462.1 L181.3,462.1 L183.2,462.1 L185.1,462.1 L187.0,462.1 L188.9,462.1 L190.9,462.1 L192.9,462.1 L194.9,462.0 L197.0,462.0 L199.0,462.0 L201.1,462.0 L203.2,462.0 L205.3,461.9 L207.5,461.9 L209.6,461.9 L211.8,461.9 L214.0,461.8 L216.2,461.8 L218.4,461.7 L220.6,461.7 L222.9,461.6 L225.1,461.6 L227.4,461.5 L229.7,461.5 L232.0,461.4 L234.3,461.3 L236.6,461.3 L238.9,461.2 L241.3,461.1 L243.6,461.0 L245.9,460.9 L248.3,460.9 L250.7,460.8 L253.0,460.7 L255.4,460.6 L257.8,460.4 L260.2,460.3 L262.5,460.2 L264.9,460.1 L267.3,460.0 L269.7,459.8 L272.1,459.7 L274.5,459.5 L276.8,459.4Z" fill="#2626b2"/>
<text id="L11" font-size="16.2" fill="#242424"><textPath href="#tp12" startOffset="214.8">Apprentis</textPath></text>
<path d="M258.3,738.5 L255.3,733.9 L252.3,729.5 L249.3,725.2 L246.3,721.0 L243.4,716.9 L240.4,712.9 L237.4,709.1 L234.5,705.4 L231.5,701.8 L228.6,698.3 L225.7,694.9 L222.7,691.7 L219.8,688.5 L216.8,685.5 L213.9,682.5 L211.0,679.7 L208.0,677.0 L205.0,674.4 L202.1,671.8 L199.1,669.4 L196.1,667.1 L193.1,664.8 L190.0,662.7 L187.0,660.6 L183.9,658.6 L180.9,656.8 L177.8,655.0 L174.6,653.3 L171.5,651.6 L168.3,650.1 L165.1,648.6 L161.9,647.2 L158.7,645.9 L155.4,644.6 L152.1,643.4 L148.8,642.3 L145.4,641.3 L142.0,640.3 L138.6,639.4 L135.1,638.5 L131.6,637.7 L128.1,637.0 L124.5,636.3 L120.9,635.6 L117.2,635.1 L113.5,634.5 L109.7,634.0 L105.9,633.6 L102.0,633.2 L98.1,632.8 L94.2,632.5 L90.1,632.2 L86.1,632.0 L82.0,631.8 L77.8,631.6 L73.5,631.5 L69.2,631.4 L64.9,631.3 L60.4,631.2 L55.9,631.2 L51.4,631.2 L46.8,631.2 L42.1,631.2 L37.3,631.2 L37.3,632.4 L42.1,632.4 L46.8,632.5 L51.4,632.6 L55.9,632.7 L60.4,632.8 L64.8,632.9 L69.2,633.1 L73.5,633.3 L77.7,633.5 L81.9,633.7 L86.0,634.0 L90.0,634.3 L94.0,634.7 L97.9,635.0 L101.8,635.5 L105.6,635.9 L109.4,636.4 L113.1,637.0 L116.8,637.6 L120.4,638.2 L124.0,638.9 L127.5,639.6 L131.0,640.4 L134.4,641.2 L137.8,642.2 L141.2,643.1 L144.5,644.1 L147.8,645.2 L151.1,646.4 L154.3,647.6 L157.5,648.9 L160.6,650.2 L163.7,651.6 L166.8,653.1 L169.9,654.7 L173.0,656.3 L176.0,658.1 L179.0,659.9 L181.9,661.8 L184.9,663.7 L187.8,665.8 L190.8,667.9 L193.7,670.2 L196.5,672.5 L199.4,674.9 L202.3,677.4 L205.2,680.1 L208.0,682.8 L210.9,685.6 L213.7,688.5 L216.5,691.6 L219.4,694.7 L222.2,697.9 L225.0,701.3 L227.9,704.8 L230.7,708.4 L233.6,712.1 L236.4,715.9 L239.3,719.9 L242.1,723.9 L245.0,728.1 L247.9,732.4 L250.8,736.9 L253.7,741.5Z" fill="#c8008a"/>
<text id="L12" font-size="19.6" fill="#242424"><textPath href="#tp13" startOffset="212.7">Enthousiasme</textPath></text>
<path d="M258.2,738.3 L255.4,734.9 L252.5,731.7 L249.5,728.6 L246.5,725.6 L243.3,722.7 L240.1,720.0 L236.8,717.3 L233.5,714.7 L230.0,712.3 L226.5,709.9 L223.0,707.7 L219.3,705.5 L215.7,703.5 L211.9,701.5 L208.1,699.6 L204.3,697.8 L200.4,696.1 L196.5,694.5 L192.5,693.0 L188.5,691.5 L184.4,690.2 L180.3,688.9 L176.2,687.6 L172.0,686.5 L167.9,685.4 L163.6,684.4 L159.4,683.4 L155.2,682.5 L150.9,681.7 L146.6,680.9 L142.3,680.2 L138.0,679.6 L133.7,679.0 L129.4,678.4 L125.1,677.9 L120.8,677.4 L116.5,677.0 L112.1,676.7 L107.8,676.3 L103.6,676.0 L99.3,675.8 L95.0,675.6 L90.8,675.4 L86.5,675.2 L82.3,675.1 L78.2,675.0 L74.0,674.9 L69.9,674.9 L65.8,674.8 L61.8,674.8 L57.8,674.8 L53.8,674.8 L49.9,674.9 L46.0,674.9 L42.2,674.9 L38.4,675.0 L34.7,675.0 L31.0,675.1 L27.4,675.2 L23.9,675.2 L20.4,675.3 L17.0,675.3 L13.7,675.4 L10.4,675.4 L10.4,676.6 L13.7,676.6 L17.0,676.6 L20.4,676.6 L23.9,676.6 L27.5,676.6 L31.1,676.6 L34.7,676.6 L38.4,676.6 L42.2,676.7 L46.0,676.7 L49.9,676.7 L53.8,676.7 L57.8,676.8 L61.8,676.8 L65.8,676.9 L69.9,677.0 L74.0,677.2 L78.1,677.3 L82.3,677.5 L86.4,677.7 L90.6,677.9 L94.9,678.1 L99.1,678.4 L103.4,678.8 L107.6,679.1 L111.9,679.5 L116.2,680.0 L120.4,680.4 L124.7,681.0 L129.0,681.5 L133.3,682.1 L137.5,682.8 L141.8,683.5 L146.0,684.3 L150.2,685.1 L154.4,686.0 L158.6,687.0 L162.8,688.0 L166.9,689.0 L171.0,690.2 L175.1,691.4 L179.1,692.7 L183.1,694.0 L187.1,695.4 L191.0,696.9 L194.9,698.5 L198.7,700.1 L202.4,701.8 L206.2,703.6 L209.8,705.5 L213.4,707.5 L217.0,709.6 L220.4,711.7 L223.9,713.9 L227.2,716.3 L230.5,718.7 L233.7,721.2 L236.8,723.8 L239.9,726.6 L242.8,729.4 L245.7,732.3 L248.5,735.3 L251.2,738.5 L253.8,741.7Z" fill="#c8008a"/>
<text id="L13" font-size="19.6" fill="#242424"><textPath href="#tp14" startOffset="212.9">Approche ludique</textPath></text>
<path d="M257.2,737.5 L255.5,736.8 L253.7,736.1 L251.8,735.4 L249.9,734.8 L247.8,734.2 L245.7,733.6 L243.5,733.0 L241.2,732.5 L238.9,731.9 L236.4,731.4 L234.0,730.9 L231.4,730.4 L228.8,730.0 L226.1,729.6 L223.3,729.1 L220.5,728.7 L217.7,728.4 L214.8,728.0 L211.8,727.6 L208.8,727.3 L205.8,727.0 L202.7,726.7 L199.6,726.4 L196.5,726.1 L193.3,725.9 L190.1,725.6 L186.9,725.4 L183.6,725.2 L180.4,725.0 L177.1,724.8 L173.8,724.6 L170.5,724.4 L167.2,724.2 L163.9,724.1 L160.6,723.9 L157.3,723.8 L154.0,723.7 L150.7,723.6 L147.5,723.5 L144.2,723.4 L141.0,723.3 L137.8,723.2 L134.6,723.2 L131.4,723.1 L128.3,723.1 L125.2,723.0 L122.2,723.0 L119.1,722.9 L116.2,722.9 L113.2,722.9 L110.4,722.9 L107.5,722.9 L104.8,722.9 L102.1,722.9 L99.4,722.9 L96.8,722.9 L94.3,722.9 L91.8,722.9 L89.5,722.9 L87.2,722.9 L85.0,722.9 L82.8,723.0 L80.8,723.0 L78.8,723.0 L78.8,724.2 L80.8,724.2 L82.8,724.3 L84.9,724.3 L87.2,724.3 L89.5,724.4 L91.8,724.4 L94.3,724.4 L96.8,724.5 L99.4,724.6 L102.0,724.6 L104.7,724.7 L107.5,724.8 L110.3,724.8 L113.2,724.9 L116.1,725.0 L119.1,725.1 L122.1,725.2 L125.2,725.3 L128.2,725.4 L131.4,725.6 L134.5,725.7 L137.7,725.9 L140.9,726.0 L144.1,726.2 L147.4,726.3 L150.6,726.5 L153.9,726.7 L157.2,726.9 L160.4,727.1 L163.7,727.3 L167.0,727.6 L170.3,727.8 L173.6,728.1 L176.8,728.3 L180.1,728.6 L183.3,728.9 L186.5,729.2 L189.7,729.5 L192.9,729.8 L196.1,730.1 L199.2,730.5 L202.3,730.8 L205.3,731.2 L208.3,731.6 L211.3,732.0 L214.2,732.4 L217.0,732.9 L219.8,733.3 L222.6,733.8 L225.3,734.2 L227.9,734.7 L230.5,735.2 L233.0,735.8 L235.4,736.3 L237.7,736.8 L240.0,737.4 L242.2,738.0 L244.3,738.6 L246.3,739.2 L248.2,739.8 L250.0,740.5 L251.7,741.1 L253.3,741.8 L254.8,742.5Z" fill="#c8008a"/>
<text id="L14" font-size="19.6" fill="#242424"><textPath href="#tp15" startOffset="214.2">Créativité</textPath></text>
<path d="M255.3,737.3 L252.7,738.1 L250.1,738.8 L247.6,739.5 L245.2,740.2 L242.8,740.8 L240.5,741.5 L238.2,742.1 L236.0,742.7 L233.8,743.3 L231.6,743.9 L229.5,744.5 L227.4,745.0 L225.3,745.5 L223.3,746.0 L221.3,746.5 L219.3,747.0 L217.3,747.5 L215.3,748.0 L213.3,748.4 L211.4,748.8 L209.4,749.2 L207.4,749.6 L205.4,750.0 L203.5,750.4 L201.5,750.8 L199.5,751.1 L197.4,751.4 L195.4,751.8 L193.3,752.1 L191.2,752.4 L189.1,752.7 L186.9,753.0 L184.7,753.2 L182.4,753.5 L180.1,753.7 L177.8,754.0 L175.4,754.2 L172.9,754.4 L170.4,754.7 L167.9,754.9 L165.2,755.1 L162.5,755.2 L159.8,755.4 L156.9,755.6 L154.0,755.7 L151.0,755.9 L147.9,756.1 L144.8,756.2 L141.5,756.3 L138.2,756.5 L134.7,756.6 L131.2,756.7 L127.5,756.8 L123.8,756.9 L119.9,757.0 L116.0,757.1 L111.9,757.2 L107.7,757.3 L103.4,757.4 L98.9,757.4 L94.3,757.5 L89.6,757.6 L84.8,757.6 L79.8,757.7 L79.8,758.9 L84.8,759.0 L89.6,759.0 L94.3,759.1 L98.9,759.1 L103.4,759.1 L107.7,759.1 L111.9,759.2 L116.0,759.2 L120.0,759.2 L123.8,759.2 L127.6,759.2 L131.2,759.1 L134.8,759.1 L138.2,759.1 L141.6,759.0 L144.9,759.0 L148.0,758.9 L151.1,758.8 L154.1,758.7 L157.1,758.6 L159.9,758.5 L162.7,758.4 L165.4,758.3 L168.1,758.2 L170.7,758.0 L173.2,757.9 L175.7,757.7 L178.1,757.5 L180.5,757.4 L182.8,757.2 L185.1,757.0 L187.3,756.7 L189.5,756.5 L191.7,756.3 L193.8,756.0 L195.9,755.7 L198.0,755.5 L200.1,755.2 L202.1,754.9 L204.2,754.5 L206.2,754.2 L208.2,753.9 L210.2,753.5 L212.2,753.1 L214.2,752.8 L216.2,752.4 L218.3,751.9 L220.3,751.5 L222.3,751.1 L224.4,750.6 L226.5,750.1 L228.6,749.7 L230.7,749.2 L232.8,748.7 L235.0,748.1 L237.3,747.6 L239.5,747.0 L241.8,746.4 L244.2,745.9 L246.6,745.2 L249.0,744.6 L251.5,744.0 L254.1,743.3 L256.7,742.7Z" fill="#c8008a"/>
<text id="L15" font-size="19.6" fill="#242424"><textPath href="#tp16" startOffset="215.6">Efficacité</textPath></text>
<path d="M254.5,737.7 L252.9,738.8 L251.3,739.9 L249.8,741.1 L248.3,742.2 L246.8,743.4 L245.4,744.6 L244.0,745.8 L242.6,747.0 L241.3,748.3 L239.9,749.5 L238.6,750.8 L237.2,752.0 L235.9,753.3 L234.5,754.5 L233.1,755.8 L231.7,757.0 L230.3,758.3 L228.8,759.5 L227.3,760.8 L225.7,762.1 L224.1,763.3 L222.5,764.6 L220.7,765.8 L218.9,767.1 L217.0,768.3 L215.0,769.6 L213.0,770.8 L210.8,772.0 L208.6,773.2 L206.2,774.4 L203.8,775.6 L201.2,776.8 L198.5,777.9 L195.6,779.1 L192.6,780.2 L189.5,781.3 L186.3,782.4 L182.8,783.5 L179.3,784.5 L175.5,785.6 L171.6,786.6 L167.6,787.6 L163.3,788.5 L158.9,789.4 L154.2,790.3 L149.4,791.2 L144.4,792.0 L139.1,792.8 L133.7,793.6 L128.0,794.3 L122.1,795.0 L116.0,795.7 L109.7,796.3 L103.1,796.9 L96.3,797.4 L89.2,797.9 L81.8,798.4 L74.2,798.8 L66.4,799.1 L58.2,799.5 L49.8,799.7 L41.1,799.9 L32.1,800.1 L22.8,800.2 L22.8,801.4 L32.1,801.5 L41.1,801.4 L49.8,801.4 L58.3,801.3 L66.4,801.1 L74.3,800.9 L81.9,800.6 L89.3,800.3 L96.4,799.9 L103.3,799.5 L109.9,799.0 L116.3,798.5 L122.4,797.9 L128.4,797.3 L134.1,796.7 L139.6,796.0 L144.9,795.3 L150.0,794.6 L154.8,793.8 L159.5,792.9 L164.0,792.1 L168.4,791.2 L172.5,790.3 L176.5,789.3 L180.3,788.3 L184.0,787.3 L187.5,786.3 L190.8,785.2 L194.0,784.1 L197.1,783.0 L200.1,781.9 L202.9,780.8 L205.6,779.6 L208.2,778.4 L210.6,777.2 L213.0,776.0 L215.3,774.8 L217.4,773.5 L219.5,772.3 L221.5,771.0 L223.4,769.7 L225.2,768.5 L227.0,767.2 L228.7,765.9 L230.4,764.6 L232.0,763.3 L233.5,762.1 L235.0,760.8 L236.5,759.5 L237.9,758.3 L239.3,757.0 L240.7,755.8 L242.1,754.6 L243.4,753.4 L244.8,752.2 L246.1,751.0 L247.4,749.8 L248.8,748.7 L250.2,747.6 L251.6,746.5 L253.0,745.4 L254.5,744.3 L256.0,743.3 L257.5,742.3Z" fill="#c8008a"/>
<text id="L16" font-size="19.6" fill="#242424"><textPath href="#tp17" startOffset="214.0">Vue d'ensemble</textPath></text>
<path d="M253.6,738.6 L251.0,743.3 L248.3,747.8 L245.7,752.1 L243.0,756.3 L240.3,760.4 L237.5,764.4 L234.8,768.2 L232.0,771.9 L229.1,775.5 L226.3,779.0 L223.4,782.3 L220.6,785.5 L217.7,788.6 L214.7,791.6 L211.8,794.5 L208.8,797.3 L205.8,800.0 L202.8,802.5 L199.8,805.0 L196.7,807.4 L193.7,809.6 L190.6,811.8 L187.5,813.9 L184.4,815.9 L181.3,817.8 L178.1,819.6 L175.0,821.3 L171.8,823.0 L168.6,824.5 L165.4,826.0 L162.1,827.4 L158.9,828.8 L155.7,830.0 L152.4,831.2 L149.1,832.3 L145.8,833.4 L142.5,834.4 L139.2,835.3 L135.9,836.2 L132.6,837.0 L129.2,837.8 L125.9,838.5 L122.5,839.1 L119.1,839.7 L115.8,840.3 L112.4,840.8 L109.0,841.2 L105.6,841.7 L102.2,842.0 L98.8,842.4 L95.4,842.7 L91.9,843.0 L88.5,843.2 L85.1,843.4 L81.7,843.6 L78.2,843.8 L74.8,843.9 L71.4,844.0 L67.9,844.1 L64.5,844.2 L61.1,844.3 L57.7,844.3 L54.2,844.4 L50.8,844.4 L50.8,845.6 L54.2,845.6 L57.7,845.6 L61.1,845.7 L64.5,845.6 L68.0,845.6 L71.4,845.6 L74.9,845.5 L78.3,845.5 L81.7,845.4 L85.2,845.2 L88.6,845.1 L92.1,844.9 L95.5,844.7 L98.9,844.4 L102.4,844.1 L105.8,843.8 L109.2,843.5 L112.7,843.0 L116.1,842.6 L119.5,842.1 L122.9,841.5 L126.3,841.0 L129.7,840.3 L133.1,839.6 L136.5,838.8 L139.9,838.0 L143.3,837.1 L146.7,836.2 L150.0,835.2 L153.4,834.1 L156.7,832.9 L160.0,831.7 L163.4,830.4 L166.7,829.0 L170.0,827.5 L173.3,826.0 L176.5,824.4 L179.8,822.7 L183.1,820.9 L186.3,819.0 L189.5,817.0 L192.7,814.9 L195.9,812.8 L199.1,810.5 L202.2,808.1 L205.4,805.7 L208.5,803.1 L211.6,800.4 L214.7,797.6 L217.8,794.7 L220.8,791.7 L223.8,788.6 L226.8,785.3 L229.8,782.0 L232.8,778.5 L235.7,774.9 L238.6,771.1 L241.5,767.3 L244.4,763.3 L247.3,759.2 L250.1,754.9 L252.9,750.5 L255.6,746.0 L258.4,741.4Z" fill="#c8008a"/>
<text id="L17" font-size="19.6" fill="#242424"><textPath href="#tp18" startOffset="214.5">Organisation</textPath></text>
<path d="M1412.4,524.4 L1416.8,516.8 L1421.4,509.5 L1426.1,502.4 L1431.0,495.6 L1435.9,489.0 L1441.0,482.7 L1446.2,476.7 L1451.5,470.8 L1456.9,465.2 L1462.4,459.9 L1467.9,454.7 L1473.6,449.8 L1479.3,445.0 L1485.1,440.5 L1491.0,436.2 L1496.9,432.1 L1502.9,428.2 L1509.0,424.4 L1515.1,420.9 L1521.2,417.5 L1527.4,414.3 L1533.6,411.3 L1539.8,408.4 L1546.0,405.7 L1552.3,403.2 L1558.6,400.8 L1564.9,398.6 L1571.2,396.4 L1577.4,394.5 L1583.7,392.7 L1590.0,391.0 L1596.2,389.4 L1602.4,387.9 L1608.6,386.6 L1614.7,385.3 L1620.8,384.2 L1626.9,383.2 L1632.9,382.3 L1638.8,381.4 L1644.7,380.7 L1650.5,380.0 L1656.2,379.4 L1661.9,378.9 L1667.5,378.5 L1672.9,378.1 L1678.3,377.8 L1683.6,377.5 L1688.8,377.3 L1693.9,377.1 L1698.8,377.0 L1703.6,376.9 L1708.3,376.8 L1712.9,376.8 L1717.4,376.8 L1721.6,376.8 L1725.8,376.8 L1729.8,376.9 L1733.6,376.9 L1737.3,376.9 L1740.8,376.9 L1744.1,377.0 L1747.3,377.0 L1750.3,376.9 L1753.0,376.9 L1753.0,373.1 L1750.2,373.1 L1747.3,373.1 L1744.1,373.1 L1740.8,373.1 L1737.3,373.1 L1733.7,373.0 L1729.8,373.0 L1725.8,372.9 L1721.7,372.9 L1717.4,372.8 L1712.9,372.8 L1708.3,372.9 L1703.6,372.9 L1698.7,373.0 L1693.7,373.1 L1688.6,373.2 L1683.4,373.4 L1678.1,373.7 L1672.7,374.0 L1667.2,374.3 L1661.5,374.7 L1655.8,375.2 L1650.0,375.8 L1644.2,376.4 L1638.3,377.2 L1632.3,378.0 L1626.2,378.9 L1620.1,379.9 L1613.9,381.0 L1607.7,382.2 L1601.4,383.6 L1595.1,385.0 L1588.8,386.6 L1582.5,388.3 L1576.1,390.1 L1569.8,392.1 L1563.4,394.2 L1557.0,396.4 L1550.6,398.8 L1544.2,401.4 L1537.9,404.1 L1531.5,407.0 L1525.2,410.0 L1518.9,413.2 L1512.7,416.7 L1506.5,420.2 L1500.3,424.0 L1494.2,428.0 L1488.1,432.2 L1482.1,436.5 L1476.2,441.1 L1470.3,445.9 L1464.5,450.9 L1458.8,456.1 L1453.2,461.6 L1447.7,467.3 L1442.3,473.2 L1437.0,479.4 L1431.8,485.8 L1426.7,492.4 L1421.7,499.3 L1416.9,506.5 L1412.2,513.9 L1407.6,521.6Z" fill="#90d600"/>
<text id="L18" font-size="19.6" fill="#242424"><textPath href="#tp19" startOffset="315.4">Travail dans une multinationale</textPath></text>
<path d="M1756.6,375.5 L1757.6,373.8 L1758.6,372.2 L1759.6,370.6 L1760.6,369.1 L1761.6,367.6 L1762.6,366.1 L1763.7,364.7 L1764.7,363.3 L1765.8,361.9 L1766.9,360.6 L1767.9,359.3 L1769.0,358.1 L1770.2,356.8 L1771.3,355.6 L1772.4,354.5 L1773.6,353.4 L1774.8,352.3 L1776.0,351.2 L1777.2,350.2 L1778.5,349.2 L1779.7,348.2 L1781.0,347.3 L1782.3,346.4 L1783.7,345.5 L1785.0,344.6 L1786.4,343.8 L1787.8,343.0 L1789.2,342.3 L1790.7,341.5 L1792.2,340.8 L1793.7,340.1 L1795.3,339.4 L1796.9,338.8 L1798.5,338.2 L1800.1,337.6 L1801.8,337.0 L1803.5,336.5 L1805.2,336.0 L1807.0,335.5 L1808.8,335.0 L1810.7,334.6 L1812.6,334.1 L1814.5,333.7 L1816.5,333.3 L1818.5,333.0 L1820.5,332.6 L1822.6,332.3 L1824.7,332.0 L1826.9,331.7 L1829.1,331.4 L1831.3,331.2 L1833.6,331.0 L1836.0,330.7 L1838.4,330.6 L1840.8,330.4 L1843.3,330.2 L1845.8,330.1 L1848.3,329.9 L1851.0,329.8 L1853.6,329.7 L1856.3,329.7 L1859.1,329.6 L1861.9,329.5 L1864.8,329.5 L1864.8,328.5 L1861.9,328.5 L1859.1,328.5 L1856.3,328.5 L1853.6,328.5 L1850.9,328.5 L1848.3,328.6 L1845.7,328.7 L1843.2,328.7 L1840.7,328.8 L1838.2,329.0 L1835.8,329.1 L1833.5,329.3 L1831.2,329.4 L1828.9,329.6 L1826.7,329.9 L1824.5,330.1 L1822.3,330.4 L1820.2,330.6 L1818.1,331.0 L1816.1,331.3 L1814.1,331.6 L1812.1,332.0 L1810.2,332.4 L1808.3,332.8 L1806.4,333.2 L1804.6,333.7 L1802.8,334.2 L1801.1,334.7 L1799.3,335.3 L1797.6,335.8 L1795.9,336.4 L1794.3,337.1 L1792.7,337.7 L1791.1,338.4 L1789.5,339.1 L1788.0,339.8 L1786.5,340.6 L1785.0,341.4 L1783.6,342.2 L1782.1,343.1 L1780.7,344.0 L1779.3,344.9 L1778.0,345.8 L1776.6,346.8 L1775.3,347.8 L1774.0,348.9 L1772.7,349.9 L1771.5,351.0 L1770.2,352.2 L1769.0,353.4 L1767.8,354.6 L1766.6,355.8 L1765.4,357.1 L1764.3,358.4 L1763.1,359.8 L1762.0,361.1 L1760.9,362.6 L1759.8,364.0 L1758.7,365.5 L1757.6,367.0 L1756.5,368.6 L1755.5,370.2 L1754.4,371.8 L1753.4,373.5Z" fill="#90d600"/>
<text id="L19" font-size="16.2" fill="#242424"><textPath href="#tp20" startOffset="288.0">P.V.</textPath></text>
<path d="M1755.3,376.4 L1757.4,376.0 L1759.5,375.6 L1761.5,375.2 L1763.4,374.8 L1765.3,374.4 L1767.2,374.1 L1769.0,373.8 L1770.8,373.4 L1772.6,373.1 L1774.3,372.8 L1776.0,372.5 L1777.7,372.3 L1779.4,372.0 L1781.0,371.7 L1782.6,371.5 L1784.3,371.3 L1785.9,371.0 L1787.5,370.8 L1789.1,370.6 L1790.7,370.4 L1792.3,370.2 L1793.9,370.0 L1795.5,369.9 L1797.1,369.7 L1798.8,369.5 L1800.4,369.4 L1802.1,369.2 L1803.8,369.1 L1805.6,369.0 L1807.3,368.9 L1809.1,368.7 L1810.9,368.6 L1812.8,368.5 L1814.7,368.4 L1816.6,368.3 L1818.6,368.2 L1820.6,368.2 L1822.7,368.1 L1824.9,368.0 L1827.1,367.9 L1829.3,367.9 L1831.6,367.8 L1834.0,367.8 L1836.5,367.7 L1839.0,367.6 L1841.6,367.6 L1844.3,367.5 L1847.0,367.5 L1849.9,367.5 L1852.8,367.4 L1855.8,367.4 L1858.9,367.3 L1862.1,367.3 L1865.4,367.3 L1868.8,367.2 L1872.3,367.2 L1875.9,367.2 L1879.6,367.1 L1883.4,367.1 L1887.3,367.1 L1891.3,367.0 L1895.5,367.0 L1899.8,366.9 L1904.2,366.9 L1904.2,365.9 L1899.8,365.9 L1895.5,365.8 L1891.3,365.8 L1887.3,365.7 L1883.4,365.7 L1879.6,365.7 L1875.9,365.6 L1872.3,365.6 L1868.8,365.6 L1865.4,365.5 L1862.1,365.5 L1858.9,365.5 L1855.8,365.5 L1852.8,365.5 L1849.9,365.4 L1847.0,365.4 L1844.3,365.4 L1841.6,365.4 L1839.0,365.4 L1836.5,365.4 L1834.0,365.4 L1831.6,365.5 L1829.3,365.5 L1827.0,365.5 L1824.8,365.5 L1822.7,365.6 L1820.6,365.6 L1818.5,365.6 L1816.5,365.7 L1814.6,365.8 L1812.7,365.8 L1810.8,365.9 L1808.9,366.0 L1807.1,366.1 L1805.4,366.1 L1803.6,366.2 L1801.9,366.3 L1800.2,366.5 L1798.5,366.6 L1796.9,366.7 L1795.2,366.8 L1793.6,367.0 L1792.0,367.1 L1790.3,367.3 L1788.7,367.5 L1787.1,367.7 L1785.5,367.8 L1783.8,368.0 L1782.2,368.2 L1780.5,368.5 L1778.9,368.7 L1777.2,368.9 L1775.5,369.2 L1773.8,369.4 L1772.0,369.7 L1770.2,370.0 L1768.4,370.3 L1766.6,370.6 L1764.7,370.9 L1762.8,371.2 L1760.8,371.6 L1758.8,371.9 L1756.8,372.3 L1754.7,372.6Z" fill="#90d600"/>
<text id="L20" font-size="16.2" fill="#242424"><textPath href="#tp21" startOffset="262.9">Réunions</textPath></text>
<path d="M1754.3,376.3 L1756.3,377.1 L1758.2,377.8 L1760.1,378.6 L1761.9,379.4 L1763.7,380.1 L1765.5,380.8 L1767.3,381.5 L1769.0,382.2 L1770.7,382.8 L1772.4,383.5 L1774.0,384.1 L1775.7,384.7 L1777.3,385.3 L1779.0,385.9 L1780.6,386.5 L1782.2,387.0 L1783.9,387.5 L1785.5,388.0 L1787.2,388.5 L1788.9,389.0 L1790.6,389.5 L1792.3,389.9 L1794.1,390.4 L1795.9,390.8 L1797.7,391.2 L1799.6,391.6 L1801.5,392.0 L1803.4,392.3 L1805.4,392.7 L1807.5,393.0 L1809.6,393.3 L1811.8,393.6 L1814.0,393.9 L1816.3,394.2 L1818.7,394.4 L1821.1,394.7 L1823.6,394.9 L1826.2,395.2 L1828.9,395.4 L1831.7,395.6 L1834.6,395.7 L1837.6,395.9 L1840.6,396.1 L1843.8,396.2 L1847.1,396.4 L1850.5,396.5 L1854.0,396.6 L1857.6,396.7 L1861.4,396.8 L1865.3,396.9 L1869.3,397.0 L1873.4,397.0 L1877.7,397.1 L1882.1,397.1 L1886.7,397.2 L1891.4,397.2 L1896.3,397.2 L1901.3,397.2 L1906.5,397.2 L1911.9,397.2 L1917.4,397.2 L1923.1,397.2 L1929.0,397.1 L1935.0,397.1 L1935.0,396.1 L1929.0,396.1 L1923.1,396.0 L1917.4,395.9 L1911.9,395.9 L1906.5,395.8 L1901.3,395.7 L1896.3,395.6 L1891.4,395.5 L1886.7,395.4 L1882.2,395.3 L1877.7,395.2 L1873.5,395.1 L1869.3,395.0 L1865.3,394.8 L1861.5,394.7 L1857.7,394.5 L1854.1,394.4 L1850.6,394.2 L1847.2,394.0 L1843.9,393.8 L1840.8,393.6 L1837.7,393.4 L1834.8,393.2 L1831.9,393.0 L1829.1,392.7 L1826.5,392.5 L1823.9,392.2 L1821.4,392.0 L1819.0,391.7 L1816.6,391.4 L1814.4,391.1 L1812.2,390.8 L1810.0,390.4 L1808.0,390.1 L1805.9,389.7 L1804.0,389.4 L1802.1,389.0 L1800.2,388.6 L1798.4,388.2 L1796.6,387.7 L1794.9,387.3 L1793.1,386.9 L1791.5,386.4 L1789.8,385.9 L1788.2,385.4 L1786.5,384.9 L1784.9,384.4 L1783.3,383.8 L1781.7,383.3 L1780.1,382.7 L1778.5,382.1 L1776.9,381.5 L1775.3,380.9 L1773.6,380.2 L1772.0,379.6 L1770.3,378.9 L1768.6,378.2 L1766.9,377.5 L1765.1,376.7 L1763.3,376.0 L1761.5,375.2 L1759.6,374.4 L1757.7,373.6 L1755.7,372.7Z" fill="#90d600"/>
<text id="L21" font-size="16.2" fill="#242424"><textPath href="#tp22" startOffset="261.8">Planifications</textPath></text>
<path d="M1753.5,375.6 L1755.2,377.9 L1756.9,380.2 L1758.5,382.4 L1760.2,384.6 L1761.9,386.7 L1763.5,388.7 L1765.2,390.7 L1766.8,392.6 L1768.4,394.4 L1770.0,396.2 L1771.7,397.9 L1773.3,399.6 L1774.9,401.2 L1776.5,402.7 L1778.2,404.2 L1779.8,405.6 L1781.5,407.0 L1783.1,408.3 L1784.8,409.6 L1786.5,410.9 L1788.2,412.0 L1789.9,413.2 L1791.6,414.2 L1793.4,415.3 L1795.2,416.3 L1797.0,417.2 L1798.8,418.1 L1800.6,418.9 L1802.5,419.8 L1804.4,420.5 L1806.4,421.3 L1808.3,421.9 L1810.3,422.6 L1812.4,423.2 L1814.4,423.8 L1816.5,424.3 L1818.7,424.8 L1820.9,425.3 L1823.1,425.7 L1825.4,426.1 L1827.7,426.5 L1830.1,426.9 L1832.5,427.2 L1835.0,427.5 L1837.5,427.8 L1840.1,428.0 L1842.7,428.2 L1845.4,428.4 L1848.2,428.6 L1851.0,428.8 L1853.9,428.9 L1856.8,429.0 L1859.8,429.1 L1862.9,429.2 L1866.1,429.3 L1869.3,429.3 L1872.6,429.3 L1876.0,429.4 L1879.4,429.4 L1883.0,429.4 L1886.6,429.4 L1890.3,429.4 L1894.0,429.3 L1897.9,429.3 L1897.9,428.3 L1894.0,428.3 L1890.3,428.2 L1886.6,428.2 L1883.0,428.1 L1879.4,428.1 L1876.0,428.0 L1872.6,427.9 L1869.3,427.8 L1866.1,427.7 L1863.0,427.6 L1859.9,427.4 L1856.9,427.3 L1854.0,427.1 L1851.1,426.9 L1848.3,426.7 L1845.6,426.5 L1842.9,426.3 L1840.3,426.0 L1837.7,425.7 L1835.2,425.4 L1832.8,425.1 L1830.4,424.7 L1828.1,424.3 L1825.8,423.9 L1823.6,423.5 L1821.4,423.0 L1819.2,422.5 L1817.1,422.0 L1815.1,421.4 L1813.1,420.8 L1811.1,420.2 L1809.2,419.5 L1807.3,418.8 L1805.4,418.1 L1803.6,417.3 L1801.8,416.5 L1800.0,415.6 L1798.2,414.7 L1796.5,413.8 L1794.8,412.8 L1793.2,411.8 L1791.5,410.7 L1789.9,409.6 L1788.2,408.4 L1786.6,407.2 L1785.0,406.0 L1783.4,404.7 L1781.9,403.3 L1780.3,401.9 L1778.7,400.4 L1777.2,398.9 L1775.6,397.3 L1774.1,395.6 L1772.5,393.9 L1771.0,392.2 L1769.4,390.3 L1767.8,388.4 L1766.2,386.5 L1764.7,384.5 L1763.1,382.4 L1761.5,380.2 L1759.8,378.0 L1758.2,375.8 L1756.5,373.4Z" fill="#90d600"/>
<text id="L22" font-size="16.2" fill="#242424"><textPath href="#tp23" startOffset="272.9">Voyages</textPath></text>
<path d="M1409.7,526.3 L1415.6,527.2 L1421.4,528.0 L1427.3,528.7 L1433.2,529.5 L1439.0,530.2 L1444.9,530.9 L1450.7,531.6 L1456.6,532.2 L1462.4,532.9 L1468.3,533.5 L1474.2,534.0 L1480.1,534.6 L1486.0,535.1 L1491.9,535.6 L1497.8,536.1 L1503.7,536.6 L1509.7,537.0 L1515.6,537.4 L1521.6,537.8 L1527.6,538.2 L1533.6,538.5 L1539.7,538.9 L1545.7,539.2 L1551.8,539.5 L1558.0,539.8 L1564.1,540.0 L1570.3,540.3 L1576.5,540.5 L1582.7,540.7 L1589.0,540.9 L1595.3,541.1 L1601.6,541.3 L1608.0,541.5 L1614.4,541.6 L1620.9,541.8 L1627.4,541.9 L1633.9,542.0 L1640.5,542.1 L1647.1,542.2 L1653.8,542.3 L1660.6,542.3 L1667.3,542.4 L1674.2,542.4 L1681.1,542.5 L1688.0,542.5 L1695.0,542.6 L1702.0,542.6 L1709.1,542.6 L1716.3,542.6 L1723.5,542.6 L1730.8,542.6 L1738.2,542.6 L1745.6,542.6 L1753.1,542.6 L1760.7,542.6 L1768.3,542.6 L1776.0,542.5 L1783.8,542.5 L1791.6,542.5 L1799.5,542.5 L1807.5,542.5 L1815.6,542.4 L1823.8,542.4 L1832.0,542.4 L1832.0,538.6 L1823.8,538.6 L1815.6,538.6 L1807.5,538.6 L1799.5,538.5 L1791.6,538.5 L1783.8,538.5 L1776.0,538.5 L1768.3,538.5 L1760.7,538.5 L1753.1,538.5 L1745.6,538.5 L1738.2,538.4 L1730.8,538.4 L1723.6,538.4 L1716.3,538.3 L1709.2,538.3 L1702.1,538.3 L1695.0,538.2 L1688.0,538.1 L1681.1,538.1 L1674.2,538.0 L1667.4,537.9 L1660.6,537.8 L1653.9,537.7 L1647.2,537.6 L1640.6,537.5 L1634.0,537.4 L1627.5,537.3 L1621.0,537.1 L1614.5,536.9 L1608.1,536.8 L1601.8,536.6 L1595.4,536.4 L1589.1,536.2 L1582.9,535.9 L1576.7,535.7 L1570.5,535.4 L1564.3,535.2 L1558.2,534.9 L1552.1,534.6 L1546.0,534.2 L1540.0,533.9 L1533.9,533.5 L1527.9,533.2 L1521.9,532.8 L1516.0,532.3 L1510.0,531.9 L1504.1,531.5 L1498.2,531.0 L1492.3,530.5 L1486.4,529.9 L1480.6,529.4 L1474.7,528.8 L1468.8,528.2 L1463.0,527.6 L1457.2,527.0 L1451.3,526.3 L1445.5,525.6 L1439.7,524.9 L1433.8,524.1 L1428.0,523.4 L1422.2,522.6 L1416.3,521.7 L1410.5,520.9Z" fill="#90d600"/>
<text id="L23" font-size="19.6" fill="#242424"><textPath href="#tp24" startOffset="256.5">Travail en Angleterre, Espagne &amp; Chine</textPath></text>
<path d="M1833.7,542.3 L1835.2,541.4 L1836.6,540.6 L1838.0,539.9 L1839.4,539.1 L1840.8,538.3 L1842.2,537.6 L1843.5,536.9 L1844.9,536.2 L1846.2,535.5 L1847.5,534.8 L1848.8,534.1 L1850.1,533.5 L1851.4,532.9 L1852.7,532.3 L1854.0,531.7 L1855.4,531.1 L1856.7,530.5 L1858.0,530.0 L1859.4,529.4 L1860.8,528.9 L1862.2,528.4 L1863.6,527.9 L1865.0,527.4 L1866.5,526.9 L1868.0,526.5 L1869.5,526.0 L1871.1,525.6 L1872.7,525.2 L1874.3,524.8 L1876.0,524.4 L1877.7,524.0 L1879.5,523.6 L1881.3,523.3 L1883.1,522.9 L1885.1,522.6 L1887.0,522.2 L1889.1,521.9 L1891.2,521.6 L1893.3,521.3 L1895.5,521.1 L1897.8,520.8 L1900.2,520.5 L1902.6,520.3 L1905.1,520.1 L1907.7,519.8 L1910.3,519.6 L1913.1,519.4 L1915.9,519.2 L1918.8,519.0 L1921.8,518.9 L1924.9,518.7 L1928.0,518.5 L1931.3,518.4 L1934.7,518.3 L1938.1,518.1 L1941.7,518.0 L1945.4,517.9 L1949.2,517.8 L1953.0,517.7 L1957.0,517.6 L1961.2,517.6 L1965.4,517.5 L1969.7,517.4 L1974.2,517.4 L1974.2,516.4 L1969.7,516.4 L1965.4,516.3 L1961.2,516.3 L1957.0,516.3 L1953.0,516.3 L1949.1,516.3 L1945.4,516.4 L1941.7,516.4 L1938.1,516.4 L1934.6,516.5 L1931.2,516.6 L1928.0,516.7 L1924.8,516.7 L1921.7,516.9 L1918.7,517.0 L1915.8,517.1 L1912.9,517.2 L1910.2,517.4 L1907.5,517.6 L1904.9,517.7 L1902.4,517.9 L1899.9,518.1 L1897.6,518.3 L1895.3,518.6 L1893.0,518.8 L1890.8,519.0 L1888.7,519.3 L1886.6,519.6 L1884.6,519.9 L1882.7,520.2 L1880.8,520.5 L1878.9,520.8 L1877.1,521.2 L1875.4,521.5 L1873.6,521.9 L1872.0,522.3 L1870.3,522.7 L1868.7,523.1 L1867.1,523.5 L1865.6,524.0 L1864.1,524.4 L1862.6,524.9 L1861.1,525.4 L1859.7,525.9 L1858.3,526.4 L1856.8,526.9 L1855.5,527.5 L1854.1,528.0 L1852.7,528.6 L1851.3,529.2 L1850.0,529.8 L1848.6,530.4 L1847.3,531.0 L1845.9,531.7 L1844.6,532.3 L1843.2,533.0 L1841.9,533.7 L1840.5,534.4 L1839.1,535.1 L1837.7,535.8 L1836.3,536.6 L1834.8,537.4 L1833.4,538.1 L1831.9,538.9Z" fill="#90d600"/>
<text id="L24" font-size="16.2" fill="#242424"><textPath href="#tp25" startOffset="263.2">Flexibilité</textPath></text>
<path d="M1832.3,542.4 L1834.0,542.9 L1835.6,543.3 L1837.3,543.6 L1839.0,544.0 L1840.7,544.4 L1842.5,544.7 L1844.2,545.1 L1846.0,545.4 L1847.7,545.7 L1849.5,546.0 L1851.3,546.3 L1853.1,546.5 L1855.0,546.8 L1856.8,547.0 L1858.7,547.3 L1860.6,547.5 L1862.5,547.7 L1864.4,547.9 L1866.3,548.1 L1868.3,548.3 L1870.2,548.4 L1872.2,548.6 L1874.2,548.8 L1876.2,548.9 L1878.2,549.0 L1880.3,549.2 L1882.3,549.3 L1884.4,549.4 L1886.5,549.5 L1888.6,549.6 L1890.8,549.6 L1892.9,549.7 L1895.1,549.8 L1897.3,549.9 L1899.5,549.9 L1901.7,550.0 L1903.9,550.0 L1906.2,550.1 L1908.5,550.1 L1910.8,550.1 L1913.1,550.1 L1915.4,550.2 L1917.8,550.2 L1920.2,550.2 L1922.6,550.2 L1925.0,550.2 L1927.4,550.2 L1929.9,550.2 L1932.3,550.2 L1934.8,550.1 L1937.3,550.1 L1939.9,550.1 L1942.4,550.1 L1945.0,550.1 L1947.6,550.0 L1950.2,550.0 L1952.8,550.0 L1955.5,550.0 L1958.2,549.9 L1960.9,549.9 L1963.6,549.9 L1966.3,549.9 L1969.1,549.8 L1971.9,549.8 L1971.9,548.8 L1969.1,548.8 L1966.3,548.7 L1963.6,548.7 L1960.9,548.7 L1958.2,548.7 L1955.5,548.6 L1952.8,548.6 L1950.2,548.6 L1947.6,548.6 L1945.0,548.5 L1942.4,548.5 L1939.9,548.5 L1937.3,548.4 L1934.8,548.4 L1932.3,548.4 L1929.9,548.3 L1927.4,548.3 L1925.0,548.2 L1922.6,548.2 L1920.2,548.1 L1917.8,548.1 L1915.5,548.0 L1913.1,548.0 L1910.8,547.9 L1908.5,547.8 L1906.3,547.7 L1904.0,547.7 L1901.8,547.6 L1899.6,547.5 L1897.4,547.4 L1895.2,547.3 L1893.0,547.1 L1890.9,547.0 L1888.8,546.9 L1886.7,546.8 L1884.6,546.6 L1882.5,546.5 L1880.5,546.3 L1878.4,546.2 L1876.4,546.0 L1874.4,545.8 L1872.5,545.6 L1870.5,545.4 L1868.6,545.2 L1866.6,545.0 L1864.7,544.8 L1862.8,544.5 L1861.0,544.3 L1859.1,544.0 L1857.3,543.8 L1855.5,543.5 L1853.7,543.2 L1851.9,542.9 L1850.1,542.6 L1848.4,542.2 L1846.6,541.9 L1844.9,541.6 L1843.2,541.2 L1841.5,540.8 L1839.8,540.4 L1838.2,540.0 L1836.5,539.6 L1834.9,539.2 L1833.3,538.8Z" fill="#90d600"/>
<text id="L25" font-size="16.2" fill="#242424"><textPath href="#tp26" startOffset="253.1">Curiosité</textPath></text>
<path d="M1832.0,542.3 L1833.6,543.1 L1835.1,543.8 L1836.6,544.6 L1838.0,545.4 L1839.4,546.2 L1840.8,547.0 L1842.1,547.8 L1843.4,548.6 L1844.6,549.4 L1845.8,550.2 L1847.1,551.1 L1848.2,551.9 L1849.4,552.8 L1850.6,553.6 L1851.8,554.5 L1852.9,555.3 L1854.1,556.2 L1855.3,557.0 L1856.5,557.9 L1857.7,558.7 L1858.9,559.6 L1860.2,560.4 L1861.5,561.2 L1862.8,562.1 L1864.2,562.9 L1865.6,563.7 L1867.0,564.5 L1868.5,565.4 L1870.1,566.2 L1871.7,566.9 L1873.3,567.7 L1875.0,568.5 L1876.8,569.2 L1878.7,570.0 L1880.6,570.7 L1882.6,571.4 L1884.7,572.1 L1886.9,572.7 L1889.2,573.4 L1891.6,574.0 L1894.1,574.6 L1896.6,575.2 L1899.3,575.8 L1902.1,576.3 L1905.0,576.9 L1908.1,577.4 L1911.2,577.8 L1914.5,578.3 L1917.9,578.7 L1921.5,579.1 L1925.2,579.5 L1929.0,579.9 L1933.0,580.2 L1937.2,580.5 L1941.5,580.8 L1945.9,581.0 L1950.5,581.2 L1955.3,581.4 L1960.3,581.5 L1965.5,581.6 L1970.8,581.7 L1976.3,581.7 L1982.0,581.7 L1987.9,581.7 L1987.9,580.7 L1982.0,580.6 L1976.3,580.5 L1970.8,580.4 L1965.5,580.2 L1960.4,580.0 L1955.4,579.8 L1950.6,579.6 L1946.0,579.3 L1941.6,579.0 L1937.3,578.6 L1933.2,578.3 L1929.2,577.9 L1925.4,577.5 L1921.7,577.0 L1918.2,576.6 L1914.8,576.1 L1911.6,575.6 L1908.5,575.0 L1905.5,574.5 L1902.6,573.9 L1899.9,573.3 L1897.2,572.7 L1894.7,572.1 L1892.3,571.5 L1889.9,570.8 L1887.7,570.1 L1885.6,569.4 L1883.6,568.7 L1881.6,568.0 L1879.7,567.3 L1877.9,566.5 L1876.2,565.8 L1874.6,565.0 L1873.0,564.2 L1871.4,563.5 L1870.0,562.7 L1868.5,561.9 L1867.2,561.0 L1865.8,560.2 L1864.5,559.4 L1863.2,558.6 L1862.0,557.7 L1860.8,556.9 L1859.6,556.0 L1858.4,555.2 L1857.3,554.3 L1856.1,553.5 L1854.9,552.6 L1853.8,551.7 L1852.6,550.8 L1851.5,550.0 L1850.3,549.1 L1849.1,548.2 L1847.9,547.4 L1846.6,546.5 L1845.3,545.6 L1844.0,544.8 L1842.7,543.9 L1841.3,543.0 L1839.9,542.2 L1838.4,541.4 L1836.9,540.5 L1835.3,539.7 L1833.6,538.9Z" fill="#90d600"/>
<text id="L26" font-size="16.2" fill="#242424"><textPath href="#tp27" startOffset="260.6">Formations</textPath></text>
<path d="M1407.7,524.9 L1408.7,526.9 L1409.7,529.2 L1410.8,531.6 L1411.8,534.1 L1412.9,536.9 L1413.9,539.8 L1415.0,542.8 L1416.2,545.9 L1417.3,549.2 L1418.5,552.6 L1419.8,556.2 L1421.1,559.8 L1422.4,563.5 L1423.8,567.3 L1425.3,571.3 L1426.8,575.2 L1428.4,579.3 L1430.1,583.4 L1431.9,587.6 L1433.8,591.9 L1435.8,596.2 L1437.9,600.5 L1440.0,604.9 L1442.4,609.2 L1444.8,613.7 L1447.3,618.1 L1450.0,622.5 L1452.9,626.9 L1455.8,631.4 L1458.9,635.8 L1462.2,640.2 L1465.6,644.5 L1469.2,648.9 L1473.0,653.2 L1477.0,657.4 L1481.1,661.6 L1485.4,665.8 L1489.9,669.9 L1494.6,673.9 L1499.5,677.8 L1504.7,681.6 L1510.0,685.4 L1515.6,689.0 L1521.3,692.6 L1527.4,696.0 L1533.6,699.3 L1540.1,702.5 L1546.8,705.5 L1553.8,708.5 L1561.1,711.2 L1568.6,713.9 L1576.3,716.3 L1584.4,718.6 L1592.7,720.8 L1601.3,722.7 L1610.2,724.5 L1619.4,726.1 L1628.9,727.5 L1638.7,728.7 L1648.8,729.7 L1659.3,730.4 L1670.0,731.0 L1681.1,731.3 L1692.5,731.4 L1692.5,727.6 L1681.2,727.5 L1670.2,727.1 L1659.5,726.5 L1649.2,725.7 L1639.2,724.7 L1629.5,723.4 L1620.1,722.0 L1611.0,720.4 L1602.2,718.6 L1593.7,716.6 L1585.5,714.5 L1577.6,712.2 L1570.0,709.7 L1562.6,707.1 L1555.5,704.4 L1548.6,701.5 L1542.0,698.4 L1535.7,695.3 L1529.6,692.0 L1523.7,688.6 L1518.0,685.1 L1512.6,681.5 L1507.4,677.8 L1502.4,674.1 L1497.7,670.2 L1493.1,666.3 L1488.7,662.3 L1484.5,658.2 L1480.5,654.1 L1476.6,649.9 L1473.0,645.7 L1469.5,641.5 L1466.1,637.2 L1463.0,632.9 L1459.9,628.6 L1457.0,624.2 L1454.3,619.9 L1451.7,615.5 L1449.2,611.2 L1446.8,606.8 L1444.6,602.5 L1442.5,598.2 L1440.4,594.0 L1438.5,589.7 L1436.7,585.6 L1434.9,581.4 L1433.3,577.4 L1431.7,573.3 L1430.2,569.4 L1428.8,565.5 L1427.4,561.7 L1426.1,558.0 L1424.8,554.4 L1423.6,550.9 L1422.4,547.5 L1421.3,544.2 L1420.1,541.0 L1419.0,537.9 L1418.0,535.0 L1416.9,532.1 L1415.8,529.5 L1414.7,526.9 L1413.6,524.6 L1412.5,522.3Z" fill="#90d600"/>
<text id="L27" font-size="19.6" fill="#242424"><textPath href="#tp28" startOffset="343.4">Enseignante de langues</textPath></text>
<path d="M1694.2,730.2 L1695.4,727.2 L1696.7,724.3 L1697.9,721.4 L1699.3,718.6 L1700.6,715.9 L1702.0,713.3 L1703.3,710.7 L1704.8,708.2 L1706.2,705.7 L1707.7,703.3 L1709.1,701.0 L1710.7,698.8 L1712.2,696.6 L1713.8,694.4 L1715.4,692.4 L1717.0,690.4 L1718.6,688.4 L1720.3,686.5 L1722.0,684.7 L1723.7,682.9 L1725.5,681.2 L1727.3,679.6 L1729.1,678.0 L1730.9,676.4 L1732.8,674.9 L1734.7,673.5 L1736.6,672.1 L1738.6,670.8 L1740.6,669.5 L1742.6,668.2 L1744.6,667.0 L1746.7,665.9 L1748.8,664.8 L1750.9,663.7 L1753.1,662.7 L1755.3,661.7 L1757.5,660.8 L1759.8,659.9 L1762.1,659.1 L1764.4,658.3 L1766.8,657.6 L1769.2,656.8 L1771.6,656.2 L1774.0,655.5 L1776.5,654.9 L1779.0,654.4 L1781.6,653.8 L1784.2,653.3 L1786.8,652.9 L1789.4,652.5 L1792.1,652.1 L1794.8,651.7 L1797.6,651.4 L1800.4,651.1 L1803.2,650.8 L1806.0,650.6 L1808.9,650.4 L1811.8,650.2 L1814.8,650.0 L1817.8,649.9 L1820.8,649.8 L1823.9,649.7 L1827.0,649.6 L1830.1,649.6 L1830.1,648.6 L1827.0,648.6 L1823.9,648.6 L1820.8,648.6 L1817.8,648.7 L1814.8,648.8 L1811.8,648.9 L1808.8,649.0 L1805.9,649.2 L1803.1,649.4 L1800.2,649.6 L1797.4,649.9 L1794.7,650.1 L1791.9,650.5 L1789.2,650.8 L1786.5,651.2 L1783.9,651.6 L1781.2,652.1 L1778.7,652.6 L1776.1,653.1 L1773.6,653.7 L1771.1,654.3 L1768.6,654.9 L1766.2,655.6 L1763.8,656.3 L1761.4,657.1 L1759.0,657.9 L1756.7,658.8 L1754.4,659.7 L1752.2,660.6 L1750.0,661.6 L1747.8,662.7 L1745.6,663.7 L1743.4,664.9 L1741.3,666.1 L1739.2,667.3 L1737.2,668.6 L1735.1,670.0 L1733.1,671.4 L1731.2,672.8 L1729.2,674.3 L1727.3,675.9 L1725.4,677.5 L1723.5,679.2 L1721.7,680.9 L1719.9,682.7 L1718.1,684.5 L1716.4,686.4 L1714.7,688.4 L1713.0,690.4 L1711.3,692.5 L1709.6,694.7 L1708.0,696.9 L1706.4,699.2 L1704.9,701.5 L1703.3,704.0 L1701.8,706.4 L1700.3,709.0 L1698.9,711.6 L1697.4,714.3 L1696.0,717.0 L1694.6,719.9 L1693.3,722.8 L1692.0,725.7 L1690.6,728.8Z" fill="#90d600"/>
<text id="L28" font-size="16.2" fill="#242424"><textPath href="#tp29" startOffset="320.8">Cours</textPath></text>
<path d="M1693.9,730.7 L1695.8,728.4 L1697.8,726.2 L1699.9,724.0 L1702.0,721.9 L1704.2,719.9 L1706.4,717.9 L1708.7,716.0 L1711.0,714.1 L1713.4,712.4 L1715.8,710.6 L1718.3,709.0 L1720.8,707.4 L1723.4,705.9 L1726.0,704.4 L1728.6,703.0 L1731.3,701.6 L1734.0,700.3 L1736.7,699.0 L1739.5,697.8 L1742.3,696.6 L1745.2,695.5 L1748.0,694.5 L1750.9,693.5 L1753.8,692.5 L1756.7,691.6 L1759.7,690.7 L1762.6,689.9 L1765.6,689.1 L1768.6,688.3 L1771.6,687.6 L1774.6,687.0 L1777.6,686.3 L1780.6,685.7 L1783.7,685.2 L1786.7,684.7 L1789.7,684.2 L1792.7,683.7 L1795.8,683.3 L1798.8,682.9 L1801.8,682.5 L1804.8,682.2 L1807.7,681.9 L1810.7,681.6 L1813.7,681.3 L1816.6,681.1 L1819.5,680.9 L1822.4,680.7 L1825.3,680.5 L1828.1,680.3 L1830.9,680.2 L1833.7,680.1 L1836.5,679.9 L1839.2,679.9 L1841.9,679.8 L1844.6,679.7 L1847.2,679.6 L1849.8,679.6 L1852.3,679.5 L1854.8,679.5 L1857.3,679.5 L1859.7,679.5 L1862.0,679.4 L1864.3,679.4 L1866.6,679.4 L1866.6,678.4 L1864.3,678.4 L1862.0,678.4 L1859.7,678.4 L1857.3,678.3 L1854.8,678.3 L1852.3,678.3 L1849.8,678.3 L1847.2,678.3 L1844.6,678.4 L1841.9,678.4 L1839.2,678.4 L1836.5,678.5 L1833.7,678.6 L1830.9,678.7 L1828.1,678.8 L1825.2,678.9 L1822.3,679.0 L1819.4,679.2 L1816.5,679.3 L1813.5,679.5 L1810.5,679.8 L1807.6,680.0 L1804.6,680.3 L1801.5,680.6 L1798.5,680.9 L1795.5,681.2 L1792.4,681.6 L1789.4,682.0 L1786.3,682.5 L1783.3,683.0 L1780.2,683.5 L1777.2,684.0 L1774.1,684.6 L1771.1,685.3 L1768.0,685.9 L1765.0,686.6 L1762.0,687.4 L1759.0,688.2 L1756.0,689.0 L1753.0,689.9 L1750.0,690.9 L1747.1,691.8 L1744.2,692.9 L1741.3,694.0 L1738.4,695.1 L1735.6,696.3 L1732.7,697.5 L1729.9,698.8 L1727.2,700.2 L1724.5,701.6 L1721.8,703.1 L1719.1,704.6 L1716.5,706.2 L1713.9,707.9 L1711.4,709.6 L1708.9,711.4 L1706.5,713.3 L1704.1,715.2 L1701.8,717.2 L1699.5,719.3 L1697.3,721.4 L1695.1,723.6 L1693.0,725.9 L1690.9,728.3Z" fill="#90d600"/>
<text id="L29" font-size="16.2" fill="#242424"><textPath href="#tp30" startOffset="295.8">Grammaire</textPath></text>
<path d="M1692.7,731.4 L1695.1,731.0 L1697.4,730.5 L1699.6,730.1 L1701.8,729.7 L1703.9,729.3 L1706.0,728.8 L1707.9,728.4 L1709.9,728.0 L1711.8,727.6 L1713.6,727.2 L1715.4,726.7 L1717.2,726.3 L1719.0,725.9 L1720.7,725.5 L1722.4,725.1 L1724.1,724.7 L1725.7,724.3 L1727.4,723.9 L1729.0,723.5 L1730.7,723.1 L1732.4,722.7 L1734.0,722.3 L1735.7,721.9 L1737.4,721.5 L1739.2,721.1 L1740.9,720.8 L1742.7,720.4 L1744.6,720.0 L1746.4,719.7 L1748.3,719.3 L1750.3,719.0 L1752.3,718.6 L1754.4,718.3 L1756.5,718.0 L1758.8,717.6 L1761.0,717.3 L1763.4,717.0 L1765.8,716.7 L1768.4,716.4 L1771.0,716.1 L1773.7,715.8 L1776.5,715.5 L1779.4,715.3 L1782.5,715.0 L1785.6,714.7 L1788.9,714.5 L1792.2,714.3 L1795.7,714.0 L1799.4,713.8 L1803.1,713.6 L1807.0,713.4 L1811.1,713.2 L1815.3,713.0 L1819.6,712.9 L1824.1,712.7 L1828.8,712.6 L1833.6,712.4 L1838.6,712.3 L1843.8,712.2 L1849.1,712.1 L1854.7,712.0 L1860.4,711.9 L1866.3,711.9 L1872.4,711.8 L1872.4,710.8 L1866.3,710.8 L1860.4,710.7 L1854.7,710.7 L1849.1,710.7 L1843.8,710.8 L1838.6,710.8 L1833.6,710.8 L1828.8,710.9 L1824.1,711.0 L1819.6,711.1 L1815.2,711.2 L1811.0,711.3 L1807.0,711.4 L1803.0,711.5 L1799.3,711.7 L1795.6,711.9 L1792.1,712.0 L1788.7,712.2 L1785.4,712.4 L1782.3,712.6 L1779.2,712.8 L1776.3,713.1 L1773.5,713.3 L1770.7,713.5 L1768.1,713.8 L1765.5,714.1 L1763.1,714.3 L1760.7,714.6 L1758.4,714.9 L1756.2,715.2 L1754.0,715.5 L1751.9,715.8 L1749.8,716.1 L1747.8,716.4 L1745.9,716.8 L1744.0,717.1 L1742.1,717.4 L1740.3,717.8 L1738.5,718.1 L1736.8,718.5 L1735.1,718.9 L1733.4,719.2 L1731.7,719.6 L1730.0,720.0 L1728.3,720.3 L1726.6,720.7 L1725.0,721.1 L1723.3,721.5 L1721.6,721.8 L1719.9,722.2 L1718.2,722.6 L1716.4,723.0 L1714.7,723.4 L1712.9,723.8 L1711.0,724.2 L1709.2,724.6 L1707.2,724.9 L1705.3,725.3 L1703.2,725.7 L1701.1,726.1 L1699.0,726.5 L1696.8,726.9 L1694.5,727.2 L1692.1,727.6Z" fill="#90d600"/>
<text id="L30" font-size="16.2" fill="#242424"><textPath href="#tp31" startOffset="279.0">Vocabulaire</textPath></text>
<path d="M1691.9,731.3 L1694.2,731.9 L1696.4,732.4 L1698.6,733.0 L1700.7,733.5 L1702.8,734.0 L1704.8,734.5 L1706.8,735.0 L1708.8,735.4 L1710.8,735.9 L1712.7,736.3 L1714.6,736.7 L1716.5,737.1 L1718.3,737.5 L1720.2,737.9 L1722.0,738.2 L1723.9,738.6 L1725.7,738.9 L1727.6,739.2 L1729.5,739.5 L1731.4,739.8 L1733.3,740.1 L1735.2,740.4 L1737.1,740.6 L1739.1,740.9 L1741.1,741.1 L1743.1,741.4 L1745.2,741.6 L1747.3,741.8 L1749.5,742.0 L1751.7,742.2 L1754.0,742.3 L1756.3,742.5 L1758.7,742.7 L1761.2,742.8 L1763.7,743.0 L1766.3,743.1 L1769.0,743.2 L1771.8,743.3 L1774.6,743.4 L1777.5,743.5 L1780.6,743.6 L1783.7,743.7 L1786.9,743.7 L1790.3,743.8 L1793.7,743.9 L1797.3,743.9 L1800.9,743.9 L1804.7,744.0 L1808.6,744.0 L1812.7,744.0 L1816.8,744.0 L1821.1,744.1 L1825.6,744.1 L1830.2,744.1 L1834.9,744.1 L1839.8,744.0 L1844.9,744.0 L1850.1,744.0 L1855.4,744.0 L1860.9,744.0 L1866.6,743.9 L1872.5,743.9 L1878.6,743.8 L1884.8,743.8 L1884.8,742.8 L1878.6,742.8 L1872.5,742.7 L1866.6,742.7 L1860.9,742.6 L1855.4,742.6 L1850.1,742.5 L1844.9,742.5 L1839.8,742.4 L1834.9,742.3 L1830.2,742.3 L1825.6,742.2 L1821.2,742.1 L1816.9,742.1 L1812.7,742.0 L1808.7,741.9 L1804.7,741.8 L1801.0,741.7 L1797.3,741.6 L1793.8,741.5 L1790.3,741.4 L1787.0,741.3 L1783.8,741.2 L1780.7,741.1 L1777.6,741.0 L1774.7,740.8 L1771.9,740.7 L1769.1,740.5 L1766.5,740.4 L1763.9,740.2 L1761.4,740.0 L1758.9,739.9 L1756.5,739.7 L1754.2,739.5 L1752.0,739.3 L1749.8,739.0 L1747.6,738.8 L1745.5,738.6 L1743.5,738.3 L1741.5,738.1 L1739.5,737.8 L1737.5,737.5 L1735.6,737.3 L1733.7,737.0 L1731.9,736.7 L1730.0,736.3 L1728.2,736.0 L1726.3,735.7 L1724.5,735.3 L1722.7,734.9 L1720.9,734.5 L1719.0,734.1 L1717.2,733.7 L1715.3,733.3 L1713.5,732.9 L1711.6,732.4 L1709.6,732.0 L1707.7,731.5 L1705.7,731.0 L1703.7,730.5 L1701.6,729.9 L1699.5,729.4 L1697.3,728.8 L1695.1,728.3 L1692.9,727.7Z" fill="#90d600"/>
<text id="L31" font-size="16.2" fill="#242424"><textPath href="#tp32" startOffset="273.9">Mémorisation</textPath></text>
<path d="M1691.5,731.1 L1694.3,732.8 L1697.0,734.4 L1699.7,735.9 L1702.2,737.4 L1704.7,738.9 L1707.0,740.4 L1709.3,741.8 L1711.5,743.2 L1713.7,744.6 L1715.8,745.9 L1717.8,747.2 L1719.8,748.5 L1721.8,749.7 L1723.7,750.9 L1725.5,752.1 L1727.4,753.3 L1729.2,754.4 L1731.0,755.5 L1732.8,756.6 L1734.6,757.6 L1736.4,758.6 L1738.2,759.6 L1740.0,760.5 L1741.8,761.5 L1743.6,762.3 L1745.5,763.2 L1747.4,764.1 L1749.3,764.9 L1751.3,765.6 L1753.4,766.4 L1755.4,767.1 L1757.6,767.8 L1759.8,768.5 L1762.0,769.1 L1764.4,769.8 L1766.8,770.3 L1769.3,770.9 L1771.9,771.5 L1774.6,772.0 L1777.4,772.5 L1780.3,772.9 L1783.3,773.4 L1786.4,773.8 L1789.7,774.2 L1793.1,774.5 L1796.6,774.9 L1800.2,775.2 L1804.0,775.5 L1808.0,775.8 L1812.1,776.0 L1816.3,776.2 L1820.8,776.4 L1825.4,776.6 L1830.2,776.8 L1835.1,776.9 L1840.3,777.1 L1845.6,777.2 L1851.2,777.2 L1856.9,777.3 L1862.9,777.3 L1869.1,777.4 L1875.5,777.4 L1882.1,777.3 L1889.0,777.3 L1889.0,776.3 L1882.1,776.2 L1875.5,776.2 L1869.1,776.1 L1862.9,776.0 L1857.0,775.9 L1851.2,775.7 L1845.7,775.6 L1840.3,775.4 L1835.2,775.2 L1830.2,775.0 L1825.5,774.8 L1820.9,774.5 L1816.5,774.3 L1812.2,774.0 L1808.1,773.7 L1804.2,773.3 L1800.4,773.0 L1796.8,772.6 L1793.3,772.2 L1790.0,771.8 L1786.7,771.4 L1783.7,771.0 L1780.7,770.5 L1777.8,770.0 L1775.1,769.5 L1772.4,768.9 L1769.9,768.4 L1767.4,767.8 L1765.1,767.2 L1762.8,766.5 L1760.6,765.9 L1758.4,765.2 L1756.4,764.5 L1754.3,763.7 L1752.4,763.0 L1750.5,762.2 L1748.6,761.4 L1746.7,760.5 L1744.9,759.7 L1743.2,758.8 L1741.4,757.8 L1739.6,756.9 L1737.9,755.9 L1736.2,754.9 L1734.4,753.9 L1732.7,752.8 L1730.9,751.7 L1729.1,750.5 L1727.3,749.4 L1725.4,748.2 L1723.6,746.9 L1721.6,745.7 L1719.7,744.4 L1717.6,743.1 L1715.6,741.7 L1713.4,740.3 L1711.2,738.9 L1708.9,737.4 L1706.6,735.9 L1704.1,734.4 L1701.6,732.8 L1698.9,731.2 L1696.2,729.5 L1693.3,727.9Z" fill="#90d600"/>
<text id="L32" font-size="16.2" fill="#242424"><textPath href="#tp33" startOffset="282.4">Concentration</textPath></text>
<path d="M1691.0,730.8 L1692.7,732.6 L1694.3,734.5 L1695.9,736.3 L1697.5,738.2 L1699.0,740.1 L1700.5,741.9 L1702.0,743.8 L1703.5,745.7 L1705.0,747.6 L1706.5,749.6 L1707.9,751.5 L1709.4,753.4 L1710.9,755.3 L1712.4,757.2 L1713.9,759.1 L1715.5,761.0 L1717.1,762.9 L1718.7,764.8 L1720.3,766.7 L1722.0,768.5 L1723.8,770.4 L1725.6,772.2 L1727.4,774.1 L1729.4,775.9 L1731.3,777.6 L1733.4,779.4 L1735.5,781.2 L1737.7,782.9 L1740.0,784.6 L1742.4,786.3 L1744.9,787.9 L1747.5,789.5 L1750.2,791.1 L1753.0,792.7 L1755.9,794.2 L1758.9,795.7 L1762.0,797.1 L1765.3,798.5 L1768.7,799.9 L1772.2,801.2 L1775.9,802.5 L1779.7,803.8 L1783.7,805.0 L1787.8,806.1 L1792.1,807.3 L1796.5,808.3 L1801.1,809.3 L1805.9,810.3 L1810.9,811.2 L1816.0,812.1 L1821.3,812.9 L1826.8,813.6 L1832.5,814.3 L1838.5,815.0 L1844.6,815.6 L1850.9,816.1 L1857.5,816.5 L1864.2,816.9 L1871.2,817.3 L1878.4,817.5 L1885.9,817.7 L1893.6,817.9 L1901.5,817.9 L1909.7,817.9 L1909.7,816.9 L1901.5,816.8 L1893.6,816.7 L1885.9,816.5 L1878.5,816.2 L1871.3,815.8 L1864.3,815.4 L1857.6,814.9 L1851.0,814.4 L1844.7,813.8 L1838.7,813.2 L1832.8,812.5 L1827.1,811.7 L1821.6,810.9 L1816.3,810.0 L1811.2,809.1 L1806.3,808.2 L1801.6,807.2 L1797.0,806.1 L1792.7,805.0 L1788.4,803.8 L1784.4,802.6 L1780.5,801.4 L1776.7,800.1 L1773.1,798.8 L1769.7,797.5 L1766.3,796.1 L1763.1,794.7 L1760.1,793.2 L1757.1,791.7 L1754.3,790.2 L1751.6,788.7 L1749.0,787.1 L1746.5,785.5 L1744.1,783.8 L1741.8,782.2 L1739.6,780.5 L1737.4,778.8 L1735.4,777.1 L1733.4,775.3 L1731.5,773.6 L1729.6,771.8 L1727.9,770.0 L1726.1,768.2 L1724.4,766.3 L1722.8,764.5 L1721.2,762.6 L1719.6,760.8 L1718.1,758.9 L1716.6,757.0 L1715.1,755.1 L1713.6,753.2 L1712.2,751.3 L1710.7,749.3 L1709.3,747.4 L1707.8,745.5 L1706.3,743.6 L1704.9,741.6 L1703.4,739.7 L1701.9,737.8 L1700.3,735.8 L1698.7,733.9 L1697.1,732.0 L1695.5,730.1 L1693.8,728.2Z" fill="#90d600"/>
<text id="L33" font-size="16.2" fill="#242424"><textPath href="#tp34" startOffset="300.5">Confiance en soi</textPath></text>
<path d="M1173.1,1002.1 L1175.7,996.1 L1178.4,990.4 L1181.0,984.8 L1183.7,979.4 L1186.4,974.1 L1189.1,969.1 L1191.8,964.2 L1194.5,959.4 L1197.2,954.8 L1200.0,950.4 L1202.8,946.1 L1205.6,942.0 L1208.4,938.1 L1211.2,934.2 L1214.0,930.6 L1216.9,927.0 L1219.7,923.7 L1222.6,920.4 L1225.5,917.3 L1228.4,914.3 L1231.4,911.4 L1234.3,908.7 L1237.3,906.1 L1240.2,903.6 L1243.2,901.2 L1246.2,898.9 L1249.2,896.7 L1252.2,894.7 L1255.3,892.7 L1258.3,890.9 L1261.4,889.1 L1264.5,887.5 L1267.6,885.9 L1270.7,884.4 L1273.9,883.1 L1277.0,881.8 L1280.2,880.5 L1283.4,879.4 L1286.6,878.3 L1289.8,877.4 L1293.0,876.4 L1296.2,875.6 L1299.5,874.8 L1302.8,874.1 L1306.1,873.4 L1309.4,872.8 L1312.7,872.3 L1316.0,871.8 L1319.4,871.4 L1322.8,871.0 L1326.1,870.6 L1329.5,870.3 L1333.0,870.0 L1336.4,869.8 L1339.8,869.6 L1343.3,869.4 L1346.8,869.3 L1350.3,869.2 L1353.8,869.1 L1357.3,869.0 L1360.8,869.0 L1364.4,868.9 L1367.9,868.9 L1371.5,868.9 L1371.5,865.1 L1367.9,865.1 L1364.3,865.1 L1360.8,865.1 L1357.2,865.1 L1353.7,865.2 L1350.2,865.3 L1346.6,865.3 L1343.1,865.5 L1339.6,865.6 L1336.1,865.8 L1332.7,866.0 L1329.2,866.2 L1325.8,866.5 L1322.3,866.9 L1318.9,867.3 L1315.5,867.7 L1312.1,868.2 L1308.7,868.7 L1305.3,869.3 L1301.9,869.9 L1298.6,870.6 L1295.2,871.4 L1291.9,872.3 L1288.6,873.2 L1285.2,874.2 L1281.9,875.3 L1278.7,876.4 L1275.4,877.6 L1272.1,879.0 L1268.9,880.4 L1265.7,881.9 L1262.4,883.5 L1259.2,885.2 L1256.1,886.9 L1252.9,888.8 L1249.7,890.8 L1246.6,892.9 L1243.5,895.1 L1240.3,897.5 L1237.2,899.9 L1234.2,902.5 L1231.1,905.1 L1228.1,907.9 L1225.0,910.9 L1222.0,913.9 L1219.0,917.1 L1216.1,920.4 L1213.1,923.9 L1210.1,927.5 L1207.2,931.2 L1204.3,935.1 L1201.4,939.1 L1198.5,943.3 L1195.7,947.6 L1192.8,952.1 L1190.0,956.8 L1187.2,961.6 L1184.4,966.5 L1181.7,971.7 L1178.9,977.0 L1176.2,982.4 L1173.5,988.1 L1170.8,993.9 L1168.1,999.9Z" fill="#0488d4"/>
<text id="L34" font-size="19.6" fill="#242424"><textPath href="#tp35" startOffset="344.7">Découverte</textPath></text>
<path d="M1372.5,868.6 L1375.1,867.0 L1377.7,865.5 L1380.2,864.0 L1382.8,862.5 L1385.2,861.1 L1387.7,859.7 L1390.1,858.3 L1392.4,857.0 L1394.8,855.7 L1397.1,854.4 L1399.4,853.2 L1401.7,852.0 L1403.9,850.8 L1406.2,849.7 L1408.4,848.6 L1410.7,847.5 L1412.9,846.5 L1415.1,845.5 L1417.3,844.5 L1419.6,843.6 L1421.8,842.7 L1424.0,841.8 L1426.3,840.9 L1428.6,840.1 L1430.8,839.3 L1433.1,838.5 L1435.5,837.8 L1437.8,837.0 L1440.2,836.3 L1442.6,835.7 L1445.0,835.0 L1447.5,834.4 L1450.0,833.8 L1452.6,833.2 L1455.2,832.7 L1457.8,832.2 L1460.5,831.7 L1463.3,831.2 L1466.1,830.7 L1468.9,830.3 L1471.9,829.9 L1474.8,829.5 L1477.9,829.1 L1481.0,828.7 L1484.2,828.4 L1487.5,828.1 L1490.8,827.8 L1494.2,827.5 L1497.7,827.3 L1501.3,827.0 L1505.0,826.8 L1508.7,826.6 L1512.6,826.4 L1516.6,826.2 L1520.6,826.0 L1524.8,825.9 L1529.0,825.8 L1533.4,825.6 L1537.8,825.5 L1542.4,825.4 L1547.1,825.4 L1551.9,825.3 L1556.8,825.2 L1561.9,825.2 L1561.9,824.2 L1556.8,824.2 L1551.9,824.2 L1547.1,824.2 L1542.4,824.2 L1537.8,824.2 L1533.3,824.2 L1529.0,824.3 L1524.7,824.4 L1520.6,824.5 L1516.5,824.6 L1512.5,824.7 L1508.7,824.8 L1504.9,825.0 L1501.2,825.2 L1497.6,825.4 L1494.1,825.6 L1490.6,825.8 L1487.3,826.1 L1484.0,826.3 L1480.8,826.6 L1477.6,826.9 L1474.6,827.3 L1471.6,827.6 L1468.6,828.0 L1465.7,828.4 L1462.9,828.8 L1460.1,829.3 L1457.4,829.7 L1454.7,830.2 L1452.0,830.7 L1449.5,831.3 L1446.9,831.9 L1444.4,832.5 L1441.9,833.1 L1439.4,833.7 L1437.0,834.4 L1434.6,835.1 L1432.3,835.8 L1429.9,836.6 L1427.6,837.3 L1425.3,838.2 L1423.0,839.0 L1420.7,839.9 L1418.4,840.8 L1416.1,841.7 L1413.9,842.6 L1411.6,843.6 L1409.3,844.6 L1407.1,845.7 L1404.8,846.8 L1402.5,847.9 L1400.2,849.0 L1397.8,850.2 L1395.5,851.4 L1393.1,852.7 L1390.8,853.9 L1388.4,855.2 L1385.9,856.6 L1383.4,858.0 L1380.9,859.4 L1378.4,860.8 L1375.8,862.3 L1373.2,863.8 L1370.5,865.4Z" fill="#0488d4"/>
<text id="L35" font-size="16.2" fill="#242424"><textPath href="#tp36" startOffset="258.1">Carte Heuristique</textPath></text>
<path d="M1371.1,868.9 L1373.5,869.4 L1375.8,869.9 L1378.1,870.3 L1380.4,870.8 L1382.7,871.3 L1384.9,871.7 L1387.1,872.1 L1389.2,872.5 L1391.4,872.9 L1393.5,873.2 L1395.5,873.6 L1397.6,873.9 L1399.6,874.2 L1401.6,874.6 L1403.6,874.8 L1405.6,875.1 L1407.6,875.4 L1409.6,875.6 L1411.5,875.9 L1413.4,876.1 L1415.3,876.3 L1417.3,876.5 L1419.2,876.7 L1421.1,876.9 L1423.0,877.0 L1424.9,877.2 L1426.8,877.3 L1428.7,877.5 L1430.6,877.6 L1432.5,877.7 L1434.4,877.8 L1436.3,877.9 L1438.2,878.0 L1440.1,878.1 L1442.1,878.2 L1444.0,878.2 L1446.0,878.3 L1448.0,878.3 L1450.0,878.4 L1452.0,878.4 L1454.1,878.4 L1456.1,878.5 L1458.2,878.5 L1460.3,878.5 L1462.5,878.5 L1464.7,878.5 L1466.9,878.5 L1469.1,878.5 L1471.3,878.5 L1473.6,878.5 L1476.0,878.5 L1478.3,878.4 L1480.8,878.4 L1483.2,878.4 L1485.7,878.4 L1488.2,878.3 L1490.8,878.3 L1493.4,878.3 L1496.1,878.3 L1498.8,878.2 L1501.6,878.2 L1504.4,878.2 L1507.3,878.1 L1510.2,878.1 L1510.2,877.1 L1507.3,877.1 L1504.4,877.0 L1501.6,877.0 L1498.8,877.0 L1496.1,877.0 L1493.4,876.9 L1490.8,876.9 L1488.2,876.9 L1485.7,876.9 L1483.2,876.9 L1480.8,876.8 L1478.3,876.8 L1476.0,876.8 L1473.7,876.7 L1471.4,876.7 L1469.1,876.7 L1466.9,876.6 L1464.7,876.6 L1462.5,876.5 L1460.4,876.5 L1458.3,876.4 L1456.2,876.4 L1454.1,876.3 L1452.1,876.2 L1450.1,876.2 L1448.1,876.1 L1446.1,876.0 L1444.1,875.9 L1442.2,875.8 L1440.3,875.7 L1438.3,875.6 L1436.4,875.4 L1434.5,875.3 L1432.6,875.2 L1430.7,875.0 L1428.9,874.9 L1427.0,874.7 L1425.1,874.5 L1423.2,874.3 L1421.3,874.1 L1419.5,873.9 L1417.6,873.7 L1415.7,873.4 L1413.8,873.2 L1411.9,872.9 L1410.0,872.6 L1408.0,872.4 L1406.1,872.1 L1404.1,871.7 L1402.1,871.4 L1400.2,871.1 L1398.1,870.7 L1396.1,870.3 L1394.1,870.0 L1392.0,869.6 L1389.9,869.1 L1387.7,868.7 L1385.6,868.2 L1383.4,867.8 L1381.2,867.3 L1378.9,866.8 L1376.6,866.3 L1374.3,865.7 L1371.9,865.1Z" fill="#0488d4"/>
<text id="L36" font-size="16.2" fill="#242424"><textPath href="#tp37" startOffset="248.3">IMindMap</textPath></text>
<path d="M1171.9,1003.4 L1176.9,1000.7 L1181.8,998.0 L1186.7,995.4 L1191.5,992.8 L1196.3,990.4 L1201.1,988.0 L1205.8,985.7 L1210.5,983.5 L1215.2,981.3 L1219.8,979.2 L1224.5,977.2 L1229.2,975.2 L1233.8,973.3 L1238.5,971.5 L1243.2,969.7 L1247.9,968.0 L1252.7,966.4 L1257.5,964.8 L1262.3,963.2 L1267.2,961.8 L1272.1,960.3 L1277.1,959.0 L1282.2,957.7 L1287.3,956.4 L1292.5,955.2 L1297.8,954.0 L1303.2,952.9 L1308.6,951.9 L1314.2,950.9 L1319.9,949.9 L1325.7,949.0 L1331.6,948.1 L1337.6,947.3 L1343.8,946.5 L1350.0,945.7 L1356.5,945.0 L1363.1,944.3 L1369.8,943.7 L1376.7,943.1 L1383.7,942.5 L1391.0,942.0 L1398.4,941.4 L1405.9,941.0 L1413.7,940.5 L1421.7,940.1 L1429.8,939.7 L1438.2,939.4 L1446.7,939.0 L1455.5,938.7 L1464.5,938.5 L1473.8,938.2 L1483.2,938.0 L1492.9,937.7 L1502.9,937.6 L1513.1,937.4 L1523.6,937.2 L1534.3,937.1 L1545.3,936.9 L1556.5,936.8 L1568.1,936.7 L1579.9,936.6 L1592.0,936.5 L1604.4,936.5 L1617.1,936.4 L1617.1,935.2 L1604.4,935.1 L1592.0,935.1 L1579.9,935.1 L1568.0,935.1 L1556.5,935.0 L1545.2,935.1 L1534.3,935.1 L1523.5,935.1 L1513.1,935.2 L1502.9,935.3 L1492.9,935.4 L1483.2,935.5 L1473.7,935.7 L1464.5,935.8 L1455.5,936.0 L1446.7,936.2 L1438.1,936.5 L1429.7,936.8 L1421.5,937.1 L1413.5,937.4 L1405.8,937.8 L1398.2,938.2 L1390.7,938.6 L1383.5,939.1 L1376.4,939.6 L1369.5,940.1 L1362.7,940.7 L1356.1,941.3 L1349.6,942.0 L1343.3,942.7 L1337.1,943.4 L1331.0,944.2 L1325.1,945.1 L1319.2,945.9 L1313.5,946.9 L1307.9,947.8 L1302.4,948.9 L1296.9,949.9 L1291.6,951.0 L1286.3,952.2 L1281.1,953.4 L1276.0,954.7 L1270.9,956.0 L1265.9,957.4 L1261.0,958.9 L1256.1,960.4 L1251.2,961.9 L1246.4,963.6 L1241.6,965.3 L1236.8,967.0 L1232.1,968.8 L1227.3,970.7 L1222.6,972.6 L1217.8,974.6 L1213.1,976.7 L1208.4,978.9 L1203.6,981.1 L1198.8,983.4 L1194.0,985.7 L1189.1,988.1 L1184.2,990.6 L1179.3,993.2 L1174.3,995.9 L1169.3,998.6Z" fill="#0488d4"/>
<text id="L37" font-size="19.6" fill="#242424"><textPath href="#tp38" startOffset="292.1">Ateliers Mind Mapping "Parents-Juniors"</textPath></text>
<path d="M1170.4,1004.2 L1177.7,1004.7 L1184.7,1005.1 L1191.6,1005.5 L1198.3,1005.9 L1204.8,1006.2 L1211.2,1006.6 L1217.3,1006.9 L1223.4,1007.3 L1229.3,1007.6 L1235.1,1007.9 L1240.7,1008.2 L1246.2,1008.5 L1251.7,1008.7 L1257.0,1009.0 L1262.3,1009.2 L1267.4,1009.5 L1272.5,1009.7 L1277.6,1009.9 L1282.6,1010.1 L1287.5,1010.3 L1292.4,1010.5 L1297.3,1010.6 L1302.2,1010.8 L1307.0,1011.0 L1311.9,1011.1 L1316.8,1011.2 L1321.7,1011.4 L1326.6,1011.5 L1331.5,1011.6 L1336.5,1011.7 L1341.6,1011.8 L1346.7,1011.9 L1351.8,1011.9 L1357.1,1012.0 L1362.4,1012.1 L1367.9,1012.1 L1373.4,1012.2 L1379.1,1012.2 L1384.9,1012.2 L1390.8,1012.3 L1396.8,1012.3 L1403.0,1012.3 L1409.4,1012.3 L1415.9,1012.3 L1422.6,1012.3 L1429.5,1012.3 L1436.6,1012.3 L1443.9,1012.3 L1451.3,1012.3 L1459.1,1012.2 L1467.0,1012.2 L1475.2,1012.2 L1483.6,1012.2 L1492.2,1012.1 L1501.2,1012.1 L1510.4,1012.0 L1519.9,1012.0 L1529.6,1011.9 L1539.7,1011.9 L1550.1,1011.8 L1560.8,1011.8 L1571.8,1011.7 L1583.1,1011.7 L1594.8,1011.6 L1594.8,1010.4 L1583.1,1010.3 L1571.8,1010.3 L1560.8,1010.2 L1550.1,1010.2 L1539.7,1010.1 L1529.6,1010.1 L1519.9,1010.0 L1510.4,1010.0 L1501.2,1009.9 L1492.2,1009.9 L1483.6,1009.8 L1475.2,1009.8 L1467.0,1009.7 L1459.1,1009.7 L1451.4,1009.6 L1443.9,1009.6 L1436.6,1009.5 L1429.5,1009.4 L1422.6,1009.4 L1415.9,1009.3 L1409.4,1009.2 L1403.1,1009.2 L1396.9,1009.1 L1390.8,1009.0 L1384.9,1008.9 L1379.1,1008.8 L1373.5,1008.7 L1367.9,1008.6 L1362.5,1008.5 L1357.2,1008.4 L1351.9,1008.3 L1346.7,1008.1 L1341.6,1008.0 L1336.6,1007.9 L1331.6,1007.7 L1326.7,1007.6 L1321.8,1007.4 L1316.9,1007.2 L1312.0,1007.0 L1307.2,1006.8 L1302.3,1006.6 L1297.5,1006.4 L1292.6,1006.2 L1287.7,1006.0 L1282.8,1005.7 L1277.8,1005.5 L1272.7,1005.2 L1267.6,1004.9 L1262.5,1004.7 L1257.2,1004.4 L1251.9,1004.1 L1246.5,1003.7 L1241.0,1003.4 L1235.3,1003.0 L1229.6,1002.7 L1223.7,1002.3 L1217.6,1001.9 L1211.5,1001.5 L1205.1,1001.1 L1198.6,1000.7 L1191.9,1000.2 L1185.1,999.7 L1178.0,999.3 L1170.8,998.8Z" fill="#0488d4"/>
<text id="L38" font-size="19.6" fill="#242424"><textPath href="#tp39" startOffset="276.4">Ateliers Mind Mapping pour Apprentis</textPath></text>
<path d="M1169.3,1004.7 L1171.6,1005.8 L1173.9,1006.9 L1176.1,1008.0 L1178.3,1009.2 L1180.4,1010.3 L1182.5,1011.5 L1184.5,1012.7 L1186.5,1013.9 L1188.4,1015.2 L1190.4,1016.5 L1192.3,1017.7 L1194.2,1019.0 L1196.1,1020.3 L1198.0,1021.6 L1199.9,1023.0 L1201.8,1024.3 L1203.8,1025.6 L1205.8,1027.0 L1207.8,1028.3 L1209.8,1029.7 L1211.9,1031.0 L1214.0,1032.4 L1216.2,1033.7 L1218.4,1035.1 L1220.7,1036.4 L1223.1,1037.7 L1225.6,1039.0 L1228.1,1040.3 L1230.7,1041.6 L1233.4,1042.9 L1236.2,1044.2 L1239.1,1045.4 L1242.2,1046.7 L1245.3,1047.9 L1248.5,1049.0 L1251.9,1050.2 L1255.4,1051.3 L1259.1,1052.4 L1262.9,1053.5 L1266.9,1054.6 L1271.0,1055.6 L1275.2,1056.6 L1279.7,1057.6 L1284.3,1058.5 L1289.1,1059.4 L1294.0,1060.2 L1299.2,1061.0 L1304.6,1061.8 L1310.1,1062.5 L1315.9,1063.2 L1321.9,1063.9 L1328.1,1064.5 L1334.5,1065.0 L1341.2,1065.5 L1348.1,1066.0 L1355.3,1066.4 L1362.7,1066.8 L1370.3,1067.1 L1378.2,1067.3 L1386.4,1067.5 L1394.9,1067.7 L1403.6,1067.7 L1412.7,1067.7 L1422.0,1067.7 L1422.0,1066.5 L1412.7,1066.4 L1403.7,1066.2 L1394.9,1066.0 L1386.5,1065.7 L1378.3,1065.4 L1370.4,1065.0 L1362.8,1064.6 L1355.4,1064.1 L1348.3,1063.6 L1341.4,1063.1 L1334.8,1062.4 L1328.4,1061.8 L1322.2,1061.1 L1316.2,1060.3 L1310.5,1059.6 L1305.0,1058.7 L1299.7,1057.9 L1294.6,1057.0 L1289.7,1056.1 L1284.9,1055.1 L1280.4,1054.1 L1276.0,1053.1 L1271.8,1052.1 L1267.8,1051.0 L1263.9,1049.9 L1260.2,1048.8 L1256.6,1047.6 L1253.2,1046.4 L1249.9,1045.3 L1246.7,1044.0 L1243.7,1042.8 L1240.8,1041.6 L1238.0,1040.3 L1235.2,1039.0 L1232.6,1037.8 L1230.1,1036.5 L1227.6,1035.1 L1225.3,1033.8 L1223.0,1032.5 L1220.8,1031.2 L1218.6,1029.8 L1216.5,1028.5 L1214.4,1027.1 L1212.4,1025.7 L1210.4,1024.4 L1208.5,1023.0 L1206.6,1021.7 L1204.6,1020.3 L1202.7,1018.9 L1200.8,1017.6 L1199.0,1016.2 L1197.0,1014.9 L1195.1,1013.5 L1193.2,1012.2 L1191.2,1010.9 L1189.2,1009.6 L1187.2,1008.3 L1185.2,1007.0 L1183.0,1005.7 L1180.9,1004.5 L1178.6,1003.3 L1176.3,1002.0 L1174.0,1000.9 L1171.5,999.7Z" fill="#0488d4"/>
<text id="L39" font-size="19.6" fill="#242424"><textPath href="#tp40" startOffset="315.4">Coaching PNL</textPath></text>
<path d="M1168.1,1003.7 L1172.0,1009.5 L1175.9,1015.1 L1179.8,1020.5 L1183.7,1025.8 L1187.6,1030.9 L1191.5,1035.8 L1195.4,1040.6 L1199.3,1045.3 L1203.2,1049.7 L1207.1,1054.1 L1211.0,1058.3 L1214.9,1062.3 L1218.9,1066.2 L1222.8,1070.0 L1226.8,1073.6 L1230.8,1077.1 L1234.8,1080.4 L1238.9,1083.7 L1242.9,1086.8 L1247.0,1089.7 L1251.2,1092.6 L1255.3,1095.3 L1259.5,1097.9 L1263.8,1100.4 L1268.0,1102.8 L1272.3,1105.1 L1276.7,1107.3 L1281.1,1109.3 L1285.5,1111.3 L1290.0,1113.1 L1294.5,1114.9 L1299.1,1116.6 L1303.7,1118.1 L1308.4,1119.6 L1313.1,1121.0 L1317.9,1122.3 L1322.8,1123.6 L1327.7,1124.7 L1332.7,1125.8 L1337.7,1126.8 L1342.8,1127.7 L1348.0,1128.5 L1353.3,1129.3 L1358.6,1130.0 L1364.0,1130.7 L1369.5,1131.3 L1375.1,1131.8 L1380.7,1132.3 L1386.4,1132.8 L1392.2,1133.1 L1398.1,1133.5 L1404.1,1133.8 L1410.2,1134.0 L1416.4,1134.2 L1422.7,1134.4 L1429.0,1134.6 L1435.5,1134.7 L1442.1,1134.8 L1448.8,1134.8 L1455.6,1134.9 L1462.4,1134.9 L1469.5,1134.9 L1476.6,1134.8 L1483.8,1134.8 L1483.8,1133.6 L1476.6,1133.6 L1469.5,1133.5 L1462.5,1133.4 L1455.6,1133.3 L1448.8,1133.2 L1442.1,1133.1 L1435.5,1132.9 L1429.1,1132.7 L1422.7,1132.5 L1416.5,1132.2 L1410.3,1132.0 L1404.2,1131.6 L1398.3,1131.3 L1392.4,1130.9 L1386.6,1130.4 L1380.9,1129.9 L1375.3,1129.3 L1369.8,1128.7 L1364.3,1128.1 L1359.0,1127.4 L1353.7,1126.6 L1348.5,1125.7 L1343.3,1124.8 L1338.3,1123.9 L1333.3,1122.8 L1328.4,1121.7 L1323.5,1120.5 L1318.7,1119.3 L1314.0,1117.9 L1309.4,1116.5 L1304.8,1115.0 L1300.2,1113.4 L1295.7,1111.7 L1291.3,1109.9 L1286.9,1108.0 L1282.6,1106.0 L1278.3,1103.9 L1274.1,1101.8 L1269.9,1099.5 L1265.7,1097.1 L1261.6,1094.6 L1257.5,1092.0 L1253.5,1089.2 L1249.4,1086.4 L1245.4,1083.4 L1241.5,1080.3 L1237.6,1077.1 L1233.6,1073.8 L1229.8,1070.3 L1225.9,1066.7 L1222.0,1063.0 L1218.2,1059.1 L1214.4,1055.0 L1210.6,1050.9 L1206.8,1046.6 L1203.0,1042.1 L1199.2,1037.5 L1195.4,1032.7 L1191.6,1027.8 L1187.9,1022.7 L1184.1,1017.4 L1180.3,1012.0 L1176.5,1006.4 L1172.7,1000.7Z" fill="#0488d4"/>
<text id="L40" font-size="19.6" fill="#242424"><textPath href="#tp41" startOffset="319.1">Formations pour Adultes</textPath></text>
<path d="M1167.9,1003.4 L1171.1,1009.9 L1174.2,1016.4 L1177.2,1022.7 L1180.3,1028.9 L1183.2,1034.9 L1186.2,1040.8 L1189.1,1046.6 L1191.9,1052.2 L1194.8,1057.7 L1197.6,1063.1 L1200.4,1068.4 L1203.2,1073.5 L1206.0,1078.5 L1208.8,1083.4 L1211.5,1088.2 L1214.3,1092.8 L1217.1,1097.3 L1219.8,1101.8 L1222.6,1106.0 L1225.4,1110.2 L1228.3,1114.3 L1231.1,1118.2 L1234.0,1122.0 L1236.9,1125.7 L1239.8,1129.3 L1242.8,1132.8 L1245.8,1136.2 L1248.8,1139.4 L1251.9,1142.6 L1255.1,1145.7 L1258.3,1148.6 L1261.5,1151.4 L1264.8,1154.2 L1268.2,1156.8 L1271.7,1159.3 L1275.2,1161.7 L1278.8,1164.1 L1282.5,1166.3 L1286.3,1168.4 L1290.1,1170.4 L1294.1,1172.3 L1298.1,1174.2 L1302.3,1175.9 L1306.5,1177.5 L1310.8,1179.1 L1315.3,1180.5 L1319.8,1181.9 L1324.5,1183.1 L1329.3,1184.3 L1334.2,1185.4 L1339.2,1186.4 L1344.4,1187.3 L1349.7,1188.2 L1355.1,1188.9 L1360.7,1189.6 L1366.4,1190.2 L1372.2,1190.7 L1378.3,1191.2 L1384.4,1191.5 L1390.7,1191.8 L1397.2,1192.0 L1403.9,1192.1 L1410.7,1192.2 L1417.7,1192.2 L1417.7,1191.0 L1410.7,1190.9 L1403.9,1190.8 L1397.3,1190.6 L1390.8,1190.3 L1384.5,1189.9 L1378.4,1189.5 L1372.4,1189.0 L1366.6,1188.4 L1360.9,1187.7 L1355.4,1187.0 L1350.0,1186.1 L1344.7,1185.2 L1339.6,1184.3 L1334.7,1183.2 L1329.8,1182.1 L1325.1,1180.8 L1320.5,1179.5 L1316.0,1178.1 L1311.7,1176.6 L1307.4,1175.1 L1303.3,1173.4 L1299.2,1171.7 L1295.3,1169.8 L1291.4,1167.9 L1287.7,1165.8 L1284.0,1163.7 L1280.4,1161.5 L1276.9,1159.2 L1273.5,1156.8 L1270.2,1154.3 L1266.9,1151.7 L1263.7,1148.9 L1260.5,1146.1 L1257.4,1143.2 L1254.3,1140.2 L1251.3,1137.0 L1248.4,1133.8 L1245.5,1130.5 L1242.6,1127.0 L1239.8,1123.4 L1237.0,1119.7 L1234.2,1115.9 L1231.5,1112.0 L1228.7,1108.0 L1226.0,1103.8 L1223.3,1099.6 L1220.6,1095.2 L1217.9,1090.7 L1215.2,1086.0 L1212.6,1081.3 L1209.9,1076.4 L1207.2,1071.4 L1204.5,1066.2 L1201.8,1061.0 L1199.0,1055.6 L1196.2,1050.1 L1193.5,1044.4 L1190.6,1038.6 L1187.8,1032.7 L1184.9,1026.6 L1182.0,1020.4 L1179.0,1014.1 L1176.0,1007.6 L1172.9,1001.0Z" fill="#0488d4"/>
<text id="L41" font-size="19.6" fill="#242424"><textPath href="#tp42" startOffset="356.4">Cours de langues</textPath></text>
<circle cx="1755" cy="374.5" r="2.1" fill="#90d600"/>
<circle cx="1832.8" cy="540.6" r="2.1" fill="#90d600"/>
<circle cx="1692.4" cy="729.5" r="2.1" fill="#90d600"/>
<circle cx="1371.5" cy="867" r="2.1" fill="#0488d4"/>
<circle cx="280.6" cy="232.5" r="2.1" fill="#2626b2"/>
<circle cx="279.6" cy="335.5" r="2.1" fill="#2626b2"/>
<circle cx="276.7" cy="457.5" r="2.1" fill="#2626b2"/>
<rect x="990.5" y="61.5" width="374.0" height="122.0" rx="14" fill="#fee5bd" stroke="#f07620" stroke-width="3"/>
<rect x="453.5" y="259.5" width="242.0" height="130.0" rx="14" fill="#cacaf8" stroke="#2828b0" stroke-width="3"/>
<rect x="1104.5" y="470.5" width="305.0" height="110.0" rx="12" fill="#effcbc" stroke="#94d010" stroke-width="3"/>
<rect x="258.5" y="689.5" width="347.0" height="99.0" rx="14" fill="#fcbcf0" stroke="#c0088a" stroke-width="3"/>
<rect x="868.5" y="937.5" width="299.0" height="129.0" rx="14" fill="#bdeefc" stroke="#1088d0" stroke-width="3"/>
<g transform="translate(996,66) scale(0.09205)">
<rect x="0" y="0" width="1749" height="1206" fill="#fff"/>
<g fill="none" stroke="#111" stroke-linecap="round">
<path d="M850,640 C700,560 520,470 340,500 C230,530 195,640 300,720 C400,780 600,730 790,650" stroke-width="20"/>
<path d="M850,640 C1000,545 1150,500 1300,500 C1450,500 1585,540 1572,650" stroke-width="26"/>
<path d="M1572,650 C1555,770 1400,845 1230,845 C1080,845 950,740 850,640" stroke-width="40"/>
<path d="M875,525 C800,460 760,380 770,320 C785,265 850,270 900,410 C950,275 1065,250 1065,350 C1065,430 990,520 880,625 C830,690 785,820 820,945" stroke-width="26"/>
</g></g>
<g transform="translate(459,266) scale(0.09783)">
<defs><linearGradient id="sky" x1="0" y1="0" x2="0.35" y2="1">
<stop offset="0" stop-color="#08249a"/><stop offset="0.3" stop-color="#1050b4"/><stop offset="0.6" stop-color="#2a84c8"/><stop offset="0.85" stop-color="#5aa4c8"/><stop offset="1" stop-color="#80b4c0"/></linearGradient>
<filter id="cblur" x="-20%" y="-20%" width="140%" height="140%"><feTurbulence type="fractalNoise" baseFrequency="0.025" numOctaves="3" seed="3" result="n"/>
<feDisplacementMap in="SourceGraphic" in2="n" scale="90" xChannelSelector="R" yChannelSelector="G" result="d"/><feGaussianBlur in="d" stdDeviation="8"/></filter>
<clipPath id="lclip"><rect x="0" y="0" width="1196" height="1206"/></clipPath></defs>
<g clip-path="url(#lclip)">
<rect x="0" y="0" width="1196" height="1206" fill="url(#sky)"/>
<g filter="url(#cblur)">
<path d="M207,182 C240,100 330,20 428,-40 L1250,-40 L1250,182 C1180,220 1120,237 1060,245 C982,251 900,300 843,292 C800,260 774,200 700,200 C600,190 420,230 207,182 Z" fill="#f2f4f6"/>
<path d="M581,722 C590,600 640,480 774,390 C850,350 950,330 1051,362 L1250,362 L1250,584 C1150,600 1051,612 1000,640 C900,690 760,740 581,722 Z" fill="#eef0f2"/>
<path d="M747,805 C800,740 912,722 1000,700 C1100,680 1196,667 1250,667 L1250,1250 L912,1250 C940,1150 954,1051 900,1000 C850,960 790,900 747,805 Z" fill="#dfe6ea"/>
<path d="M880,1000 C950,960 1050,980 1250,1000 L1250,1250 L900,1250 Z" fill="#b8c8cc"/>
<path d="M-50,1120 C200,1090 500,1110 900,1160 L900,1250 L-50,1250 Z" fill="#9cc0c8" opacity="0.8"/>
</g>
<g fill="#ec5c34">
<path d="M220,1206 L355,1206 L740,190 L715,186 Z"/>
<path d="M0,560 L715,186 L728,200 L0,612 Z"/>
<path d="M0,928 L304,1010 L295,1065 L0,1000 Z"/>
<path d="M14,568 L484,650 L476,690 L10,606 Z"/>
<path d="M235,470 L567,526 L560,554 L228,498 Z"/>
<path d="M360,402 L608,444 L603,465 L355,422 Z"/>
<path d="M440,350 L636,384 L632,400 L436,366 Z"/>
<path d="M505,310 L660,336 L657,349 L501,323 Z"/>
<path d="M555,278 L680,298 L678,309 L552,289 Z"/>
<path d="M595,252 L695,268 L694,277 L592,262 Z"/>
<path d="M628,230 L708,242 L707,250 L625,238 Z"/>
<path d="M655,212 L718,221 L717,228 L652,219 Z"/>
</g>
<path d="M290,1206 L355,1206 L740,190 L728,190 Z" fill="#b83a1a" opacity="0.45"/>
</g></g>
<g transform="translate(264,697) scale(0.09150)">
<defs><linearGradient id="hbg" x1="0" y1="0" x2="1" y2="1">
<stop offset="0" stop-color="#dcc4a4"/><stop offset="0.45" stop-color="#eadac4"/><stop offset="1" stop-color="#f4ece2"/></linearGradient>
<filter id="hblur"><feGaussianBlur stdDeviation="10"/></filter>
<clipPath id="hclip"><rect x="0" y="0" width="2000" height="940"/></clipPath></defs>
<g clip-path="url(#hclip)">
<rect x="0" y="0" width="2000" height="940" fill="url(#hbg)"/>
<path d="M800,0 C760,80 720,150 712,290" fill="none" stroke="#6a4a30" stroke-width="14"/>
<g filter="url(#hblur)">
<path d="M0,250 C80,200 150,175 200,170 C330,175 450,225 560,250 C640,285 720,350 780,420 C830,490 870,560 860,585 C830,600 800,575 780,540 C760,510 740,480 720,470 C750,560 790,640 780,690 C760,710 720,700 700,630 C680,580 660,540 640,520 C660,600 670,670 630,700 C590,700 560,650 540,590 C510,550 480,520 440,500 C380,470 290,450 220,480 C150,530 80,620 0,700 Z" fill="#c67c4c"/>
<path d="M60,215 C200,160 360,190 480,230 C560,260 600,300 640,330 C520,300 380,260 200,240 C140,240 90,250 60,260 Z" fill="#e0a474"/>
<path d="M0,300 C100,330 200,390 260,440 C200,480 100,580 0,700 Z" fill="#5a2414"/>
<path d="M520,430 C600,420 680,460 720,470 C750,560 790,640 780,690 C760,710 720,700 700,630 C670,570 600,500 520,430 Z" fill="#6e2c16"/>
<path d="M2000,250 C1900,280 1750,330 1600,380 C1500,420 1400,440 1300,450 C1200,470 1170,500 1180,520 C1200,545 1300,530 1380,535 C1420,540 1450,550 1460,560 C1400,640 1375,740 1395,870 C1410,910 1450,900 1465,860 C1470,800 1485,750 1500,720 C1500,800 1520,880 1555,880 C1590,860 1590,770 1620,700 C1625,790 1640,840 1665,838 C1690,810 1685,740 1680,720 C1800,680 1900,640 2000,600 Z" fill="#d8a070"/>
<path d="M1300,455 C1400,440 1520,410 1620,380 C1560,440 1480,480 1400,500 C1350,500 1300,480 1300,455 Z" fill="#eec098"/>
<path d="M2000,320 C1900,360 1800,420 1750,480 C1720,560 1700,640 1680,720 C1800,680 1900,640 2000,600 Z" fill="#9a5a2a"/>
<path d="M1460,560 C1500,600 1560,640 1620,700 C1600,720 1560,680 1500,640 Z" fill="#a86a3c"/>
</g>
<path d="M870,585 C950,560 1050,520 1140,505" fill="none" stroke="#f8f0c0" stroke-width="18"/>
</g></g>
<g transform="translate(1111,475) scale(0.08209)">
<rect x="0" y="0" width="1669" height="1206" fill="#fff"/>
<ellipse cx="1400" cy="790" rx="260" ry="70" fill="#d8d8d8" opacity="0.7"/>
<path d="M155,875 C450,840 750,780 1000,700 C1080,670 1140,635 1175,600 L1160,555 L1525,395 L1360,680 L1300,660 C1200,760 1050,820 900,860 C650,920 400,950 190,985 Z" fill="#19c22a"/>
<path d="M190,985 C400,950 650,920 900,860 C1050,820 1200,760 1300,660 L1290,700 C1200,790 1050,850 900,890 C650,950 400,975 200,1000 Z" fill="#0e9a1c"/>
<g fill="#e4e4e4" stroke="#bdbdbd" stroke-width="12">
<path d="M440,600 C480,580 560,590 580,640 L560,760 L620,820 L600,860 L520,800 L430,780 L400,830 L380,800 L420,720 Z"/>
<circle cx="500" cy="490" r="90"/>
</g>
<path d="M412,470 C460,500 560,500 590,470 L592,520 C560,545 460,545 410,515 Z" fill="#3ab878"/>
</g>
<rect x="874.5" y="944" width="117.5" height="117" fill="#fff"/>
<path d="M883.1,996.7 L883.5,994.2 L884.0,991.7 L884.6,989.2 L885.4,986.8 L886.2,984.4 L887.2,982.1 L888.3,979.8 L889.5,977.6 L890.8,975.4 L892.2,973.3 L893.8,971.3 L895.4,969.3 L897.1,967.4 L898.9,965.7 L900.8,964.0 L902.8,962.4 L904.8,960.9 L907.0,959.5 L909.1,958.2 L911.4,957.1 L913.7,956.0 L916.1,955.1 L918.5,954.2 L920.9,953.5 L924.9,969.0 L923.3,969.5 L921.6,970.1 L920.0,970.7 L918.4,971.4 L916.9,972.2 L915.4,973.1 L913.9,974.1 L912.5,975.1 L911.1,976.2 L909.8,977.3 L908.6,978.6 L907.4,979.8 L906.3,981.2 L905.3,982.6 L904.3,984.0 L903.4,985.5 L902.6,987.0 L901.8,988.6 L901.1,990.2 L900.5,991.9 L900.0,993.5 L899.6,995.2 L899.3,996.9 L899.0,998.6Z" fill="#e8141a"/>
<path d="M940.0,952.3 L942.5,952.6 L944.9,953.1 L947.4,953.8 L949.8,954.5 L952.2,955.3 L954.5,956.3 L956.8,957.4 L959.0,958.6 L961.2,959.9 L963.2,961.3 L965.3,962.8 L967.2,964.4 L969.1,966.1 L970.8,967.9 L972.5,969.8 L974.1,971.7 L975.6,973.8 L977.0,975.9 L978.3,978.0 L979.5,980.3 L980.5,982.6 L981.5,984.9 L982.3,987.3 L983.0,989.7 L967.6,993.8 L967.1,992.2 L966.5,990.5 L965.8,988.9 L965.1,987.4 L964.3,985.8 L963.4,984.4 L962.5,982.9 L961.5,981.5 L960.4,980.2 L959.2,978.9 L958.0,977.7 L956.7,976.5 L955.4,975.4 L954.0,974.3 L952.6,973.4 L951.1,972.5 L949.5,971.7 L948.0,970.9 L946.4,970.3 L944.8,969.7 L943.1,969.2 L941.4,968.8 L939.7,968.4 L938.0,968.2Z" fill="#1a72c8"/>
<path d="M984.4,1009.1 L984.0,1011.6 L983.5,1014.0 L982.9,1016.4 L982.2,1018.8 L981.4,1021.1 L980.4,1023.4 L979.4,1025.7 L978.2,1027.9 L976.9,1030.0 L975.6,1032.1 L974.1,1034.1 L972.5,1036.0 L970.9,1037.9 L969.1,1039.6 L967.3,1041.3 L965.4,1042.9 L963.4,1044.4 L961.3,1045.8 L959.2,1047.1 L957.0,1048.3 L954.8,1049.4 L952.5,1050.3 L950.2,1051.2 L947.8,1051.9 L943.4,1036.5 L945.0,1036.0 L946.6,1035.4 L948.2,1034.8 L949.7,1034.0 L951.2,1033.2 L952.7,1032.3 L954.1,1031.4 L955.5,1030.4 L956.8,1029.3 L958.0,1028.1 L959.2,1026.9 L960.4,1025.6 L961.4,1024.3 L962.4,1022.9 L963.4,1021.5 L964.3,1020.0 L965.1,1018.5 L965.8,1017.0 L966.4,1015.4 L967.0,1013.8 L967.5,1012.2 L967.9,1010.5 L968.2,1008.9 L968.5,1007.2Z" fill="#fbbf10"/>
<path d="M927.5,1053.5 L925.1,1053.2 L922.6,1052.7 L920.2,1052.1 L917.8,1051.4 L915.5,1050.5 L913.2,1049.6 L911.0,1048.5 L908.8,1047.4 L906.6,1046.1 L904.6,1044.7 L902.6,1043.2 L900.6,1041.7 L898.8,1040.0 L897.0,1038.3 L895.3,1036.4 L893.7,1034.5 L892.3,1032.5 L890.9,1030.5 L889.6,1028.4 L888.4,1026.2 L887.3,1023.9 L886.3,1021.7 L885.5,1019.3 L884.7,1017.0 L900.1,1012.5 L900.6,1014.2 L901.2,1015.8 L901.9,1017.3 L902.6,1018.9 L903.4,1020.4 L904.3,1021.8 L905.3,1023.2 L906.3,1024.6 L907.4,1025.9 L908.5,1027.2 L909.8,1028.4 L911.0,1029.5 L912.3,1030.6 L913.7,1031.6 L915.1,1032.5 L916.6,1033.4 L918.1,1034.2 L919.7,1034.9 L921.2,1035.6 L922.8,1036.2 L924.5,1036.6 L926.1,1037.1 L927.8,1037.4 L929.5,1037.6Z" fill="#0fa84a"/>
<path d="M917.7,945.6 L947.1,959.5 L925.8,974.5" fill="#e8141a" stroke="#fff" stroke-width="1.3" stroke-linejoin="miter"/>
<path d="M990.9,986.5 L976.0,1015.5 L962.1,994.8" fill="#1a72c8" stroke="#fff" stroke-width="1.3" stroke-linejoin="miter"/>
<path d="M951.1,1059.8 L920.0,1045.2 L942.4,1031.1" fill="#fbbf10" stroke="#fff" stroke-width="1.3" stroke-linejoin="miter"/>
<path d="M876.8,1020.3 L891.1,989.2 L905.5,1011.5" fill="#0fa84a" stroke="#fff" stroke-width="1.3" stroke-linejoin="miter"/>
<g>
<defs><linearGradient id="pbg" x1="0" y1="0" x2="1" y2="0.3">
<stop offset="0" stop-color="#d9d9db"/><stop offset="1" stop-color="#e3e3e3"/></linearGradient>
<clipPath id="pclip"><rect x="800" y="382" width="182" height="235"/></clipPath>
<filter id="pblur" x="-5%" y="-5%" width="110%" height="110%"><feGaussianBlur stdDeviation="0.7"/></filter>
<filter id="curl" x="-10%" y="-10%" width="120%" height="120%">
<feTurbulence type="turbulence" baseFrequency="0.06" numOctaves="2" seed="7" result="t"/>
<feDisplacementMap in="SourceGraphic" in2="t" scale="7" xChannelSelector="R" yChannelSelector="G" result="d"/>
<feGaussianBlur in="d" stdDeviation="0.9"/></filter>
<radialGradient id="face" cx="0.5" cy="0.45" r="0.6"><stop offset="0" stop-color="#e2b8a2"/><stop offset="0.65" stop-color="#d4a68c"/><stop offset="1" stop-color="#b88068"/></radialGradient>
<radialGradient id="chest" cx="0.5" cy="0.2" r="0.8"><stop offset="0" stop-color="#b88468"/><stop offset="1" stop-color="#cc9878"/></radialGradient>
</defs>
<rect x="800" y="382" width="182" height="235" fill="url(#pbg)"/>
<g clip-path="url(#pclip)">
<g filter="url(#pblur)">
<path d="M800,592 C806,584 814,580 824,580 L826,617 L800,617 Z" fill="#b08060"/>
<path d="M848,535 L930,535 C930,560 932,574 936,584 C942,600 946,610 950,617 L844,617 C846,600 848,586 848,574 Z" fill="url(#chest)"/>
</g>
<g filter="url(#curl)">
<path d="M813,500 C809,470 820,444 838,426 C853,413 872,410 890,414 C915,417 940,432 956,455 C970,478 977,505 975,530 C973,552 964,568 952,578 C944,586 938,588 934,586 C930,578 931,560 929,540 L860,540 C852,560 858,575 852,585 C838,576 826,563 818,547 C810,532 810,515 813,500 Z" fill="#342a26"/>
<path d="M852,418 C856,404 870,400 880,410 M880,412 C888,400 905,402 912,414 M826,436 C812,442 806,456 804,470 M954,452 C964,448 972,458 976,470 M812,525 C804,535 804,545 808,555 M968,545 C976,552 978,562 974,572" fill="none" stroke="#4a403c" stroke-width="2" opacity="0.7"/>
</g>
<g filter="url(#pblur)">
<path d="M843,500 C842,472 845,454 852,450 C868,458 890,474 912,481 C924,490 930,503 930,520 C929,540 920,552 906,557 C895,561 880,561 868,556 C855,548 845,530 843,500 Z" fill="url(#face)"/>
<path d="M905,470 C915,478 925,490 928,505 C922,495 912,482 900,474 Z" fill="#3a2a26"/>
<path d="M847,479 C855,476 863,477 868,481" fill="none" stroke="#5a3428" stroke-width="2.2"/>
<path d="M883,479 C891,475 900,476 905,480" fill="none" stroke="#5a3428" stroke-width="2.2"/>
<ellipse cx="856" cy="489" rx="4.5" ry="2.2" fill="#3a2420"/><ellipse cx="891" cy="487" rx="4.5" ry="2.2" fill="#3a2420"/>
<path d="M872,510 C877,513 882,513 886,510" fill="none" stroke="#9a6048" stroke-width="1.6"/>
<path d="M866,527 C878,523 892,521 902,523 C896,534 878,536 866,527 Z" fill="#b05a5a"/>
<path d="M870,527 C880,525 892,524 898,525 L896,528 C888,529 878,529 870,528 Z" fill="#f2e2de"/>
<path d="M932,505 C936,508 936,516 931,519 Z" fill="#d4a088"/>
<path d="M849,579 C855,595 858,605 860,617 L812,617 L810,596 C825,586 838,581 849,579 Z" fill="#ececec"/>
<path d="M816,604 C823,594 834,590 843,594 C839,602 830,608 818,614 Z M830,614 L852,606 L855,617 L834,617 Z M810,596 L821,590 L815,606 Z M845,584 L849,580 L852,594 Z" fill="#1c1c1c"/>
<path d="M934,617 C938,600 946,585 957,570 C968,574 976,577 982,579 L982,617 Z" fill="#ececec"/>
<path d="M955,580 C965,585 975,590 982,590 L982,602 C970,600 960,596 950,592 Z M938,610 C946,604 956,606 963,612 L961,617 L938,617 Z M968,606 L982,611 L982,617 L970,617 Z M946,584 L954,572 L957,586 Z" fill="#1c1c1c"/>
<path d="M866,590 C880,604 905,606 925,592" fill="none" stroke="#d8a870" stroke-width="0.8"/>
</g></g></g>
<text x="1165.0" y="128.5" font-size="25.5" fill="#242424">Depuis toujours</text>
<text x="584.0" y="332.0" font-size="25.5" fill="#242424">Demain</text>
<text x="1256.0" y="531.0" font-size="25.5" fill="#242424">Avant 2008</text>
<text x="454.0" y="745.5" font-size="25.5" fill="#242424">Aujourd'hui</text>
<text x="1001.0" y="1010.0" font-size="25.5" fill="#242424">Depuis 2008</text>
</svg></body></html>
